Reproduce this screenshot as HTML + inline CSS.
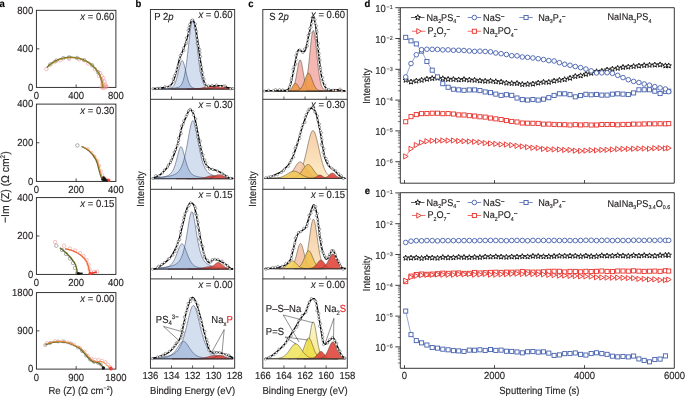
<!DOCTYPE html><html><head><meta charset="utf-8"><style>html,body{margin:0;padding:0;background:#fff;overflow:hidden}svg{display:block;will-change:transform}text{font-family:"Liberation Sans",sans-serif;text-rendering:geometricPrecision;}</style></head><body>
<svg width="685" height="396" viewBox="0 0 685 396">
<rect width="685" height="396" fill="#fff"/>
<text transform="translate(-0.60,6.80) scale(1,1.08)" x="0" y="0" font-size="9.5" text-anchor="start" fill="#000" stroke="#000" stroke-width="0.14" font-weight="bold" >a</text>
<text transform="translate(135.40,6.80) scale(1,1.08)" x="0" y="0" font-size="9.5" text-anchor="start" fill="#000" stroke="#000" stroke-width="0.14" font-weight="bold" >b</text>
<text transform="translate(248.30,6.80) scale(1,1.08)" x="0" y="0" font-size="9.5" text-anchor="start" fill="#000" stroke="#000" stroke-width="0.14" font-weight="bold" >c</text>
<text transform="translate(364.60,6.80) scale(1,1.08)" x="0" y="0" font-size="9.5" text-anchor="start" fill="#000" stroke="#000" stroke-width="0.14" font-weight="bold" >d</text>
<text transform="translate(364.80,194.40) scale(1,1.08)" x="0" y="0" font-size="9.5" text-anchor="start" fill="#000" stroke="#000" stroke-width="0.14" font-weight="bold" >e</text>
<rect x="36.4" y="10.3" width="79.50" height="77.10" fill="none" stroke="#231f20" stroke-width="0.9"/>
<line x1="36.40" y1="48.85" x2="39.40" y2="48.85" stroke="#231f20" stroke-width="0.8"/>
<line x1="76.15" y1="87.40" x2="76.15" y2="84.40" stroke="#231f20" stroke-width="0.8"/>
<text transform="translate(33.20,90.60) scale(1,1.08)" x="0" y="0" font-size="9.5" text-anchor="end" fill="#231f20" stroke="#231f20" stroke-width="0.14" font-weight="normal" >0</text>
<text transform="translate(33.20,52.05) scale(1,1.08)" x="0" y="0" font-size="9.5" text-anchor="end" fill="#231f20" stroke="#231f20" stroke-width="0.14" font-weight="normal" >400</text>
<text transform="translate(33.20,13.50) scale(1,1.08)" x="0" y="0" font-size="9.5" text-anchor="end" fill="#231f20" stroke="#231f20" stroke-width="0.14" font-weight="normal" >800</text>
<text transform="translate(36.40,99.00) scale(1,1.08)" x="0" y="0" font-size="9.5" text-anchor="middle" fill="#231f20" stroke="#231f20" stroke-width="0.14" font-weight="normal" >0</text>
<text transform="translate(76.15,99.00) scale(1,1.08)" x="0" y="0" font-size="9.5" text-anchor="middle" fill="#231f20" stroke="#231f20" stroke-width="0.14" font-weight="normal" >400</text>
<text transform="translate(115.90,99.00) scale(1,1.08)" x="0" y="0" font-size="9.5" text-anchor="middle" fill="#231f20" stroke="#231f20" stroke-width="0.14" font-weight="normal" >800</text>
<text transform="translate(114.40,19.90) scale(1,1.08)" x="0" y="0" font-size="9.5" text-anchor="end" fill="#231f20" stroke="#231f20" stroke-width="0.14"><tspan font-style="italic">x</tspan> = 0.60</text>
<rect x="36.4" y="104.1" width="79.50" height="77.30" fill="none" stroke="#231f20" stroke-width="0.9"/>
<line x1="36.40" y1="142.75" x2="39.40" y2="142.75" stroke="#231f20" stroke-width="0.8"/>
<line x1="76.15" y1="181.40" x2="76.15" y2="178.40" stroke="#231f20" stroke-width="0.8"/>
<text transform="translate(33.20,184.60) scale(1,1.08)" x="0" y="0" font-size="9.5" text-anchor="end" fill="#231f20" stroke="#231f20" stroke-width="0.14" font-weight="normal" >0</text>
<text transform="translate(33.20,145.95) scale(1,1.08)" x="0" y="0" font-size="9.5" text-anchor="end" fill="#231f20" stroke="#231f20" stroke-width="0.14" font-weight="normal" >200</text>
<text transform="translate(33.20,107.30) scale(1,1.08)" x="0" y="0" font-size="9.5" text-anchor="end" fill="#231f20" stroke="#231f20" stroke-width="0.14" font-weight="normal" >400</text>
<text transform="translate(36.40,193.00) scale(1,1.08)" x="0" y="0" font-size="9.5" text-anchor="middle" fill="#231f20" stroke="#231f20" stroke-width="0.14" font-weight="normal" >0</text>
<text transform="translate(76.15,193.00) scale(1,1.08)" x="0" y="0" font-size="9.5" text-anchor="middle" fill="#231f20" stroke="#231f20" stroke-width="0.14" font-weight="normal" >200</text>
<text transform="translate(115.90,193.00) scale(1,1.08)" x="0" y="0" font-size="9.5" text-anchor="middle" fill="#231f20" stroke="#231f20" stroke-width="0.14" font-weight="normal" >400</text>
<text transform="translate(114.40,113.70) scale(1,1.08)" x="0" y="0" font-size="9.5" text-anchor="end" fill="#231f20" stroke="#231f20" stroke-width="0.14"><tspan font-style="italic">x</tspan> = 0.30</text>
<rect x="36.4" y="197.6" width="79.50" height="76.80" fill="none" stroke="#231f20" stroke-width="0.9"/>
<line x1="36.40" y1="236.00" x2="39.40" y2="236.00" stroke="#231f20" stroke-width="0.8"/>
<line x1="76.15" y1="274.40" x2="76.15" y2="271.40" stroke="#231f20" stroke-width="0.8"/>
<text transform="translate(33.20,277.60) scale(1,1.08)" x="0" y="0" font-size="9.5" text-anchor="end" fill="#231f20" stroke="#231f20" stroke-width="0.14" font-weight="normal" >0</text>
<text transform="translate(33.20,239.20) scale(1,1.08)" x="0" y="0" font-size="9.5" text-anchor="end" fill="#231f20" stroke="#231f20" stroke-width="0.14" font-weight="normal" >200</text>
<text transform="translate(33.20,200.80) scale(1,1.08)" x="0" y="0" font-size="9.5" text-anchor="end" fill="#231f20" stroke="#231f20" stroke-width="0.14" font-weight="normal" >400</text>
<text transform="translate(36.40,286.00) scale(1,1.08)" x="0" y="0" font-size="9.5" text-anchor="middle" fill="#231f20" stroke="#231f20" stroke-width="0.14" font-weight="normal" >0</text>
<text transform="translate(76.15,286.00) scale(1,1.08)" x="0" y="0" font-size="9.5" text-anchor="middle" fill="#231f20" stroke="#231f20" stroke-width="0.14" font-weight="normal" >200</text>
<text transform="translate(115.90,286.00) scale(1,1.08)" x="0" y="0" font-size="9.5" text-anchor="middle" fill="#231f20" stroke="#231f20" stroke-width="0.14" font-weight="normal" >400</text>
<text transform="translate(114.40,207.20) scale(1,1.08)" x="0" y="0" font-size="9.5" text-anchor="end" fill="#231f20" stroke="#231f20" stroke-width="0.14"><tspan font-style="italic">x</tspan> = 0.15</text>
<rect x="36.4" y="292.6" width="79.50" height="76.50" fill="none" stroke="#231f20" stroke-width="0.9"/>
<line x1="36.40" y1="330.85" x2="39.40" y2="330.85" stroke="#231f20" stroke-width="0.8"/>
<line x1="76.15" y1="369.10" x2="76.15" y2="366.10" stroke="#231f20" stroke-width="0.8"/>
<text transform="translate(33.20,372.30) scale(1,1.08)" x="0" y="0" font-size="9.5" text-anchor="end" fill="#231f20" stroke="#231f20" stroke-width="0.14" font-weight="normal" >0</text>
<text transform="translate(33.20,334.05) scale(1,1.08)" x="0" y="0" font-size="9.5" text-anchor="end" fill="#231f20" stroke="#231f20" stroke-width="0.14" font-weight="normal" >900</text>
<text transform="translate(33.20,295.80) scale(1,1.08)" x="0" y="0" font-size="9.5" text-anchor="end" fill="#231f20" stroke="#231f20" stroke-width="0.14" font-weight="normal" >1800</text>
<text transform="translate(36.40,380.70) scale(1,1.08)" x="0" y="0" font-size="9.5" text-anchor="middle" fill="#231f20" stroke="#231f20" stroke-width="0.14" font-weight="normal" >0</text>
<text transform="translate(76.15,380.70) scale(1,1.08)" x="0" y="0" font-size="9.5" text-anchor="middle" fill="#231f20" stroke="#231f20" stroke-width="0.14" font-weight="normal" >900</text>
<text transform="translate(115.90,380.70) scale(1,1.08)" x="0" y="0" font-size="9.5" text-anchor="middle" fill="#231f20" stroke="#231f20" stroke-width="0.14" font-weight="normal" >1800</text>
<text transform="translate(114.40,302.20) scale(1,1.08)" x="0" y="0" font-size="9.5" text-anchor="end" fill="#231f20" stroke="#231f20" stroke-width="0.14"><tspan font-style="italic">x</tspan> = 0.00</text>
<text transform="translate(9.2,187.2) rotate(-90) scale(1,1.08)" font-size="10.4" text-anchor="middle" fill="#231f20" stroke="#231f20" stroke-width="0.14">−Im (Z) (Ω cm<tspan font-size="6.3" dy="-3.8">2</tspan><tspan dy="3.8">)</tspan></text>
<text transform="translate(80.60,393.60) scale(1,1.08)" x="0" y="0" font-size="9.5" text-anchor="middle" fill="#231f20" stroke="#231f20" stroke-width="0.14">Re (Z) (Ω cm<tspan font-size="5.4" dy="-3.6">−2</tspan><tspan dy="3.6">)</tspan></text>
<circle cx="50.31" cy="64.43" r="1.75" fill="none" stroke="#707070" stroke-width="0.55"/>
<circle cx="56.27" cy="60.66" r="1.75" fill="none" stroke="#707070" stroke-width="0.55"/>
<circle cx="63.23" cy="58.18" r="1.75" fill="none" stroke="#707070" stroke-width="0.55"/>
<circle cx="69.19" cy="57.36" r="1.75" fill="none" stroke="#707070" stroke-width="0.55"/>
<circle cx="77.14" cy="57.97" r="1.75" fill="none" stroke="#707070" stroke-width="0.55"/>
<circle cx="84.10" cy="60.19" r="1.75" fill="none" stroke="#707070" stroke-width="0.55"/>
<circle cx="92.05" cy="65.26" r="1.75" fill="none" stroke="#707070" stroke-width="0.55"/>
<circle cx="98.01" cy="72.22" r="1.75" fill="none" stroke="#707070" stroke-width="0.55"/>
<circle cx="46.34" cy="69.19" r="1.75" fill="none" stroke="#f29090" stroke-width="0.55"/>
<circle cx="54.29" cy="62.20" r="1.75" fill="none" stroke="#f29090" stroke-width="0.55"/>
<circle cx="60.25" cy="60.18" r="1.75" fill="none" stroke="#f29090" stroke-width="0.55"/>
<circle cx="69.19" cy="58.81" r="1.75" fill="none" stroke="#f29090" stroke-width="0.55"/>
<circle cx="79.13" cy="59.40" r="1.75" fill="none" stroke="#f29090" stroke-width="0.55"/>
<circle cx="88.08" cy="63.47" r="1.75" fill="none" stroke="#f29090" stroke-width="0.55"/>
<circle cx="95.03" cy="69.19" r="1.75" fill="none" stroke="#f29090" stroke-width="0.55"/>
<circle cx="99.01" cy="75.85" r="1.75" fill="none" stroke="#f29090" stroke-width="0.55"/>
<circle cx="100.00" cy="72.94" r="1.75" fill="none" stroke="#f29090" stroke-width="0.55"/>
<circle cx="101.49" cy="75.84" r="1.75" fill="none" stroke="#f29090" stroke-width="0.55"/>
<circle cx="103.48" cy="78.24" r="1.75" fill="none" stroke="#f29090" stroke-width="0.55"/>
<circle cx="101.99" cy="80.17" r="1.75" fill="none" stroke="#f29090" stroke-width="0.55"/>
<circle cx="104.47" cy="81.62" r="1.75" fill="none" stroke="#f29090" stroke-width="0.55"/>
<circle cx="102.48" cy="83.55" r="1.75" fill="none" stroke="#f29090" stroke-width="0.55"/>
<circle cx="104.97" cy="84.51" r="1.75" fill="none" stroke="#f29090" stroke-width="0.55"/>
<circle cx="105.96" cy="85.95" r="1.75" fill="none" stroke="#f29090" stroke-width="0.55"/>
<circle cx="103.48" cy="86.44" r="1.75" fill="none" stroke="#f29090" stroke-width="0.55"/>
<circle cx="101.49" cy="86.92" r="1.75" fill="none" stroke="#f29090" stroke-width="0.55"/>
<circle cx="104.97" cy="87.40" r="1.75" fill="none" stroke="#f29090" stroke-width="0.55"/>
<circle cx="106.46" cy="86.92" r="1.75" fill="none" stroke="#f29090" stroke-width="0.55"/>
<circle cx="102.98" cy="87.88" r="1.75" fill="none" stroke="#f29090" stroke-width="0.55"/>
<path d="M46.90,67.60 C47.13,67.37 47.79,66.67 48.25,66.23 C48.72,65.79 49.20,65.36 49.69,64.95 C50.18,64.53 50.68,64.13 51.20,63.75 C51.71,63.36 52.24,63.00 52.78,62.64 C53.32,62.29 53.87,61.95 54.43,61.63 C54.99,61.31 55.56,61.01 56.14,60.72 C56.72,60.43 57.31,60.16 57.91,59.91 C58.50,59.66 59.11,59.43 59.72,59.21 C60.33,58.99 60.95,58.80 61.57,58.62 C62.20,58.44 62.83,58.27 63.46,58.13 C64.09,57.99 64.73,57.87 65.37,57.76 C66.01,57.66 66.66,57.57 67.31,57.50 C67.95,57.44 68.60,57.39 69.25,57.36 C69.90,57.33 70.55,57.32 71.20,57.34 C71.85,57.35 72.50,57.37 73.15,57.42 C73.80,57.47 74.45,57.54 75.09,57.63 C75.74,57.71 76.38,57.82 77.02,57.94 C77.65,58.07 78.29,58.21 78.92,58.38 C79.55,58.54 80.17,58.72 80.79,58.92 C81.40,59.12 82.02,59.34 82.62,59.57 C83.22,59.81 83.82,60.06 84.41,60.33 C84.99,60.60 85.57,60.89 86.14,61.19 C86.71,61.50 87.27,61.82 87.82,62.16 C88.37,62.50 88.91,62.85 89.44,63.22 C89.97,63.59 90.48,63.98 90.98,64.38 C91.49,64.78 91.98,65.19 92.45,65.62 C92.93,66.05 93.39,66.49 93.84,66.95 C94.29,67.41 94.73,67.88 95.15,68.36 C95.57,68.84 95.97,69.34 96.36,69.84 C96.75,70.35 97.12,70.87 97.48,71.39 C97.83,71.92 98.17,72.46 98.49,73.01 C98.81,73.56 99.12,74.12 99.41,74.68 C99.69,75.25 99.96,75.82 100.21,76.41 C100.46,76.99 100.70,77.58 100.91,78.17 C101.12,78.77 101.32,79.37 101.49,79.98 C101.67,80.59 101.83,81.20 101.96,81.82 C102.10,82.43 102.22,83.05 102.32,83.68 C102.41,84.30 102.49,84.94 102.55,85.56 C102.61,86.18 102.65,87.09 102.67,87.40 C102.69,87.71 102.67,87.40 102.67,87.40" fill="none" stroke="#5f6820" stroke-width="1.5"/>
<path d="M47.10,67.95 C47.33,67.72 47.99,67.02 48.45,66.58 C48.92,66.14 49.40,65.71 49.89,65.30 C50.38,64.88 50.88,64.48 51.40,64.10 C51.91,63.71 52.44,63.35 52.98,62.99 C53.52,62.64 54.07,62.30 54.63,61.98 C55.19,61.66 55.76,61.36 56.34,61.07 C56.92,60.78 57.51,60.51 58.11,60.26 C58.70,60.01 59.31,59.78 59.92,59.56 C60.53,59.34 61.15,59.15 61.77,58.97 C62.40,58.79 63.03,58.62 63.66,58.48 C64.29,58.34 64.93,58.22 65.57,58.11 C66.21,58.01 66.86,57.92 67.51,57.85 C68.15,57.79 68.80,57.74 69.45,57.71 C70.10,57.68 70.75,57.67 71.40,57.69 C72.05,57.70 72.70,57.72 73.35,57.77 C74.00,57.82 74.65,57.89 75.29,57.98 C75.94,58.06 76.58,58.17 77.22,58.29 C77.85,58.42 78.49,58.56 79.12,58.73 C79.75,58.89 80.37,59.07 80.99,59.27 C81.60,59.47 82.22,59.69 82.82,59.92 C83.42,60.16 84.02,60.41 84.61,60.68 C85.19,60.95 85.77,61.24 86.34,61.54 C86.91,61.85 87.47,62.17 88.02,62.51 C88.57,62.85 89.11,63.20 89.64,63.57 C90.17,63.94 90.68,64.33 91.18,64.73 C91.69,65.13 92.18,65.54 92.65,65.97 C93.13,66.40 93.59,66.84 94.04,67.30 C94.49,67.76 94.93,68.23 95.35,68.71 C95.77,69.19 96.17,69.69 96.56,70.19 C96.95,70.70 97.32,71.22 97.68,71.74 C98.03,72.27 98.37,72.81 98.69,73.36 C99.01,73.91 99.32,74.47 99.61,75.03 C99.89,75.60 100.16,76.17 100.41,76.76 C100.66,77.34 100.90,77.93 101.11,78.52 C101.32,79.12 101.52,79.72 101.69,80.33 C101.87,80.94 102.03,81.55 102.16,82.17 C102.30,82.78 102.42,83.40 102.52,84.03 C102.61,84.65 102.69,85.29 102.75,85.91 C102.81,86.53 102.85,87.44 102.87,87.75 C102.89,88.06 102.87,87.75 102.87,87.75" fill="none" stroke="#e0a028" stroke-width="0.65"/>
<circle cx="77.40" cy="145.40" r="1.75" fill="none" stroke="#707070" stroke-width="0.55"/>
<circle cx="88.00" cy="149.00" r="1.4" fill="none" stroke="#f29090" stroke-width="0.55"/>
<circle cx="91.50" cy="152.50" r="1.4" fill="none" stroke="#f29090" stroke-width="0.55"/>
<circle cx="94.50" cy="156.50" r="1.4" fill="none" stroke="#f29090" stroke-width="0.55"/>
<circle cx="97.50" cy="161.00" r="1.4" fill="none" stroke="#f29090" stroke-width="0.55"/>
<circle cx="99.50" cy="166.00" r="1.4" fill="none" stroke="#f29090" stroke-width="0.55"/>
<circle cx="101.00" cy="171.00" r="1.4" fill="none" stroke="#f29090" stroke-width="0.55"/>
<circle cx="102.50" cy="175.00" r="1.4" fill="none" stroke="#f29090" stroke-width="0.55"/>
<circle cx="104.50" cy="178.00" r="1.4" fill="none" stroke="#f29090" stroke-width="0.55"/>
<circle cx="107.00" cy="179.50" r="1.4" fill="none" stroke="#f29090" stroke-width="0.55"/>
<circle cx="109.00" cy="180.00" r="1.4" fill="none" stroke="#f29090" stroke-width="0.55"/>
<path d="M81.50,146.40 C82.25,146.77 84.62,147.73 86.00,148.60 C87.38,149.47 88.58,150.45 89.80,151.60 C91.02,152.75 92.27,154.12 93.30,155.50 C94.33,156.88 95.25,158.32 96.00,159.90 C96.75,161.48 97.28,163.27 97.80,165.00 C98.32,166.73 98.63,168.55 99.10,170.30 C99.57,172.05 100.07,173.95 100.60,175.50 C101.13,177.05 102.02,178.92 102.30,179.60" fill="none" stroke="#5f6820" stroke-width="1.3"/>
<path d="M82.60,146.60 C83.35,146.97 85.72,147.93 87.10,148.80 C88.48,149.67 89.68,150.65 90.90,151.80 C92.12,152.95 93.37,154.32 94.40,155.70 C95.43,157.08 96.35,158.52 97.10,160.10 C97.85,161.68 98.38,163.47 98.90,165.20 C99.42,166.93 99.73,168.75 100.20,170.50 C100.67,172.25 101.17,174.15 101.70,175.70 C102.23,177.25 103.12,179.12 103.40,179.80" fill="none" stroke="#ef8a3a" stroke-width="0.9"/>
<circle cx="102.5" cy="179.5" r="1.25" fill="#111"/>
<circle cx="104" cy="180.3" r="1.25" fill="#111"/>
<circle cx="105.5" cy="179.8" r="1.25" fill="#111"/>
<circle cx="107" cy="180.6" r="1.25" fill="#111"/>
<circle cx="104.5" cy="178.5" r="1.25" fill="#111"/>
<circle cx="103.5" cy="177.5" r="1.25" fill="#111"/>
<circle cx="108.8" cy="180.2" r="1.3" fill="#e23a2a"/>
<circle cx="56.30" cy="245.70" r="1.75" fill="none" stroke="#707070" stroke-width="0.55"/>
<circle cx="62.00" cy="250.00" r="1.75" fill="none" stroke="#707070" stroke-width="0.55"/>
<circle cx="66.00" cy="254.00" r="1.75" fill="none" stroke="#707070" stroke-width="0.55"/>
<circle cx="70.00" cy="258.50" r="1.75" fill="none" stroke="#707070" stroke-width="0.55"/>
<circle cx="73.00" cy="263.00" r="1.75" fill="none" stroke="#707070" stroke-width="0.55"/>
<circle cx="75.00" cy="268.00" r="1.75" fill="none" stroke="#707070" stroke-width="0.55"/>
<circle cx="55.00" cy="242.00" r="1.75" fill="none" stroke="#f29090" stroke-width="0.55"/>
<circle cx="64.00" cy="245.70" r="1.75" fill="none" stroke="#f29090" stroke-width="0.55"/>
<circle cx="70.00" cy="248.50" r="1.75" fill="none" stroke="#f29090" stroke-width="0.55"/>
<circle cx="75.00" cy="250.50" r="1.75" fill="none" stroke="#f29090" stroke-width="0.55"/>
<circle cx="80.00" cy="253.00" r="1.75" fill="none" stroke="#f29090" stroke-width="0.55"/>
<circle cx="83.50" cy="256.00" r="1.75" fill="none" stroke="#f29090" stroke-width="0.55"/>
<circle cx="86.50" cy="260.00" r="1.75" fill="none" stroke="#f29090" stroke-width="0.55"/>
<circle cx="88.50" cy="264.50" r="1.75" fill="none" stroke="#f29090" stroke-width="0.55"/>
<circle cx="89.50" cy="269.00" r="1.75" fill="none" stroke="#f29090" stroke-width="0.55"/>
<circle cx="91.00" cy="272.50" r="1.75" fill="none" stroke="#f29090" stroke-width="0.55"/>
<circle cx="94.00" cy="272.00" r="1.75" fill="none" stroke="#f29090" stroke-width="0.55"/>
<circle cx="97.00" cy="271.60" r="1.75" fill="none" stroke="#f29090" stroke-width="0.55"/>
<path d="M59.80,247.80 C60.58,248.42 62.95,250.13 64.50,251.50 C66.05,252.87 67.72,254.50 69.10,256.00 C70.48,257.50 71.77,259.12 72.80,260.50 C73.83,261.88 74.65,262.92 75.30,264.30 C75.95,265.68 76.35,267.25 76.70,268.80 C77.05,270.35 77.28,272.80 77.40,273.60" fill="none" stroke="#5f6820" stroke-width="1.4"/>
<path d="M65.00,248.80 C66.00,249.03 68.93,249.50 71.00,250.20 C73.07,250.90 75.57,252.00 77.40,253.00 C79.23,254.00 80.62,255.00 82.00,256.20 C83.38,257.40 84.73,258.82 85.70,260.20 C86.67,261.58 87.28,263.12 87.80,264.50 C88.32,265.88 88.47,267.05 88.80,268.50 C89.13,269.95 89.63,272.42 89.80,273.20" fill="none" stroke="#ee6a3a" stroke-width="1.4"/>
<path d="M77.4,273.6 L82.6,273.2" fill="none" stroke="#111" stroke-width="1.6"/>
<path d="M89.8,273.6 L97,272" fill="none" stroke="#e83a2a" stroke-width="1.6"/>
<circle cx="78.5" cy="273.5" r="1.5" fill="#111"/>
<circle cx="90" cy="273.5" r="1.5" fill="#e83a2a"/>
<circle cx="45.30" cy="345.00" r="1.5" fill="none" stroke="#707070" stroke-width="0.55"/>
<circle cx="50.00" cy="343.00" r="1.5" fill="none" stroke="#707070" stroke-width="0.55"/>
<circle cx="58.00" cy="341.50" r="1.5" fill="none" stroke="#707070" stroke-width="0.55"/>
<circle cx="64.00" cy="341.50" r="1.5" fill="none" stroke="#707070" stroke-width="0.55"/>
<circle cx="71.00" cy="343.50" r="1.5" fill="none" stroke="#707070" stroke-width="0.55"/>
<circle cx="78.00" cy="347.50" r="1.5" fill="none" stroke="#707070" stroke-width="0.55"/>
<circle cx="82.00" cy="351.00" r="1.5" fill="none" stroke="#707070" stroke-width="0.55"/>
<circle cx="86.00" cy="355.50" r="1.5" fill="none" stroke="#707070" stroke-width="0.55"/>
<circle cx="90.00" cy="359.50" r="1.5" fill="none" stroke="#707070" stroke-width="0.55"/>
<circle cx="94.00" cy="362.00" r="1.5" fill="none" stroke="#707070" stroke-width="0.55"/>
<circle cx="98.00" cy="363.00" r="1.5" fill="none" stroke="#707070" stroke-width="0.55"/>
<circle cx="101.00" cy="364.50" r="1.5" fill="none" stroke="#707070" stroke-width="0.55"/>
<circle cx="47.00" cy="343.00" r="1.5" fill="none" stroke="#f29090" stroke-width="0.55"/>
<circle cx="55.00" cy="341.00" r="1.5" fill="none" stroke="#f29090" stroke-width="0.55"/>
<circle cx="62.00" cy="341.20" r="1.5" fill="none" stroke="#f29090" stroke-width="0.55"/>
<circle cx="68.00" cy="342.50" r="1.5" fill="none" stroke="#f29090" stroke-width="0.55"/>
<circle cx="74.00" cy="344.50" r="1.5" fill="none" stroke="#f29090" stroke-width="0.55"/>
<circle cx="80.00" cy="348.00" r="1.5" fill="none" stroke="#f29090" stroke-width="0.55"/>
<circle cx="84.50" cy="351.50" r="1.5" fill="none" stroke="#f29090" stroke-width="0.55"/>
<circle cx="88.00" cy="355.50" r="1.5" fill="none" stroke="#f29090" stroke-width="0.55"/>
<circle cx="91.50" cy="358.50" r="1.5" fill="none" stroke="#f29090" stroke-width="0.55"/>
<circle cx="95.00" cy="359.50" r="1.5" fill="none" stroke="#f29090" stroke-width="0.55"/>
<circle cx="98.50" cy="359.80" r="1.5" fill="none" stroke="#f29090" stroke-width="0.55"/>
<circle cx="102.00" cy="360.50" r="1.5" fill="none" stroke="#f29090" stroke-width="0.55"/>
<circle cx="105.50" cy="362.00" r="1.5" fill="none" stroke="#f29090" stroke-width="0.55"/>
<circle cx="108.00" cy="364.50" r="1.5" fill="none" stroke="#f29090" stroke-width="0.55"/>
<circle cx="110.00" cy="367.00" r="1.5" fill="none" stroke="#f29090" stroke-width="0.55"/>
<path d="M45.30,344.90 C46.42,344.50 49.42,343.02 52.00,342.50 C54.58,341.98 57.97,341.68 60.80,341.80 C63.63,341.92 66.23,342.33 69.00,343.20 C71.77,344.07 75.57,346.12 77.40,347.00 C79.23,347.88 78.90,347.52 80.00,348.50 C81.10,349.48 82.65,351.37 84.00,352.90 C85.35,354.43 86.75,356.28 88.10,357.70 C89.45,359.12 90.77,360.65 92.10,361.40 C93.43,362.15 94.88,361.87 96.10,362.20 C97.32,362.53 98.45,362.80 99.40,363.40 C100.35,364.00 101.13,365.00 101.80,365.80 C102.47,366.60 103.13,367.80 103.40,368.20" fill="none" stroke="#5f6820" stroke-width="1.3"/>
<path d="M45.30,344.50 C46.42,344.10 49.42,342.62 52.00,342.10 C54.58,341.58 57.97,341.27 60.80,341.40 C63.63,341.53 66.23,342.05 69.00,342.90 C71.77,343.75 75.57,345.70 77.40,346.50 C79.23,347.30 78.77,346.77 80.00,347.70 C81.23,348.63 83.32,350.57 84.80,352.10 C86.28,353.63 87.55,355.48 88.90,356.90 C90.25,358.32 91.57,359.78 92.90,360.60 C94.23,361.42 95.55,361.67 96.90,361.80 C98.25,361.93 99.65,361.13 101.00,361.40 C102.35,361.67 103.80,362.53 105.00,363.40 C106.20,364.27 107.27,365.73 108.20,366.60 C109.13,367.47 110.20,368.27 110.60,368.60" fill="none" stroke="#ef8a3a" stroke-width="1.0"/>
<circle cx="103.4" cy="368" r="1.7" fill="#111"/>
<circle cx="110.8" cy="368.5" r="1.9" fill="#ee3a2a"/>
<path d="M161.30,88.73 L161.80,88.72 L162.29,88.70 L162.79,88.69 L163.28,88.68 L163.78,88.66 L164.28,88.65 L164.77,88.63 L165.27,88.62 L165.76,88.60 L166.26,88.58 L166.76,88.56 L167.25,88.54 L167.75,88.52 L168.24,88.50 L168.74,88.47 L169.24,88.45 L169.73,88.42 L170.23,88.39 L170.73,88.36 L171.22,88.33 L171.72,88.29 L172.21,88.26 L172.71,88.22 L173.21,88.17 L173.70,88.12 L174.20,88.07 L174.69,88.02 L175.19,87.95 L175.69,87.88 L176.18,87.79 L176.68,87.70 L177.17,87.58 L177.67,87.44 L178.17,87.27 L178.66,87.07 L179.16,86.81 L179.65,86.49 L180.15,86.09 L180.65,85.58 L181.14,84.96 L181.64,84.19 L182.13,83.25 L182.63,82.10 L183.13,80.71 L183.62,79.06 L184.12,77.11 L184.61,74.84 L185.11,72.23 L185.61,69.28 L186.10,65.98 L186.60,62.35 L187.10,58.42 L187.59,54.24 L188.09,49.88 L188.58,45.41 L189.08,40.94 L189.58,36.58 L190.07,32.46 L190.57,28.71 L191.06,25.49 L191.56,22.92 L192.06,21.14 L192.55,20.22 L193.05,20.22 L193.54,21.14 L194.04,22.92 L194.54,25.49 L195.03,28.71 L195.53,32.46 L196.02,36.58 L196.52,40.94 L197.02,45.41 L197.51,49.88 L198.01,54.24 L198.50,58.42 L199.00,62.35 L199.50,65.98 L199.99,69.28 L200.49,72.23 L200.99,74.84 L201.48,77.11 L201.98,79.06 L202.47,80.71 L202.97,82.10 L203.47,83.25 L203.96,84.19 L204.46,84.96 L204.95,85.58 L205.45,86.09 L205.95,86.49 L206.44,86.81 L206.94,87.07 L207.43,87.27 L207.93,87.44 L208.43,87.58 L208.92,87.70 L209.42,87.79 L209.91,87.88 L210.41,87.95 L210.91,88.02 L211.40,88.07 L211.90,88.12 L212.39,88.17 L212.89,88.22 L213.39,88.26 L213.88,88.29 L214.38,88.33 L214.87,88.36 L215.37,88.39 L215.87,88.42 L216.36,88.45 L216.86,88.47 L217.36,88.50 L217.85,88.52 L218.35,88.54 L218.84,88.56 L219.34,88.58 L219.84,88.60 L220.33,88.62 L220.83,88.63 L221.32,88.65 L221.82,88.66 L222.32,88.68 L222.81,88.69 L223.31,88.70 L223.80,88.72 L224.30,88.73 L224.30,89.10 L161.30,89.10 Z" fill="#0b48a1" fill-opacity="0.18" stroke="#2e3a5c" stroke-width="0.5" stroke-linejoin="round"/>
<path d="M155.10,88.95 L155.60,88.94 L156.09,88.93 L156.59,88.93 L157.08,88.92 L157.58,88.91 L158.07,88.91 L158.57,88.90 L159.06,88.89 L159.56,88.88 L160.05,88.87 L160.55,88.86 L161.04,88.85 L161.54,88.84 L162.04,88.83 L162.53,88.81 L163.03,88.80 L163.52,88.78 L164.02,88.77 L164.51,88.75 L165.01,88.73 L165.50,88.71 L166.00,88.68 L166.49,88.66 L166.99,88.63 L167.49,88.59 L167.98,88.55 L168.48,88.50 L168.97,88.44 L169.47,88.36 L169.96,88.26 L170.46,88.14 L170.95,87.98 L171.45,87.77 L171.94,87.50 L172.44,87.15 L172.93,86.71 L173.43,86.15 L173.93,85.46 L174.42,84.61 L174.92,83.60 L175.41,82.39 L175.91,80.99 L176.40,79.40 L176.90,77.63 L177.39,75.70 L177.89,73.64 L178.38,71.50 L178.88,69.34 L179.38,67.25 L179.87,65.29 L180.37,63.57 L180.86,62.17 L181.36,61.18 L181.85,60.67 L182.35,60.67 L182.84,61.18 L183.34,62.17 L183.83,63.57 L184.33,65.29 L184.82,67.25 L185.32,69.34 L185.82,71.50 L186.31,73.64 L186.81,75.70 L187.30,77.63 L187.80,79.40 L188.29,80.99 L188.79,82.39 L189.28,83.60 L189.78,84.61 L190.27,85.46 L190.77,86.15 L191.27,86.71 L191.76,87.15 L192.26,87.50 L192.75,87.77 L193.25,87.98 L193.74,88.14 L194.24,88.26 L194.73,88.36 L195.23,88.44 L195.72,88.50 L196.22,88.55 L196.71,88.59 L197.21,88.63 L197.71,88.66 L198.20,88.68 L198.70,88.71 L199.19,88.73 L199.69,88.75 L200.18,88.77 L200.68,88.78 L201.17,88.80 L201.67,88.81 L202.16,88.83 L202.66,88.84 L203.16,88.85 L203.65,88.86 L204.15,88.87 L204.64,88.88 L205.14,88.89 L205.63,88.90 L206.13,88.91 L206.62,88.91 L207.12,88.92 L207.61,88.93 L208.11,88.93 L208.60,88.94 L209.10,88.95 L209.10,89.10 L155.10,89.10 Z" fill="#0b48a1" fill-opacity="0.18" stroke="#2e3a5c" stroke-width="0.5" stroke-linejoin="round"/>
<path d="M171.00,89.07 L171.50,89.07 L171.99,89.07 L172.49,89.07 L172.99,89.07 L173.49,89.07 L173.98,89.07 L174.48,89.07 L174.98,89.07 L175.48,89.07 L175.97,89.07 L176.47,89.07 L176.97,89.06 L177.46,89.06 L177.96,89.06 L178.46,89.06 L178.96,89.06 L179.45,89.06 L179.95,89.06 L180.45,89.06 L180.95,89.05 L181.44,89.05 L181.94,89.05 L182.44,89.05 L182.93,89.05 L183.43,89.05 L183.93,89.04 L184.43,89.04 L184.92,89.04 L185.42,89.04 L185.92,89.03 L186.42,89.03 L186.91,89.03 L187.41,89.03 L187.91,89.02 L188.40,89.02 L188.90,89.02 L189.40,89.01 L189.90,89.01 L190.39,89.00 L190.89,88.99 L191.39,88.99 L191.89,88.98 L192.38,88.97 L192.88,88.96 L193.38,88.95 L193.87,88.93 L194.37,88.92 L194.87,88.90 L195.37,88.88 L195.86,88.85 L196.36,88.82 L196.86,88.78 L197.36,88.74 L197.85,88.69 L198.35,88.63 L198.85,88.57 L199.34,88.49 L199.84,88.41 L200.34,88.32 L200.84,88.21 L201.33,88.10 L201.83,87.98 L202.33,87.85 L202.83,87.70 L203.32,87.55 L203.82,87.40 L204.32,87.24 L204.82,87.07 L205.31,86.91 L205.81,86.74 L206.31,86.58 L206.80,86.43 L207.30,86.29 L207.80,86.17 L208.30,86.07 L208.79,85.98 L209.29,85.93 L209.79,85.90 L210.29,85.90 L210.78,85.94 L211.28,86.00 L211.78,86.08 L212.27,86.19 L212.77,86.31 L213.27,86.45 L213.77,86.61 L214.26,86.77 L214.76,86.93 L215.26,87.10 L215.76,87.26 L216.25,87.42 L216.75,87.58 L217.25,87.73 L217.74,87.87 L218.24,88.00 L218.74,88.12 L219.24,88.23 L219.73,88.33 L220.23,88.42 L220.73,88.50 L221.23,88.58 L221.72,88.64 L222.22,88.69 L222.72,88.74 L223.21,88.79 L223.71,88.82 L224.21,88.85 L224.71,88.88 L225.20,88.90 L225.70,88.92 L226.20,88.94 L226.70,88.95 L227.19,88.96 L227.69,88.97 L228.19,88.98 L228.68,88.99 L229.18,89.00 L229.68,89.00 L230.18,89.01 L230.67,89.01 L231.17,89.02 L231.67,89.02 L232.17,89.02 L232.66,89.03 L233.16,89.03 L233.16,89.10 L171.00,89.10 Z" fill="#e0463c" fill-opacity="0.85" stroke="#5a2020" stroke-width="0.5" stroke-linejoin="round"/>
<path d="M187.00,89.07 L187.50,89.07 L187.99,89.07 L188.49,89.07 L188.99,89.07 L189.48,89.07 L189.98,89.07 L190.47,89.07 L190.97,89.06 L191.47,89.06 L191.96,89.06 L192.46,89.06 L192.96,89.06 L193.45,89.06 L193.95,89.06 L194.45,89.05 L194.94,89.05 L195.44,89.05 L195.93,89.05 L196.43,89.05 L196.93,89.05 L197.42,89.04 L197.92,89.04 L198.42,89.04 L198.91,89.03 L199.41,89.03 L199.90,89.03 L200.40,89.03 L200.90,89.02 L201.39,89.02 L201.89,89.01 L202.39,89.01 L202.88,89.00 L203.38,89.00 L203.88,88.99 L204.37,88.98 L204.87,88.97 L205.36,88.96 L205.86,88.94 L206.36,88.92 L206.85,88.90 L207.35,88.88 L207.85,88.85 L208.34,88.81 L208.84,88.76 L209.34,88.71 L209.83,88.65 L210.33,88.57 L210.82,88.48 L211.32,88.38 L211.82,88.27 L212.31,88.14 L212.81,88.00 L213.31,87.84 L213.80,87.66 L214.30,87.48 L214.80,87.28 L215.29,87.08 L215.79,86.87 L216.28,86.67 L216.78,86.46 L217.28,86.27 L217.77,86.10 L218.27,85.95 L218.77,85.83 L219.26,85.75 L219.76,85.71 L220.26,85.71 L220.75,85.75 L221.25,85.83 L221.74,85.95 L222.24,86.10 L222.74,86.28 L223.23,86.47 L223.73,86.67 L224.23,86.88 L224.72,87.09 L225.22,87.29 L225.71,87.48 L226.21,87.67 L226.71,87.84 L227.20,88.00 L227.70,88.14 L228.20,88.27 L228.69,88.39 L229.19,88.49 L229.69,88.57 L230.18,88.65 L230.68,88.71 L231.17,88.76 L231.67,88.81 L232.17,88.85 L232.66,88.88 L233.16,88.90 L233.16,89.10 L187.00,89.10 Z" fill="#e0463c" fill-opacity="0.85" stroke="#5a2020" stroke-width="0.5" stroke-linejoin="round"/>
<line x1="151.95" y1="89.10" x2="233.16" y2="89.10" stroke="#3a3a3a" stroke-width="0.8"/>
<path d="M153.00,88.60 L153.55,88.56 L154.28,88.52 L155.16,88.47 L156.12,88.41 L157.14,88.35 L158.16,88.27 L159.12,88.19 L160.00,88.10 L160.81,88.00 L161.62,87.89 L162.41,87.78 L163.19,87.66 L163.94,87.53 L164.66,87.39 L165.35,87.25 L166.00,87.10 L166.60,86.96 L167.16,86.84 L167.69,86.72 L168.19,86.59 L168.66,86.43 L169.12,86.24 L169.56,86.00 L170.00,85.70 L170.42,85.36 L170.82,85.00 L171.19,84.61 L171.56,84.18 L171.91,83.69 L172.27,83.12 L172.63,82.46 L173.00,81.70 L173.38,80.83 L173.77,79.85 L174.16,78.79 L174.55,77.66 L174.94,76.46 L175.33,75.21 L175.72,73.92 L176.10,72.60 L176.48,71.20 L176.86,69.69 L177.23,68.11 L177.61,66.49 L177.98,64.88 L178.35,63.31 L178.73,61.84 L179.10,60.50 L179.47,59.30 L179.85,58.19 L180.22,57.17 L180.59,56.20 L180.97,55.26 L181.34,54.33 L181.72,53.39 L182.10,52.40 L182.48,51.40 L182.87,50.42 L183.26,49.45 L183.65,48.48 L184.04,47.48 L184.43,46.47 L184.82,45.41 L185.20,44.30 L185.59,43.13 L185.98,41.92 L186.38,40.66 L186.77,39.38 L187.15,38.08 L187.52,36.77 L187.87,35.48 L188.20,34.20 L188.50,32.90 L188.76,31.54 L189.01,30.17 L189.24,28.80 L189.46,27.48 L189.70,26.23 L189.94,25.09 L190.20,24.10 L190.48,23.19 L190.76,22.32 L191.06,21.52 L191.36,20.81 L191.66,20.24 L191.97,19.82 L192.28,19.60 L192.60,19.60 L192.93,19.85 L193.27,20.32 L193.62,20.98 L193.97,21.81 L194.33,22.76 L194.67,23.82 L194.99,24.94 L195.30,26.10 L195.58,27.34 L195.85,28.70 L196.10,30.17 L196.34,31.72 L196.58,33.34 L196.82,34.98 L197.05,36.65 L197.30,38.30 L197.55,39.97 L197.80,41.69 L198.05,43.45 L198.30,45.23 L198.55,47.03 L198.80,48.83 L199.05,50.62 L199.30,52.40 L199.55,54.18 L199.80,55.97 L200.05,57.77 L200.30,59.57 L200.55,61.35 L200.80,63.11 L201.05,64.83 L201.30,66.50 L201.54,68.15 L201.77,69.81 L202.00,71.44 L202.23,73.04 L202.47,74.59 L202.72,76.06 L203.00,77.44 L203.30,78.70 L203.62,79.87 L203.96,80.97 L204.32,82.00 L204.69,82.94 L205.08,83.79 L205.49,84.54 L205.93,85.18 L206.40,85.70 L206.89,86.07 L207.41,86.29 L207.95,86.37 L208.52,86.37 L209.11,86.31 L209.72,86.22 L210.35,86.14 L211.00,86.10 L211.68,86.08 L212.40,86.02 L213.15,85.94 L213.91,85.86 L214.69,85.77 L215.47,85.69 L216.24,85.63 L217.00,85.60 L217.76,85.59 L218.52,85.59 L219.29,85.59 L220.06,85.61 L220.82,85.65 L221.57,85.71 L222.30,85.79 L223.00,85.90 L223.67,86.05 L224.32,86.24 L224.95,86.47 L225.56,86.71 L226.17,86.95 L226.77,87.19 L227.38,87.41 L228.00,87.60 L228.66,87.77 L229.37,87.92 L230.09,88.07 L230.81,88.21 L231.49,88.33 L232.10,88.44 L232.61,88.53 L233.00,88.60" fill="none" stroke="#000" stroke-width="1.4" stroke-linejoin="round"/>
<circle cx="152.90" cy="88.72" r="1.1" fill="#fff" stroke="#444" stroke-width="0.45"/>
<circle cx="157.06" cy="88.36" r="1.1" fill="#fff" stroke="#444" stroke-width="0.45"/>
<circle cx="160.10" cy="88.04" r="1.1" fill="#fff" stroke="#444" stroke-width="0.45"/>
<circle cx="164.95" cy="86.63" r="1.1" fill="#fff" stroke="#444" stroke-width="0.45"/>
<circle cx="166.66" cy="87.39" r="1.1" fill="#fff" stroke="#444" stroke-width="0.45"/>
<circle cx="169.86" cy="86.00" r="1.1" fill="#fff" stroke="#444" stroke-width="0.45"/>
<circle cx="173.37" cy="81.79" r="1.1" fill="#fff" stroke="#444" stroke-width="0.45"/>
<circle cx="173.19" cy="78.86" r="1.1" fill="#fff" stroke="#444" stroke-width="0.45"/>
<circle cx="174.42" cy="75.62" r="1.1" fill="#fff" stroke="#444" stroke-width="0.45"/>
<circle cx="175.77" cy="73.37" r="1.1" fill="#fff" stroke="#444" stroke-width="0.45"/>
<circle cx="176.91" cy="69.90" r="1.1" fill="#fff" stroke="#444" stroke-width="0.45"/>
<circle cx="177.99" cy="66.14" r="1.1" fill="#fff" stroke="#444" stroke-width="0.45"/>
<circle cx="179.39" cy="64.15" r="1.1" fill="#fff" stroke="#444" stroke-width="0.45"/>
<circle cx="179.89" cy="58.93" r="1.1" fill="#fff" stroke="#444" stroke-width="0.45"/>
<circle cx="180.09" cy="55.55" r="1.1" fill="#fff" stroke="#444" stroke-width="0.45"/>
<circle cx="181.75" cy="53.49" r="1.1" fill="#fff" stroke="#444" stroke-width="0.45"/>
<circle cx="184.07" cy="50.41" r="1.1" fill="#fff" stroke="#444" stroke-width="0.45"/>
<circle cx="183.57" cy="48.00" r="1.1" fill="#fff" stroke="#444" stroke-width="0.45"/>
<circle cx="186.28" cy="43.74" r="1.1" fill="#fff" stroke="#444" stroke-width="0.45"/>
<circle cx="186.45" cy="41.81" r="1.1" fill="#fff" stroke="#444" stroke-width="0.45"/>
<circle cx="186.27" cy="37.92" r="1.1" fill="#fff" stroke="#444" stroke-width="0.45"/>
<circle cx="188.71" cy="33.44" r="1.1" fill="#fff" stroke="#444" stroke-width="0.45"/>
<circle cx="188.03" cy="30.29" r="1.1" fill="#fff" stroke="#444" stroke-width="0.45"/>
<circle cx="188.85" cy="27.41" r="1.1" fill="#fff" stroke="#444" stroke-width="0.45"/>
<circle cx="189.62" cy="24.44" r="1.1" fill="#fff" stroke="#444" stroke-width="0.45"/>
<circle cx="191.48" cy="20.44" r="1.1" fill="#fff" stroke="#444" stroke-width="0.45"/>
<circle cx="192.73" cy="19.92" r="1.1" fill="#fff" stroke="#444" stroke-width="0.45"/>
<circle cx="195.41" cy="23.90" r="1.1" fill="#fff" stroke="#444" stroke-width="0.45"/>
<circle cx="195.18" cy="28.04" r="1.1" fill="#fff" stroke="#444" stroke-width="0.45"/>
<circle cx="196.70" cy="31.43" r="1.1" fill="#fff" stroke="#444" stroke-width="0.45"/>
<circle cx="196.45" cy="35.93" r="1.1" fill="#fff" stroke="#444" stroke-width="0.45"/>
<circle cx="197.25" cy="39.87" r="1.1" fill="#fff" stroke="#444" stroke-width="0.45"/>
<circle cx="197.18" cy="43.24" r="1.1" fill="#fff" stroke="#444" stroke-width="0.45"/>
<circle cx="198.63" cy="45.88" r="1.1" fill="#fff" stroke="#444" stroke-width="0.45"/>
<circle cx="199.81" cy="49.49" r="1.1" fill="#fff" stroke="#444" stroke-width="0.45"/>
<circle cx="200.13" cy="52.45" r="1.1" fill="#fff" stroke="#444" stroke-width="0.45"/>
<circle cx="200.62" cy="56.65" r="1.1" fill="#fff" stroke="#444" stroke-width="0.45"/>
<circle cx="199.61" cy="59.56" r="1.1" fill="#fff" stroke="#444" stroke-width="0.45"/>
<circle cx="200.21" cy="64.10" r="1.1" fill="#fff" stroke="#444" stroke-width="0.45"/>
<circle cx="201.61" cy="67.07" r="1.1" fill="#fff" stroke="#444" stroke-width="0.45"/>
<circle cx="200.89" cy="71.01" r="1.1" fill="#fff" stroke="#444" stroke-width="0.45"/>
<circle cx="202.65" cy="72.65" r="1.1" fill="#fff" stroke="#444" stroke-width="0.45"/>
<circle cx="203.11" cy="76.64" r="1.1" fill="#fff" stroke="#444" stroke-width="0.45"/>
<circle cx="204.09" cy="79.09" r="1.1" fill="#fff" stroke="#444" stroke-width="0.45"/>
<circle cx="204.77" cy="83.56" r="1.1" fill="#fff" stroke="#444" stroke-width="0.45"/>
<circle cx="206.20" cy="86.71" r="1.1" fill="#fff" stroke="#444" stroke-width="0.45"/>
<circle cx="208.58" cy="85.78" r="1.1" fill="#fff" stroke="#444" stroke-width="0.45"/>
<circle cx="212.06" cy="85.32" r="1.1" fill="#fff" stroke="#444" stroke-width="0.45"/>
<circle cx="216.35" cy="84.90" r="1.1" fill="#fff" stroke="#444" stroke-width="0.45"/>
<circle cx="220.26" cy="86.56" r="1.1" fill="#fff" stroke="#444" stroke-width="0.45"/>
<circle cx="223.57" cy="86.11" r="1.1" fill="#fff" stroke="#444" stroke-width="0.45"/>
<circle cx="225.03" cy="85.90" r="1.1" fill="#fff" stroke="#444" stroke-width="0.45"/>
<circle cx="230.30" cy="88.96" r="1.1" fill="#fff" stroke="#444" stroke-width="0.45"/>
<circle cx="232.88" cy="88.49" r="1.1" fill="#fff" stroke="#444" stroke-width="0.45"/>
<path d="M152.70,177.76 L153.20,177.74 L153.70,177.71 L154.20,177.69 L154.70,177.66 L155.20,177.63 L155.70,177.61 L156.20,177.58 L156.70,177.55 L157.19,177.52 L157.69,177.48 L158.19,177.45 L158.69,177.41 L159.19,177.38 L159.69,177.34 L160.19,177.30 L160.69,177.26 L161.19,177.21 L161.69,177.17 L162.19,177.12 L162.69,177.07 L163.19,177.02 L163.69,176.96 L164.19,176.90 L164.69,176.84 L165.18,176.78 L165.68,176.71 L166.18,176.64 L166.68,176.57 L167.18,176.49 L167.68,176.40 L168.18,176.32 L168.68,176.22 L169.18,176.12 L169.68,176.02 L170.18,175.91 L170.68,175.79 L171.18,175.66 L171.68,175.52 L172.18,175.38 L172.68,175.22 L173.17,175.04 L173.67,174.85 L174.17,174.65 L174.67,174.42 L175.17,174.17 L175.67,173.89 L176.17,173.58 L176.67,173.24 L177.17,172.85 L177.67,172.41 L178.17,171.92 L178.67,171.37 L179.17,170.75 L179.67,170.05 L180.17,169.26 L180.67,168.37 L181.16,167.38 L181.66,166.27 L182.16,165.03 L182.66,163.66 L183.16,162.15 L183.66,160.49 L184.16,158.68 L184.66,156.72 L185.16,154.60 L185.66,152.32 L186.16,149.91 L186.66,147.36 L187.16,144.70 L187.66,141.94 L188.16,139.13 L188.66,136.30 L189.15,133.50 L189.65,130.80 L190.15,128.26 L190.65,125.96 L191.15,123.99 L191.65,122.42 L192.15,121.33 L192.65,120.77 L193.15,120.77 L193.65,121.33 L194.15,122.42 L194.65,123.99 L195.15,125.96 L195.65,128.26 L196.15,130.80 L196.65,133.50 L197.14,136.30 L197.64,139.13 L198.14,141.94 L198.64,144.70 L199.14,147.36 L199.64,149.91 L200.14,152.32 L200.64,154.60 L201.14,156.72 L201.64,158.68 L202.14,160.49 L202.64,162.15 L203.14,163.66 L203.64,165.03 L204.14,166.27 L204.64,167.38 L205.13,168.37 L205.63,169.26 L206.13,170.05 L206.63,170.75 L207.13,171.37 L207.63,171.92 L208.13,172.41 L208.63,172.85 L209.13,173.24 L209.63,173.58 L210.13,173.89 L210.63,174.17 L211.13,174.42 L211.63,174.65 L212.13,174.85 L212.63,175.04 L213.12,175.22 L213.62,175.38 L214.12,175.52 L214.62,175.66 L215.12,175.79 L215.62,175.91 L216.12,176.02 L216.62,176.12 L217.12,176.22 L217.62,176.32 L218.12,176.40 L218.62,176.49 L219.12,176.57 L219.62,176.64 L220.12,176.71 L220.62,176.78 L221.11,176.84 L221.61,176.90 L222.11,176.96 L222.61,177.02 L223.11,177.07 L223.61,177.12 L224.11,177.17 L224.61,177.21 L225.11,177.26 L225.61,177.30 L226.11,177.34 L226.61,177.38 L227.11,177.41 L227.61,177.45 L228.11,177.48 L228.61,177.52 L229.10,177.55 L229.60,177.58 L230.10,177.61 L230.60,177.63 L231.10,177.66 L231.60,177.69 L232.10,177.71 L232.60,177.74 L233.10,177.76 L233.10,178.70 L152.70,178.70 Z" fill="#0b48a1" fill-opacity="0.18" stroke="#2e3a5c" stroke-width="0.5" stroke-linejoin="round"/>
<path d="M151.95,178.00 L152.45,177.98 L152.95,177.96 L153.44,177.93 L153.94,177.90 L154.44,177.87 L154.94,177.84 L155.44,177.81 L155.93,177.78 L156.43,177.74 L156.93,177.70 L157.43,177.66 L157.93,177.62 L158.42,177.57 L158.92,177.52 L159.42,177.47 L159.92,177.42 L160.41,177.36 L160.91,177.29 L161.41,177.22 L161.91,177.15 L162.41,177.07 L162.90,176.99 L163.40,176.90 L163.90,176.80 L164.40,176.69 L164.90,176.57 L165.39,176.44 L165.89,176.30 L166.39,176.14 L166.89,175.96 L167.39,175.77 L167.88,175.54 L168.38,175.29 L168.88,175.00 L169.38,174.66 L169.88,174.28 L170.37,173.84 L170.87,173.34 L171.37,172.75 L171.87,172.08 L172.37,171.32 L172.86,170.45 L173.36,169.46 L173.86,168.34 L174.36,167.09 L174.85,165.71 L175.35,164.18 L175.85,162.52 L176.35,160.74 L176.85,158.86 L177.34,156.89 L177.84,154.90 L178.34,152.94 L178.84,151.08 L179.34,149.44 L179.83,148.10 L180.33,147.17 L180.83,146.73 L181.33,146.82 L181.83,147.42 L182.32,148.49 L182.82,149.93 L183.32,151.66 L183.82,153.55 L184.32,155.53 L184.81,157.52 L185.31,159.46 L185.81,161.32 L186.31,163.07 L186.81,164.68 L187.30,166.16 L187.80,167.50 L188.30,168.71 L188.80,169.78 L189.30,170.74 L189.79,171.57 L190.29,172.31 L190.79,172.95 L191.29,173.50 L191.78,173.99 L192.28,174.41 L192.78,174.77 L193.28,175.09 L193.78,175.37 L194.27,175.62 L194.77,175.83 L195.27,176.02 L195.77,176.19 L196.27,176.35 L196.76,176.49 L197.26,176.61 L197.76,176.73 L198.26,176.83 L198.76,176.93 L199.25,177.02 L199.75,177.10 L200.25,177.18 L200.75,177.25 L201.25,177.31 L201.74,177.38 L202.24,177.43 L202.74,177.49 L203.24,177.54 L203.74,177.59 L204.23,177.63 L204.73,177.67 L205.23,177.71 L205.73,177.75 L206.22,177.79 L206.72,177.82 L207.22,177.85 L207.72,177.88 L208.22,177.91 L208.71,177.94 L209.21,177.96 L209.71,177.99 L210.21,178.01 L210.71,178.03 L211.20,178.06 L211.70,178.08 L212.20,178.09 L212.20,178.70 L151.95,178.70 Z" fill="#0b48a1" fill-opacity="0.18" stroke="#2e3a5c" stroke-width="0.5" stroke-linejoin="round"/>
<path d="M176.00,178.68 L176.50,178.68 L176.99,178.67 L177.49,178.67 L177.99,178.67 L178.49,178.67 L178.98,178.67 L179.48,178.67 L179.98,178.67 L180.47,178.67 L180.97,178.67 L181.47,178.67 L181.96,178.67 L182.46,178.66 L182.96,178.66 L183.46,178.66 L183.95,178.66 L184.45,178.66 L184.95,178.66 L185.44,178.66 L185.94,178.65 L186.44,178.65 L186.93,178.65 L187.43,178.65 L187.93,178.65 L188.43,178.65 L188.92,178.64 L189.42,178.64 L189.92,178.64 L190.41,178.64 L190.91,178.63 L191.41,178.63 L191.91,178.63 L192.40,178.62 L192.90,178.62 L193.40,178.61 L193.89,178.61 L194.39,178.60 L194.89,178.59 L195.38,178.59 L195.88,178.58 L196.38,178.57 L196.88,178.55 L197.37,178.54 L197.87,178.52 L198.37,178.50 L198.86,178.47 L199.36,178.44 L199.86,178.40 L200.36,178.36 L200.85,178.31 L201.35,178.25 L201.85,178.18 L202.34,178.10 L202.84,178.01 L203.34,177.91 L203.83,177.80 L204.33,177.68 L204.83,177.55 L205.33,177.41 L205.82,177.26 L206.32,177.10 L206.82,176.93 L207.31,176.77 L207.81,176.60 L208.31,176.43 L208.80,176.27 L209.30,176.13 L209.80,175.99 L210.30,175.88 L210.79,175.79 L211.29,175.73 L211.79,175.70 L212.28,175.71 L212.78,175.74 L213.28,175.80 L213.78,175.90 L214.27,176.01 L214.77,176.15 L215.27,176.30 L215.76,176.46 L216.26,176.62 L216.76,176.79 L217.25,176.96 L217.75,177.12 L218.25,177.28 L218.75,177.43 L219.24,177.57 L219.74,177.70 L220.24,177.82 L220.73,177.93 L221.23,178.03 L221.73,178.11 L222.23,178.19 L222.72,178.26 L223.22,178.31 L223.72,178.36 L224.21,178.41 L224.71,178.44 L225.21,178.47 L225.70,178.50 L226.20,178.52 L226.70,178.54 L227.20,178.55 L227.69,178.57 L228.19,178.58 L228.69,178.59 L229.18,178.60 L229.68,178.60 L230.18,178.61 L230.67,178.61 L231.17,178.62 L231.67,178.62 L232.17,178.63 L232.66,178.63 L233.16,178.63 L233.16,178.70 L176.00,178.70 Z" fill="#e0463c" fill-opacity="0.85" stroke="#5a2020" stroke-width="0.5" stroke-linejoin="round"/>
<path d="M186.00,178.67 L186.50,178.67 L186.99,178.67 L187.49,178.66 L187.99,178.66 L188.48,178.66 L188.98,178.66 L189.47,178.66 L189.97,178.66 L190.47,178.66 L190.96,178.66 L191.46,178.65 L191.96,178.65 L192.45,178.65 L192.95,178.65 L193.45,178.65 L193.94,178.64 L194.44,178.64 L194.94,178.64 L195.43,178.64 L195.93,178.64 L196.42,178.63 L196.92,178.63 L197.42,178.63 L197.91,178.62 L198.41,178.62 L198.91,178.62 L199.40,178.61 L199.90,178.61 L200.40,178.60 L200.89,178.60 L201.39,178.59 L201.89,178.58 L202.38,178.58 L202.88,178.57 L203.37,178.56 L203.87,178.55 L204.37,178.53 L204.86,178.51 L205.36,178.49 L205.86,178.47 L206.35,178.44 L206.85,178.40 L207.35,178.36 L207.84,178.30 L208.34,178.24 L208.84,178.17 L209.33,178.08 L209.83,177.98 L210.32,177.86 L210.82,177.72 L211.32,177.57 L211.81,177.40 L212.31,177.21 L212.81,177.01 L213.30,176.79 L213.80,176.56 L214.30,176.32 L214.79,176.08 L215.29,175.83 L215.79,175.60 L216.28,175.37 L216.78,175.17 L217.27,174.99 L217.77,174.85 L218.27,174.76 L218.76,174.71 L219.26,174.71 L219.76,174.76 L220.25,174.86 L220.75,175.00 L221.25,175.18 L221.74,175.38 L222.24,175.61 L222.74,175.84 L223.23,176.09 L223.73,176.33 L224.22,176.57 L224.72,176.80 L225.22,177.02 L225.71,177.22 L226.21,177.41 L226.71,177.58 L227.20,177.73 L227.70,177.86 L228.20,177.98 L228.69,178.08 L229.19,178.17 L229.69,178.24 L230.18,178.31 L230.68,178.36 L231.17,178.40 L231.67,178.44 L232.17,178.47 L232.66,178.49 L233.16,178.51 L233.16,178.70 L186.00,178.70 Z" fill="#e0463c" fill-opacity="0.85" stroke="#5a2020" stroke-width="0.5" stroke-linejoin="round"/>
<line x1="151.95" y1="178.70" x2="233.16" y2="178.70" stroke="#3a3a3a" stroke-width="0.8"/>
<path d="M153.00,178.10 L153.04,178.08 L153.06,178.07 L153.07,178.06 L153.11,178.04 L153.19,178.00 L153.35,177.92 L153.61,177.79 L154.00,177.60 L154.53,177.36 L155.20,177.08 L155.98,176.76 L156.82,176.41 L157.71,176.00 L158.61,175.55 L159.48,175.05 L160.30,174.50 L161.09,173.89 L161.88,173.22 L162.68,172.49 L163.47,171.73 L164.25,170.92 L165.02,170.07 L165.77,169.20 L166.50,168.30 L167.21,167.38 L167.90,166.42 L168.57,165.43 L169.23,164.41 L169.87,163.35 L170.50,162.26 L171.11,161.15 L171.70,160.00 L172.27,158.81 L172.83,157.57 L173.36,156.29 L173.88,154.98 L174.38,153.66 L174.87,152.33 L175.34,151.01 L175.80,149.70 L176.24,148.42 L176.65,147.15 L177.04,145.90 L177.41,144.63 L177.78,143.35 L178.15,142.04 L178.52,140.70 L178.90,139.30 L179.28,137.83 L179.65,136.29 L180.01,134.70 L180.38,133.09 L180.76,131.48 L181.15,129.90 L181.56,128.36 L182.00,126.90 L182.49,125.48 L183.02,124.05 L183.59,122.65 L184.16,121.28 L184.73,119.97 L185.27,118.75 L185.77,117.61 L186.20,116.60 L186.56,115.71 L186.87,114.94 L187.15,114.26 L187.39,113.66 L187.61,113.12 L187.83,112.62 L188.06,112.16 L188.30,111.70 L188.55,111.25 L188.81,110.81 L189.06,110.41 L189.31,110.04 L189.55,109.74 L189.80,109.50 L190.05,109.35 L190.30,109.30 L190.55,109.35 L190.80,109.50 L191.05,109.74 L191.29,110.04 L191.54,110.41 L191.79,110.81 L192.05,111.25 L192.30,111.70 L192.55,112.13 L192.79,112.52 L193.04,112.93 L193.28,113.39 L193.53,113.95 L193.80,114.64 L194.09,115.51 L194.40,116.60 L194.74,117.94 L195.10,119.50 L195.48,121.25 L195.88,123.12 L196.29,125.09 L196.69,127.11 L197.10,129.13 L197.50,131.10 L197.89,133.08 L198.27,135.13 L198.65,137.23 L199.04,139.35 L199.43,141.47 L199.83,143.57 L200.26,145.62 L200.70,147.60 L201.16,149.56 L201.64,151.56 L202.12,153.55 L202.62,155.49 L203.14,157.36 L203.68,159.11 L204.23,160.70 L204.80,162.10 L205.39,163.30 L206.00,164.33 L206.63,165.21 L207.27,165.97 L207.93,166.64 L208.60,167.23 L209.29,167.78 L210.00,168.30 L210.73,168.75 L211.48,169.09 L212.25,169.34 L213.04,169.54 L213.83,169.72 L214.63,169.90 L215.42,170.12 L216.20,170.40 L216.97,170.73 L217.75,171.08 L218.52,171.45 L219.30,171.83 L220.07,172.22 L220.85,172.63 L221.62,173.06 L222.40,173.50 L223.19,173.99 L223.99,174.53 L224.80,175.11 L225.61,175.69 L226.41,176.26 L227.18,176.78 L227.91,177.24 L228.60,177.60 L229.27,177.86 L229.93,178.05 L230.58,178.18 L231.19,178.26 L231.75,178.30 L232.25,178.33 L232.67,178.36 L233.00,178.40" fill="none" stroke="#000" stroke-width="1.4" stroke-linejoin="round"/>
<circle cx="152.95" cy="178.41" r="1.1" fill="#fff" stroke="#444" stroke-width="0.45"/>
<circle cx="155.70" cy="175.60" r="1.1" fill="#fff" stroke="#444" stroke-width="0.45"/>
<circle cx="158.91" cy="175.74" r="1.1" fill="#fff" stroke="#444" stroke-width="0.45"/>
<circle cx="162.54" cy="172.92" r="1.1" fill="#fff" stroke="#444" stroke-width="0.45"/>
<circle cx="164.25" cy="170.03" r="1.1" fill="#fff" stroke="#444" stroke-width="0.45"/>
<circle cx="167.65" cy="166.97" r="1.1" fill="#fff" stroke="#444" stroke-width="0.45"/>
<circle cx="168.26" cy="164.97" r="1.1" fill="#fff" stroke="#444" stroke-width="0.45"/>
<circle cx="170.56" cy="162.49" r="1.1" fill="#fff" stroke="#444" stroke-width="0.45"/>
<circle cx="171.13" cy="160.19" r="1.1" fill="#fff" stroke="#444" stroke-width="0.45"/>
<circle cx="172.60" cy="157.13" r="1.1" fill="#fff" stroke="#444" stroke-width="0.45"/>
<circle cx="174.12" cy="152.11" r="1.1" fill="#fff" stroke="#444" stroke-width="0.45"/>
<circle cx="175.49" cy="149.75" r="1.1" fill="#fff" stroke="#444" stroke-width="0.45"/>
<circle cx="177.19" cy="145.78" r="1.1" fill="#fff" stroke="#444" stroke-width="0.45"/>
<circle cx="178.28" cy="143.62" r="1.1" fill="#fff" stroke="#444" stroke-width="0.45"/>
<circle cx="178.74" cy="140.54" r="1.1" fill="#fff" stroke="#444" stroke-width="0.45"/>
<circle cx="178.45" cy="137.84" r="1.1" fill="#fff" stroke="#444" stroke-width="0.45"/>
<circle cx="181.29" cy="133.62" r="1.1" fill="#fff" stroke="#444" stroke-width="0.45"/>
<circle cx="180.82" cy="130.50" r="1.1" fill="#fff" stroke="#444" stroke-width="0.45"/>
<circle cx="181.36" cy="125.99" r="1.1" fill="#fff" stroke="#444" stroke-width="0.45"/>
<circle cx="183.29" cy="124.06" r="1.1" fill="#fff" stroke="#444" stroke-width="0.45"/>
<circle cx="183.68" cy="120.88" r="1.1" fill="#fff" stroke="#444" stroke-width="0.45"/>
<circle cx="186.01" cy="116.58" r="1.1" fill="#fff" stroke="#444" stroke-width="0.45"/>
<circle cx="187.02" cy="114.56" r="1.1" fill="#fff" stroke="#444" stroke-width="0.45"/>
<circle cx="188.56" cy="110.77" r="1.1" fill="#fff" stroke="#444" stroke-width="0.45"/>
<circle cx="190.13" cy="109.30" r="1.1" fill="#fff" stroke="#444" stroke-width="0.45"/>
<circle cx="193.05" cy="111.60" r="1.1" fill="#fff" stroke="#444" stroke-width="0.45"/>
<circle cx="193.54" cy="115.19" r="1.1" fill="#fff" stroke="#444" stroke-width="0.45"/>
<circle cx="195.90" cy="118.93" r="1.1" fill="#fff" stroke="#444" stroke-width="0.45"/>
<circle cx="195.20" cy="123.90" r="1.1" fill="#fff" stroke="#444" stroke-width="0.45"/>
<circle cx="195.90" cy="126.76" r="1.1" fill="#fff" stroke="#444" stroke-width="0.45"/>
<circle cx="196.35" cy="129.84" r="1.1" fill="#fff" stroke="#444" stroke-width="0.45"/>
<circle cx="197.77" cy="133.61" r="1.1" fill="#fff" stroke="#444" stroke-width="0.45"/>
<circle cx="197.66" cy="137.05" r="1.1" fill="#fff" stroke="#444" stroke-width="0.45"/>
<circle cx="200.33" cy="140.98" r="1.1" fill="#fff" stroke="#444" stroke-width="0.45"/>
<circle cx="199.50" cy="144.25" r="1.1" fill="#fff" stroke="#444" stroke-width="0.45"/>
<circle cx="200.98" cy="147.04" r="1.1" fill="#fff" stroke="#444" stroke-width="0.45"/>
<circle cx="201.46" cy="151.27" r="1.1" fill="#fff" stroke="#444" stroke-width="0.45"/>
<circle cx="203.15" cy="154.84" r="1.1" fill="#fff" stroke="#444" stroke-width="0.45"/>
<circle cx="202.60" cy="157.66" r="1.1" fill="#fff" stroke="#444" stroke-width="0.45"/>
<circle cx="204.85" cy="159.95" r="1.1" fill="#fff" stroke="#444" stroke-width="0.45"/>
<circle cx="205.85" cy="162.82" r="1.1" fill="#fff" stroke="#444" stroke-width="0.45"/>
<circle cx="206.77" cy="166.33" r="1.1" fill="#fff" stroke="#444" stroke-width="0.45"/>
<circle cx="209.41" cy="169.17" r="1.1" fill="#fff" stroke="#444" stroke-width="0.45"/>
<circle cx="212.75" cy="169.46" r="1.1" fill="#fff" stroke="#444" stroke-width="0.45"/>
<circle cx="217.39" cy="171.12" r="1.1" fill="#fff" stroke="#444" stroke-width="0.45"/>
<circle cx="221.90" cy="173.22" r="1.1" fill="#fff" stroke="#444" stroke-width="0.45"/>
<circle cx="224.02" cy="175.24" r="1.1" fill="#fff" stroke="#444" stroke-width="0.45"/>
<circle cx="227.21" cy="176.39" r="1.1" fill="#fff" stroke="#444" stroke-width="0.45"/>
<circle cx="230.49" cy="178.19" r="1.1" fill="#fff" stroke="#444" stroke-width="0.45"/>
<path d="M156.40,268.01 L156.90,267.98 L157.40,267.95 L157.90,267.92 L158.39,267.88 L158.89,267.85 L159.39,267.81 L159.89,267.77 L160.39,267.73 L160.89,267.69 L161.39,267.64 L161.88,267.60 L162.38,267.55 L162.88,267.49 L163.38,267.44 L163.88,267.38 L164.38,267.32 L164.88,267.26 L165.37,267.19 L165.87,267.12 L166.37,267.05 L166.87,266.97 L167.37,266.89 L167.87,266.80 L168.37,266.70 L168.86,266.61 L169.36,266.50 L169.86,266.39 L170.36,266.27 L170.86,266.14 L171.36,266.01 L171.86,265.86 L172.35,265.70 L172.85,265.53 L173.35,265.35 L173.85,265.15 L174.35,264.94 L174.85,264.70 L175.35,264.44 L175.85,264.16 L176.34,263.84 L176.84,263.49 L177.34,263.10 L177.84,262.66 L178.34,262.16 L178.84,261.60 L179.34,260.97 L179.83,260.25 L180.33,259.43 L180.83,258.52 L181.33,257.48 L181.83,256.30 L182.33,254.99 L182.83,253.51 L183.32,251.87 L183.82,250.04 L184.32,248.03 L184.82,245.83 L185.32,243.43 L185.82,240.85 L186.32,238.09 L186.81,235.16 L187.31,232.11 L187.81,228.98 L188.31,225.82 L188.81,222.73 L189.31,219.79 L189.81,217.13 L190.30,214.88 L190.80,213.15 L191.30,212.07 L191.80,211.70 L192.30,212.07 L192.80,213.15 L193.30,214.88 L193.79,217.13 L194.29,219.79 L194.79,222.73 L195.29,225.82 L195.79,228.98 L196.29,232.11 L196.79,235.16 L197.28,238.09 L197.78,240.85 L198.28,243.43 L198.78,245.83 L199.28,248.03 L199.78,250.04 L200.28,251.87 L200.77,253.51 L201.27,254.99 L201.77,256.30 L202.27,257.48 L202.77,258.52 L203.27,259.43 L203.77,260.25 L204.26,260.97 L204.76,261.60 L205.26,262.16 L205.76,262.66 L206.26,263.10 L206.76,263.49 L207.26,263.84 L207.75,264.16 L208.25,264.44 L208.75,264.70 L209.25,264.94 L209.75,265.15 L210.25,265.35 L210.75,265.53 L211.25,265.70 L211.74,265.86 L212.24,266.01 L212.74,266.14 L213.24,266.27 L213.74,266.39 L214.24,266.50 L214.74,266.61 L215.23,266.70 L215.73,266.80 L216.23,266.89 L216.73,266.97 L217.23,267.05 L217.73,267.12 L218.23,267.19 L218.72,267.26 L219.22,267.32 L219.72,267.38 L220.22,267.44 L220.72,267.49 L221.22,267.55 L221.72,267.60 L222.21,267.64 L222.71,267.69 L223.21,267.73 L223.71,267.77 L224.21,267.81 L224.71,267.85 L225.21,267.88 L225.70,267.92 L226.20,267.95 L226.70,267.98 L227.20,268.01 L227.20,269.10 L156.40,269.10 Z" fill="#0b48a1" fill-opacity="0.18" stroke="#2e3a5c" stroke-width="0.5" stroke-linejoin="round"/>
<path d="M151.95,268.58 L152.45,268.57 L152.95,268.55 L153.44,268.53 L153.94,268.51 L154.44,268.49 L154.94,268.47 L155.44,268.45 L155.94,268.42 L156.43,268.40 L156.93,268.37 L157.43,268.34 L157.93,268.31 L158.43,268.28 L158.92,268.25 L159.42,268.21 L159.92,268.17 L160.42,268.13 L160.92,268.09 L161.41,268.04 L161.91,267.99 L162.41,267.94 L162.91,267.88 L163.41,267.81 L163.91,267.74 L164.40,267.66 L164.90,267.57 L165.40,267.46 L165.90,267.35 L166.40,267.22 L166.89,267.07 L167.39,266.90 L167.89,266.70 L168.39,266.48 L168.89,266.22 L169.39,265.92 L169.88,265.58 L170.38,265.19 L170.88,264.74 L171.38,264.23 L171.88,263.66 L172.37,263.01 L172.87,262.29 L173.37,261.49 L173.87,260.61 L174.37,259.65 L174.86,258.61 L175.36,257.49 L175.86,256.30 L176.36,255.05 L176.86,253.75 L177.36,252.42 L177.85,251.08 L178.35,249.75 L178.85,248.47 L179.35,247.26 L179.85,246.18 L180.34,245.25 L180.84,244.53 L181.34,244.04 L181.84,243.81 L182.34,243.86 L182.84,244.18 L183.33,244.76 L183.83,245.56 L184.33,246.54 L184.83,247.68 L185.33,248.91 L185.82,250.22 L186.32,251.56 L186.82,252.90 L187.32,254.22 L187.82,255.50 L188.31,256.73 L188.81,257.89 L189.31,258.98 L189.81,260.00 L190.31,260.93 L190.81,261.78 L191.30,262.55 L191.80,263.25 L192.30,263.87 L192.80,264.42 L193.30,264.90 L193.79,265.33 L194.29,265.71 L194.79,266.03 L195.29,266.31 L195.79,266.56 L196.29,266.78 L196.78,266.96 L197.28,267.12 L197.78,267.27 L198.28,267.39 L198.78,267.50 L199.27,267.60 L199.77,267.68 L200.27,267.76 L200.77,267.83 L201.27,267.90 L201.76,267.96 L202.26,268.01 L202.76,268.06 L203.26,268.10 L203.76,268.15 L204.26,268.19 L204.75,268.22 L205.25,268.26 L205.75,268.29 L206.25,268.32 L206.75,268.35 L207.24,268.38 L207.74,268.41 L208.24,268.43 L208.74,268.45 L209.24,268.48 L209.74,268.50 L210.23,268.52 L210.73,268.54 L211.23,268.56 L211.73,268.57 L212.23,268.59 L212.72,268.61 L213.22,268.62 L213.72,268.63 L214.22,268.65 L214.72,268.66 L215.21,268.67 L215.71,268.69 L216.21,268.70 L216.71,268.71 L217.21,268.72 L217.71,268.73 L218.20,268.74 L218.70,268.75 L219.20,268.76 L219.20,269.10 L151.95,269.10 Z" fill="#0b48a1" fill-opacity="0.18" stroke="#2e3a5c" stroke-width="0.5" stroke-linejoin="round"/>
<path d="M168.00,269.08 L168.50,269.08 L168.99,269.08 L169.49,269.08 L169.99,269.08 L170.49,269.08 L170.98,269.08 L171.48,269.08 L171.98,269.08 L172.48,269.07 L172.97,269.07 L173.47,269.07 L173.97,269.07 L174.47,269.07 L174.96,269.07 L175.46,269.07 L175.96,269.07 L176.46,269.07 L176.95,269.07 L177.45,269.07 L177.95,269.07 L178.45,269.06 L178.94,269.06 L179.44,269.06 L179.94,269.06 L180.44,269.06 L180.93,269.06 L181.43,269.06 L181.93,269.06 L182.42,269.05 L182.92,269.05 L183.42,269.05 L183.92,269.05 L184.41,269.05 L184.91,269.05 L185.41,269.04 L185.91,269.04 L186.40,269.04 L186.90,269.04 L187.40,269.03 L187.90,269.03 L188.39,269.03 L188.89,269.02 L189.39,269.02 L189.89,269.01 L190.38,269.01 L190.88,269.00 L191.38,268.99 L191.88,268.99 L192.37,268.98 L192.87,268.97 L193.37,268.95 L193.87,268.94 L194.36,268.92 L194.86,268.90 L195.36,268.88 L195.85,268.85 L196.35,268.82 L196.85,268.78 L197.35,268.74 L197.84,268.70 L198.34,268.65 L198.84,268.59 L199.34,268.52 L199.83,268.45 L200.33,268.38 L200.83,268.29 L201.33,268.20 L201.82,268.10 L202.32,268.00 L202.82,267.89 L203.32,267.78 L203.81,267.66 L204.31,267.54 L204.81,267.42 L205.31,267.30 L205.80,267.18 L206.30,267.07 L206.80,266.97 L207.29,266.87 L207.79,266.78 L208.29,266.71 L208.79,266.66 L209.28,266.62 L209.78,266.60 L210.28,266.60 L210.78,266.62 L211.27,266.66 L211.77,266.72 L212.27,266.79 L212.77,266.88 L213.26,266.98 L213.76,267.09 L214.26,267.20 L214.76,267.32 L215.25,267.44 L215.75,267.56 L216.25,267.68 L216.75,267.79 L217.24,267.90 L217.74,268.01 L218.24,268.12 L218.74,268.21 L219.23,268.30 L219.73,268.39 L220.23,268.46 L220.72,268.53 L221.22,268.60 L221.72,268.65 L222.22,268.70 L222.71,268.75 L223.21,268.79 L223.71,268.82 L224.21,268.85 L224.70,268.88 L225.20,268.90 L225.70,268.92 L226.20,268.94 L226.69,268.95 L227.19,268.97 L227.69,268.98 L228.19,268.99 L228.68,269.00 L229.18,269.00 L229.68,269.01 L230.18,269.01 L230.67,269.02 L231.17,269.02 L231.67,269.03 L232.17,269.03 L232.66,269.03 L233.16,269.04 L233.16,269.10 L168.00,269.10 Z" fill="#e0463c" fill-opacity="0.85" stroke="#5a2020" stroke-width="0.5" stroke-linejoin="round"/>
<path d="M188.30,269.05 L188.80,269.04 L189.30,269.04 L189.80,269.04 L190.29,269.04 L190.79,269.04 L191.29,269.03 L191.79,269.03 L192.29,269.03 L192.79,269.03 L193.28,269.02 L193.78,269.02 L194.28,269.02 L194.78,269.01 L195.28,269.01 L195.78,269.01 L196.28,269.00 L196.77,269.00 L197.27,268.99 L197.77,268.99 L198.27,268.98 L198.77,268.98 L199.27,268.97 L199.76,268.97 L200.26,268.96 L200.76,268.95 L201.26,268.94 L201.76,268.93 L202.26,268.92 L202.75,268.91 L203.25,268.89 L203.75,268.88 L204.25,268.86 L204.75,268.83 L205.25,268.81 L205.75,268.77 L206.24,268.73 L206.74,268.67 L207.24,268.61 L207.74,268.53 L208.24,268.43 L208.74,268.31 L209.23,268.16 L209.73,267.99 L210.23,267.79 L210.73,267.56 L211.23,267.29 L211.73,266.98 L212.23,266.64 L212.72,266.27 L213.22,265.86 L213.72,265.44 L214.22,265.00 L214.72,264.55 L215.22,264.12 L215.71,263.70 L216.21,263.32 L216.71,262.99 L217.21,262.74 L217.71,262.57 L218.21,262.50 L218.71,262.53 L219.20,262.67 L219.70,262.89 L220.20,263.19 L220.70,263.55 L221.20,263.96 L221.70,264.39 L222.19,264.83 L222.69,265.28 L223.19,265.71 L223.69,266.12 L224.19,266.50 L224.69,266.86 L225.18,267.18 L225.68,267.46 L226.18,267.71 L226.68,267.92 L227.18,268.10 L227.68,268.26 L228.18,268.39 L228.67,268.49 L229.17,268.58 L229.67,268.65 L230.17,268.71 L230.67,268.76 L231.17,268.79 L231.66,268.82 L232.16,268.85 L232.66,268.87 L233.16,268.89 L233.16,269.10 L188.30,269.10 Z" fill="#e0463c" fill-opacity="0.85" stroke="#5a2020" stroke-width="0.5" stroke-linejoin="round"/>
<line x1="151.95" y1="269.10" x2="233.16" y2="269.10" stroke="#3a3a3a" stroke-width="0.8"/>
<path d="M153.00,268.80 L153.22,268.80 L153.48,268.83 L153.79,268.87 L154.16,268.90 L154.57,268.90 L155.03,268.84 L155.54,268.72 L156.10,268.50 L156.73,268.19 L157.43,267.81 L158.19,267.37 L158.99,266.87 L159.83,266.32 L160.69,265.74 L161.55,265.13 L162.40,264.50 L163.27,263.84 L164.18,263.15 L165.12,262.43 L166.07,261.67 L167.01,260.88 L167.92,260.05 L168.79,259.19 L169.60,258.30 L170.35,257.38 L171.07,256.42 L171.74,255.43 L172.39,254.41 L173.02,253.35 L173.62,252.26 L174.22,251.15 L174.80,250.00 L175.36,248.85 L175.90,247.71 L176.41,246.56 L176.91,245.37 L177.40,244.11 L177.89,242.76 L178.39,241.30 L178.90,239.70 L179.43,237.90 L179.97,235.89 L180.52,233.75 L181.06,231.53 L181.60,229.29 L182.12,227.10 L182.63,225.02 L183.10,223.10 L183.55,221.30 L183.98,219.53 L184.39,217.82 L184.78,216.18 L185.16,214.63 L185.52,213.19 L185.87,211.87 L186.20,210.70 L186.51,209.70 L186.80,208.86 L187.07,208.15 L187.32,207.55 L187.56,207.02 L187.81,206.54 L188.05,206.08 L188.30,205.60 L188.55,205.12 L188.80,204.65 L189.05,204.22 L189.30,203.83 L189.55,203.49 L189.80,203.19 L190.05,202.96 L190.30,202.80 L190.56,202.71 L190.82,202.70 L191.08,202.74 L191.35,202.84 L191.62,202.98 L191.88,203.16 L192.14,203.37 L192.40,203.60 L192.65,203.79 L192.88,203.93 L193.11,204.06 L193.34,204.24 L193.57,204.54 L193.83,204.99 L194.10,205.66 L194.40,206.60 L194.73,207.83 L195.10,209.32 L195.48,211.02 L195.88,212.88 L196.28,214.86 L196.69,216.92 L197.10,219.01 L197.50,221.10 L197.89,223.24 L198.27,225.51 L198.65,227.86 L199.04,230.27 L199.43,232.69 L199.83,235.09 L200.26,237.44 L200.70,239.70 L201.17,241.94 L201.66,244.23 L202.17,246.53 L202.69,248.78 L203.22,250.92 L203.75,252.93 L204.28,254.74 L204.80,256.30 L205.32,257.62 L205.86,258.76 L206.40,259.72 L206.94,260.53 L207.47,261.19 L207.98,261.73 L208.46,262.16 L208.90,262.50 L209.30,262.69 L209.66,262.69 L209.98,262.54 L210.29,262.29 L210.59,261.98 L210.89,261.65 L211.19,261.34 L211.50,261.10 L211.81,260.88 L212.11,260.63 L212.40,260.37 L212.70,260.10 L213.01,259.85 L213.34,259.64 L213.70,259.49 L214.10,259.40 L214.53,259.38 L214.99,259.41 L215.47,259.48 L215.98,259.60 L216.51,259.75 L217.07,259.94 L217.67,260.16 L218.30,260.40 L218.98,260.68 L219.71,260.99 L220.48,261.33 L221.28,261.71 L222.09,262.12 L222.90,262.56 L223.71,263.02 L224.50,263.50 L225.30,264.05 L226.14,264.68 L227.00,265.36 L227.84,266.06 L228.66,266.74 L229.42,267.36 L230.11,267.89 L230.70,268.30 L231.19,268.57 L231.60,268.74 L231.95,268.82 L232.24,268.85 L232.48,268.84 L232.68,268.81 L232.85,268.79 L233.00,268.80" fill="none" stroke="#000" stroke-width="1.4" stroke-linejoin="round"/>
<circle cx="152.52" cy="269.17" r="1.1" fill="#fff" stroke="#444" stroke-width="0.45"/>
<circle cx="157.34" cy="267.61" r="1.1" fill="#fff" stroke="#444" stroke-width="0.45"/>
<circle cx="158.58" cy="266.13" r="1.1" fill="#fff" stroke="#444" stroke-width="0.45"/>
<circle cx="161.70" cy="264.54" r="1.1" fill="#fff" stroke="#444" stroke-width="0.45"/>
<circle cx="164.45" cy="262.49" r="1.1" fill="#fff" stroke="#444" stroke-width="0.45"/>
<circle cx="168.14" cy="259.08" r="1.1" fill="#fff" stroke="#444" stroke-width="0.45"/>
<circle cx="169.35" cy="258.49" r="1.1" fill="#fff" stroke="#444" stroke-width="0.45"/>
<circle cx="172.94" cy="255.16" r="1.1" fill="#fff" stroke="#444" stroke-width="0.45"/>
<circle cx="175.12" cy="251.73" r="1.1" fill="#fff" stroke="#444" stroke-width="0.45"/>
<circle cx="176.30" cy="248.33" r="1.1" fill="#fff" stroke="#444" stroke-width="0.45"/>
<circle cx="177.26" cy="244.66" r="1.1" fill="#fff" stroke="#444" stroke-width="0.45"/>
<circle cx="178.11" cy="241.35" r="1.1" fill="#fff" stroke="#444" stroke-width="0.45"/>
<circle cx="179.76" cy="239.55" r="1.1" fill="#fff" stroke="#444" stroke-width="0.45"/>
<circle cx="180.61" cy="234.98" r="1.1" fill="#fff" stroke="#444" stroke-width="0.45"/>
<circle cx="180.43" cy="231.48" r="1.1" fill="#fff" stroke="#444" stroke-width="0.45"/>
<circle cx="181.31" cy="227.22" r="1.1" fill="#fff" stroke="#444" stroke-width="0.45"/>
<circle cx="182.29" cy="224.32" r="1.1" fill="#fff" stroke="#444" stroke-width="0.45"/>
<circle cx="183.45" cy="220.12" r="1.1" fill="#fff" stroke="#444" stroke-width="0.45"/>
<circle cx="183.94" cy="216.95" r="1.1" fill="#fff" stroke="#444" stroke-width="0.45"/>
<circle cx="184.91" cy="213.70" r="1.1" fill="#fff" stroke="#444" stroke-width="0.45"/>
<circle cx="187.03" cy="210.74" r="1.1" fill="#fff" stroke="#444" stroke-width="0.45"/>
<circle cx="188.27" cy="206.45" r="1.1" fill="#fff" stroke="#444" stroke-width="0.45"/>
<circle cx="189.36" cy="205.43" r="1.1" fill="#fff" stroke="#444" stroke-width="0.45"/>
<circle cx="190.75" cy="202.71" r="1.1" fill="#fff" stroke="#444" stroke-width="0.45"/>
<circle cx="194.89" cy="206.34" r="1.1" fill="#fff" stroke="#444" stroke-width="0.45"/>
<circle cx="195.64" cy="208.40" r="1.1" fill="#fff" stroke="#444" stroke-width="0.45"/>
<circle cx="195.04" cy="213.32" r="1.1" fill="#fff" stroke="#444" stroke-width="0.45"/>
<circle cx="196.94" cy="215.37" r="1.1" fill="#fff" stroke="#444" stroke-width="0.45"/>
<circle cx="197.36" cy="219.72" r="1.1" fill="#fff" stroke="#444" stroke-width="0.45"/>
<circle cx="198.26" cy="222.44" r="1.1" fill="#fff" stroke="#444" stroke-width="0.45"/>
<circle cx="197.66" cy="226.25" r="1.1" fill="#fff" stroke="#444" stroke-width="0.45"/>
<circle cx="198.24" cy="227.88" r="1.1" fill="#fff" stroke="#444" stroke-width="0.45"/>
<circle cx="199.49" cy="232.48" r="1.1" fill="#fff" stroke="#444" stroke-width="0.45"/>
<circle cx="199.72" cy="234.82" r="1.1" fill="#fff" stroke="#444" stroke-width="0.45"/>
<circle cx="199.36" cy="238.95" r="1.1" fill="#fff" stroke="#444" stroke-width="0.45"/>
<circle cx="200.53" cy="240.34" r="1.1" fill="#fff" stroke="#444" stroke-width="0.45"/>
<circle cx="200.84" cy="244.29" r="1.1" fill="#fff" stroke="#444" stroke-width="0.45"/>
<circle cx="203.08" cy="246.57" r="1.1" fill="#fff" stroke="#444" stroke-width="0.45"/>
<circle cx="203.16" cy="251.64" r="1.1" fill="#fff" stroke="#444" stroke-width="0.45"/>
<circle cx="204.04" cy="254.42" r="1.1" fill="#fff" stroke="#444" stroke-width="0.45"/>
<circle cx="204.17" cy="257.09" r="1.1" fill="#fff" stroke="#444" stroke-width="0.45"/>
<circle cx="207.55" cy="260.20" r="1.1" fill="#fff" stroke="#444" stroke-width="0.45"/>
<circle cx="210.70" cy="262.05" r="1.1" fill="#fff" stroke="#444" stroke-width="0.45"/>
<circle cx="212.39" cy="259.60" r="1.1" fill="#fff" stroke="#444" stroke-width="0.45"/>
<circle cx="215.04" cy="259.22" r="1.1" fill="#fff" stroke="#444" stroke-width="0.45"/>
<circle cx="218.07" cy="259.56" r="1.1" fill="#fff" stroke="#444" stroke-width="0.45"/>
<circle cx="222.01" cy="260.99" r="1.1" fill="#fff" stroke="#444" stroke-width="0.45"/>
<circle cx="224.55" cy="263.92" r="1.1" fill="#fff" stroke="#444" stroke-width="0.45"/>
<circle cx="227.64" cy="265.75" r="1.1" fill="#fff" stroke="#444" stroke-width="0.45"/>
<circle cx="229.91" cy="268.98" r="1.1" fill="#fff" stroke="#444" stroke-width="0.45"/>
<path d="M151.95,357.68 L152.45,357.66 L152.95,357.63 L153.44,357.60 L153.94,357.57 L154.44,357.54 L154.94,357.51 L155.44,357.48 L155.94,357.44 L156.43,357.41 L156.93,357.37 L157.43,357.33 L157.93,357.30 L158.43,357.25 L158.93,357.21 L159.42,357.17 L159.92,357.12 L160.42,357.07 L160.92,357.02 L161.42,356.97 L161.91,356.92 L162.41,356.86 L162.91,356.80 L163.41,356.74 L163.91,356.67 L164.41,356.60 L164.90,356.53 L165.40,356.45 L165.90,356.37 L166.40,356.28 L166.90,356.19 L167.39,356.09 L167.89,355.99 L168.39,355.88 L168.89,355.76 L169.39,355.64 L169.89,355.50 L170.38,355.35 L170.88,355.19 L171.38,355.02 L171.88,354.83 L172.38,354.62 L172.88,354.39 L173.37,354.14 L173.87,353.87 L174.37,353.56 L174.87,353.23 L175.37,352.85 L175.86,352.44 L176.36,351.98 L176.86,351.48 L177.36,350.92 L177.86,350.31 L178.36,349.63 L178.85,348.88 L179.35,348.07 L179.85,347.17 L180.35,346.20 L180.85,345.14 L181.35,343.99 L181.84,342.75 L182.34,341.41 L182.84,339.99 L183.34,338.46 L183.84,336.84 L184.33,335.13 L184.83,333.34 L185.33,331.46 L185.83,329.51 L186.33,327.49 L186.83,325.43 L187.32,323.33 L187.82,321.21 L188.32,319.10 L188.82,317.03 L189.32,315.01 L189.81,313.10 L190.31,311.32 L190.81,309.71 L191.31,308.31 L191.81,307.16 L192.31,306.30 L192.80,305.74 L193.30,305.51 L193.80,305.61 L194.30,306.04 L194.80,306.79 L195.30,307.83 L195.79,309.14 L196.29,310.67 L196.79,312.38 L197.29,314.25 L197.79,316.23 L198.28,318.28 L198.78,320.38 L199.28,322.50 L199.78,324.61 L200.28,326.69 L200.78,328.72 L201.27,330.70 L201.77,332.61 L202.27,334.44 L202.77,336.18 L203.27,337.84 L203.76,339.40 L204.26,340.87 L204.76,342.24 L205.26,343.51 L205.76,344.70 L206.26,345.79 L206.75,346.80 L207.25,347.73 L207.75,348.57 L208.25,349.35 L208.75,350.05 L209.25,350.69 L209.74,351.27 L210.24,351.79 L210.74,352.27 L211.24,352.70 L211.74,353.08 L212.23,353.43 L212.73,353.75 L213.23,354.04 L213.73,354.30 L214.23,354.53 L214.73,354.75 L215.22,354.95 L215.72,355.13 L216.22,355.29 L216.72,355.44 L217.22,355.59 L217.72,355.72 L218.21,355.84 L218.71,355.95 L219.21,356.06 L219.71,356.15 L220.21,356.25 L220.70,356.34 L221.20,356.42 L221.70,356.50 L222.20,356.57 L222.70,356.64 L223.20,356.71 L223.69,356.77 L224.19,356.84 L224.69,356.89 L225.19,356.95 L225.69,357.00 L226.18,357.05 L226.68,357.10 L227.18,357.15 L227.68,357.19 L228.18,357.24 L228.68,357.28 L229.17,357.32 L229.67,357.36 L230.17,357.40 L230.67,357.43 L231.17,357.46 L231.67,357.50 L232.16,357.53 L232.66,357.56 L233.16,357.59 L233.16,358.80 L151.95,358.80 Z" fill="#0b48a1" fill-opacity="0.18" stroke="#2e3a5c" stroke-width="0.5" stroke-linejoin="round"/>
<path d="M151.95,358.33 L152.45,358.31 L152.95,358.30 L153.45,358.28 L153.95,358.27 L154.45,358.25 L154.95,358.23 L155.45,358.21 L155.95,358.19 L156.45,358.17 L156.95,358.15 L157.45,358.12 L157.95,358.10 L158.45,358.07 L158.95,358.04 L159.45,358.01 L159.94,357.98 L160.44,357.94 L160.94,357.90 L161.44,357.86 L161.94,357.82 L162.44,357.77 L162.94,357.71 L163.44,357.65 L163.94,357.59 L164.44,357.51 L164.94,357.43 L165.44,357.34 L165.94,357.23 L166.44,357.12 L166.94,356.99 L167.44,356.84 L167.94,356.67 L168.44,356.49 L168.94,356.28 L169.44,356.05 L169.94,355.79 L170.44,355.50 L170.94,355.18 L171.44,354.83 L171.94,354.44 L172.44,354.02 L172.94,353.56 L173.44,353.06 L173.94,352.52 L174.44,351.95 L174.93,351.33 L175.43,350.68 L175.93,350.00 L176.43,349.29 L176.93,348.55 L177.43,347.80 L177.93,347.03 L178.43,346.26 L178.93,345.50 L179.43,344.76 L179.93,344.05 L180.43,343.39 L180.93,342.79 L181.43,342.27 L181.93,341.85 L182.43,341.54 L182.93,341.36 L183.43,341.30 L183.93,341.37 L184.43,341.57 L184.93,341.90 L185.43,342.33 L185.93,342.86 L186.43,343.46 L186.93,344.13 L187.43,344.84 L187.93,345.59 L188.43,346.35 L188.93,347.12 L189.43,347.89 L189.93,348.64 L190.42,349.38 L190.92,350.08 L191.42,350.76 L191.92,351.41 L192.42,352.02 L192.92,352.59 L193.42,353.12 L193.92,353.62 L194.42,354.07 L194.92,354.49 L195.42,354.87 L195.92,355.22 L196.42,355.54 L196.92,355.82 L197.42,356.08 L197.92,356.31 L198.42,356.51 L198.92,356.69 L199.42,356.86 L199.92,357.00 L200.42,357.13 L200.92,357.25 L201.42,357.35 L201.92,357.44 L202.42,357.52 L202.92,357.59 L203.42,357.66 L203.92,357.72 L204.42,357.77 L204.92,357.82 L205.42,357.87 L205.91,357.91 L206.41,357.95 L206.91,357.98 L207.41,358.02 L207.91,358.05 L208.41,358.07 L208.91,358.10 L209.41,358.13 L209.91,358.15 L210.41,358.17 L210.91,358.19 L211.41,358.21 L211.91,358.23 L212.41,358.25 L212.91,358.27 L213.41,358.29 L213.91,358.30 L214.41,358.32 L214.91,358.33 L215.41,358.34 L215.91,358.36 L216.41,358.37 L216.91,358.38 L217.41,358.39 L217.91,358.41 L218.41,358.42 L218.91,358.43 L219.41,358.44 L219.91,358.45 L220.41,358.45 L220.90,358.46 L221.40,358.47 L221.90,358.48 L222.40,358.49 L222.90,358.50 L223.40,358.50 L223.90,358.51 L224.40,358.52 L224.90,358.52 L225.40,358.53 L225.90,358.54 L226.40,358.54 L226.90,358.55 L227.40,358.55 L227.90,358.56 L228.40,358.56 L228.40,358.80 L151.95,358.80 Z" fill="#0b48a1" fill-opacity="0.18" stroke="#2e3a5c" stroke-width="0.5" stroke-linejoin="round"/>
<path d="M172.00,358.77 L172.50,358.77 L172.99,358.77 L173.49,358.77 L173.99,358.77 L174.49,358.77 L174.98,358.77 L175.48,358.77 L175.98,358.77 L176.48,358.77 L176.97,358.77 L177.47,358.77 L177.97,358.77 L178.46,358.76 L178.96,358.76 L179.46,358.76 L179.96,358.76 L180.45,358.76 L180.95,358.76 L181.45,358.76 L181.94,358.76 L182.44,358.75 L182.94,358.75 L183.44,358.75 L183.93,358.75 L184.43,358.75 L184.93,358.75 L185.43,358.75 L185.92,358.74 L186.42,358.74 L186.92,358.74 L187.41,358.74 L187.91,358.74 L188.41,358.73 L188.91,358.73 L189.40,358.73 L189.90,358.72 L190.40,358.72 L190.89,358.72 L191.39,358.71 L191.89,358.71 L192.39,358.71 L192.88,358.70 L193.38,358.70 L193.88,358.69 L194.38,358.68 L194.87,358.67 L195.37,358.66 L195.87,358.65 L196.36,358.64 L196.86,358.63 L197.36,358.61 L197.86,358.59 L198.35,358.57 L198.85,358.54 L199.35,358.51 L199.85,358.48 L200.34,358.44 L200.84,358.39 L201.34,358.34 L201.83,358.29 L202.33,358.22 L202.83,358.15 L203.33,358.06 L203.82,357.97 L204.32,357.88 L204.82,357.77 L205.31,357.65 L205.81,357.53 L206.31,357.39 L206.81,357.26 L207.30,357.11 L207.80,356.96 L208.30,356.81 L208.80,356.65 L209.29,356.50 L209.79,356.35 L210.29,356.21 L210.78,356.07 L211.28,355.95 L211.78,355.84 L212.28,355.75 L212.77,355.68 L213.27,355.63 L213.77,355.60 L214.27,355.60 L214.76,355.63 L215.26,355.68 L215.76,355.75 L216.25,355.85 L216.75,355.96 L217.25,356.08 L217.75,356.22 L218.24,356.36 L218.74,356.51 L219.24,356.66 L219.73,356.82 L220.23,356.97 L220.73,357.12 L221.23,357.27 L221.72,357.40 L222.22,357.54 L222.72,357.66 L223.22,357.77 L223.71,357.88 L224.21,357.98 L224.71,358.07 L225.20,358.15 L225.70,358.22 L226.20,358.29 L226.70,358.35 L227.19,358.40 L227.69,358.44 L228.19,358.48 L228.68,358.52 L229.18,358.55 L229.68,358.57 L230.18,358.59 L230.67,358.61 L231.17,358.63 L231.67,358.64 L232.17,358.65 L232.66,358.67 L233.16,358.67 L233.16,358.80 L172.00,358.80 Z" fill="#e0463c" fill-opacity="0.85" stroke="#5a2020" stroke-width="0.5" stroke-linejoin="round"/>
<path d="M190.00,358.77 L190.50,358.77 L190.99,358.77 L191.49,358.77 L191.98,358.77 L192.48,358.77 L192.98,358.77 L193.47,358.76 L193.97,358.76 L194.46,358.76 L194.96,358.76 L195.46,358.76 L195.95,358.76 L196.45,358.75 L196.95,358.75 L197.44,358.75 L197.94,358.75 L198.43,358.75 L198.93,358.74 L199.43,358.74 L199.92,358.74 L200.42,358.74 L200.91,358.73 L201.41,358.73 L201.91,358.73 L202.40,358.72 L202.90,358.72 L203.39,358.71 L203.89,358.71 L204.39,358.70 L204.88,358.69 L205.38,358.68 L205.87,358.67 L206.37,358.66 L206.87,358.65 L207.36,358.63 L207.86,358.61 L208.36,358.58 L208.85,358.55 L209.35,358.51 L209.84,358.45 L210.34,358.39 L210.84,358.32 L211.33,358.23 L211.83,358.13 L212.32,358.01 L212.82,357.87 L213.32,357.71 L213.81,357.54 L214.31,357.34 L214.80,357.14 L215.30,356.91 L215.80,356.68 L216.29,356.45 L216.79,356.22 L217.29,355.99 L217.78,355.79 L218.28,355.60 L218.77,355.46 L219.27,355.36 L219.77,355.31 L220.26,355.31 L220.76,355.36 L221.25,355.47 L221.75,355.61 L222.25,355.80 L222.74,356.00 L223.24,356.23 L223.73,356.46 L224.23,356.70 L224.73,356.93 L225.22,357.15 L225.72,357.36 L226.21,357.55 L226.71,357.72 L227.21,357.88 L227.70,358.02 L228.20,358.14 L228.70,358.24 L229.19,358.32 L229.69,358.40 L230.18,358.46 L230.68,358.51 L231.18,358.55 L231.67,358.58 L232.17,358.61 L232.66,358.63 L233.16,358.65 L233.16,358.80 L190.00,358.80 Z" fill="#e0463c" fill-opacity="0.85" stroke="#5a2020" stroke-width="0.5" stroke-linejoin="round"/>
<line x1="151.95" y1="358.80" x2="233.16" y2="358.80" stroke="#3a3a3a" stroke-width="0.8"/>
<path d="M153.00,358.30 L153.31,358.23 L153.72,358.13 L154.21,358.02 L154.75,357.89 L155.32,357.76 L155.91,357.61 L156.47,357.46 L157.00,357.30 L157.50,357.14 L158.00,356.96 L158.50,356.77 L159.00,356.57 L159.50,356.37 L160.00,356.17 L160.50,355.98 L161.00,355.80 L161.49,355.64 L161.96,355.51 L162.43,355.40 L162.91,355.28 L163.39,355.15 L163.89,354.98 L164.43,354.77 L165.00,354.50 L165.62,354.18 L166.27,353.83 L166.96,353.44 L167.66,353.02 L168.38,352.56 L169.10,352.05 L169.81,351.50 L170.50,350.90 L171.19,350.24 L171.88,349.52 L172.57,348.74 L173.26,347.93 L173.94,347.08 L174.61,346.22 L175.26,345.36 L175.90,344.50 L176.53,343.66 L177.15,342.84 L177.77,342.02 L178.37,341.18 L178.95,340.31 L179.50,339.38 L180.02,338.38 L180.50,337.30 L180.93,336.13 L181.31,334.88 L181.65,333.57 L181.97,332.20 L182.27,330.79 L182.57,329.35 L182.88,327.88 L183.20,326.40 L183.54,324.87 L183.88,323.25 L184.21,321.58 L184.55,319.89 L184.89,318.21 L185.22,316.58 L185.56,315.04 L185.90,313.60 L186.24,312.26 L186.59,310.97 L186.95,309.75 L187.30,308.57 L187.65,307.46 L187.98,306.41 L188.30,305.43 L188.60,304.50 L188.88,303.64 L189.13,302.85 L189.37,302.11 L189.59,301.44 L189.82,300.83 L190.04,300.27 L190.26,299.76 L190.50,299.30 L190.75,298.89 L190.99,298.53 L191.24,298.22 L191.49,297.96 L191.75,297.76 L192.00,297.62 L192.25,297.53 L192.50,297.50 L192.75,297.53 L192.99,297.62 L193.24,297.76 L193.48,297.96 L193.73,298.22 L193.98,298.53 L194.24,298.89 L194.50,299.30 L194.76,299.74 L195.02,300.18 L195.28,300.67 L195.54,301.21 L195.82,301.84 L196.12,302.59 L196.44,303.46 L196.80,304.50 L197.20,305.72 L197.63,307.13 L198.09,308.67 L198.57,310.32 L199.06,312.04 L199.55,313.80 L200.03,315.57 L200.50,317.30 L200.95,319.02 L201.39,320.76 L201.82,322.53 L202.25,324.32 L202.69,326.15 L203.14,328.00 L203.61,329.88 L204.10,331.80 L204.62,333.84 L205.18,336.05 L205.76,338.33 L206.34,340.62 L206.93,342.84 L207.51,344.89 L208.07,346.71 L208.60,348.20 L209.10,349.37 L209.58,350.28 L210.05,350.97 L210.50,351.50 L210.95,351.89 L211.39,352.20 L211.84,352.45 L212.30,352.70 L212.76,352.88 L213.23,352.93 L213.69,352.88 L214.15,352.76 L214.61,352.61 L215.08,352.47 L215.54,352.35 L216.00,352.30 L216.46,352.30 L216.91,352.30 L217.36,352.31 L217.81,352.34 L218.27,352.38 L218.73,352.43 L219.21,352.51 L219.70,352.60 L220.21,352.72 L220.72,352.87 L221.25,353.04 L221.79,353.23 L222.33,353.42 L222.88,353.62 L223.44,353.81 L224.00,354.00 L224.57,354.18 L225.16,354.35 L225.75,354.52 L226.35,354.69 L226.95,354.87 L227.54,355.07 L228.13,355.27 L228.70,355.50 L229.29,355.76 L229.90,356.07 L230.53,356.40 L231.14,356.74 L231.72,357.07 L232.24,357.37 L232.67,357.62 L233.00,357.80" fill="none" stroke="#000" stroke-width="1.4" stroke-linejoin="round"/>
<circle cx="152.21" cy="358.71" r="1.1" fill="#fff" stroke="#444" stroke-width="0.45"/>
<circle cx="157.49" cy="356.96" r="1.1" fill="#fff" stroke="#444" stroke-width="0.45"/>
<circle cx="160.00" cy="356.67" r="1.1" fill="#fff" stroke="#444" stroke-width="0.45"/>
<circle cx="162.92" cy="355.16" r="1.1" fill="#fff" stroke="#444" stroke-width="0.45"/>
<circle cx="165.39" cy="353.34" r="1.1" fill="#fff" stroke="#444" stroke-width="0.45"/>
<circle cx="169.31" cy="351.19" r="1.1" fill="#fff" stroke="#444" stroke-width="0.45"/>
<circle cx="172.68" cy="348.21" r="1.1" fill="#fff" stroke="#444" stroke-width="0.45"/>
<circle cx="174.99" cy="345.48" r="1.1" fill="#fff" stroke="#444" stroke-width="0.45"/>
<circle cx="176.15" cy="342.85" r="1.1" fill="#fff" stroke="#444" stroke-width="0.45"/>
<circle cx="177.98" cy="341.83" r="1.1" fill="#fff" stroke="#444" stroke-width="0.45"/>
<circle cx="181.19" cy="337.84" r="1.1" fill="#fff" stroke="#444" stroke-width="0.45"/>
<circle cx="182.15" cy="334.90" r="1.1" fill="#fff" stroke="#444" stroke-width="0.45"/>
<circle cx="182.25" cy="331.98" r="1.1" fill="#fff" stroke="#444" stroke-width="0.45"/>
<circle cx="181.88" cy="329.53" r="1.1" fill="#fff" stroke="#444" stroke-width="0.45"/>
<circle cx="182.82" cy="325.26" r="1.1" fill="#fff" stroke="#444" stroke-width="0.45"/>
<circle cx="184.65" cy="322.36" r="1.1" fill="#fff" stroke="#444" stroke-width="0.45"/>
<circle cx="185.26" cy="318.72" r="1.1" fill="#fff" stroke="#444" stroke-width="0.45"/>
<circle cx="184.31" cy="316.94" r="1.1" fill="#fff" stroke="#444" stroke-width="0.45"/>
<circle cx="185.94" cy="312.82" r="1.1" fill="#fff" stroke="#444" stroke-width="0.45"/>
<circle cx="187.16" cy="310.37" r="1.1" fill="#fff" stroke="#444" stroke-width="0.45"/>
<circle cx="187.75" cy="306.90" r="1.1" fill="#fff" stroke="#444" stroke-width="0.45"/>
<circle cx="188.09" cy="303.52" r="1.1" fill="#fff" stroke="#444" stroke-width="0.45"/>
<circle cx="190.62" cy="301.53" r="1.1" fill="#fff" stroke="#444" stroke-width="0.45"/>
<circle cx="190.54" cy="298.61" r="1.1" fill="#fff" stroke="#444" stroke-width="0.45"/>
<circle cx="193.17" cy="299.15" r="1.1" fill="#fff" stroke="#444" stroke-width="0.45"/>
<circle cx="195.90" cy="302.12" r="1.1" fill="#fff" stroke="#444" stroke-width="0.45"/>
<circle cx="198.10" cy="305.34" r="1.1" fill="#fff" stroke="#444" stroke-width="0.45"/>
<circle cx="197.52" cy="309.12" r="1.1" fill="#fff" stroke="#444" stroke-width="0.45"/>
<circle cx="198.61" cy="311.94" r="1.1" fill="#fff" stroke="#444" stroke-width="0.45"/>
<circle cx="199.46" cy="315.80" r="1.1" fill="#fff" stroke="#444" stroke-width="0.45"/>
<circle cx="200.33" cy="319.20" r="1.1" fill="#fff" stroke="#444" stroke-width="0.45"/>
<circle cx="201.07" cy="320.57" r="1.1" fill="#fff" stroke="#444" stroke-width="0.45"/>
<circle cx="201.66" cy="323.82" r="1.1" fill="#fff" stroke="#444" stroke-width="0.45"/>
<circle cx="202.74" cy="327.80" r="1.1" fill="#fff" stroke="#444" stroke-width="0.45"/>
<circle cx="204.94" cy="331.42" r="1.1" fill="#fff" stroke="#444" stroke-width="0.45"/>
<circle cx="204.81" cy="335.72" r="1.1" fill="#fff" stroke="#444" stroke-width="0.45"/>
<circle cx="206.84" cy="339.64" r="1.1" fill="#fff" stroke="#444" stroke-width="0.45"/>
<circle cx="207.53" cy="342.24" r="1.1" fill="#fff" stroke="#444" stroke-width="0.45"/>
<circle cx="208.67" cy="345.78" r="1.1" fill="#fff" stroke="#444" stroke-width="0.45"/>
<circle cx="208.72" cy="350.18" r="1.1" fill="#fff" stroke="#444" stroke-width="0.45"/>
<circle cx="210.84" cy="353.03" r="1.1" fill="#fff" stroke="#444" stroke-width="0.45"/>
<circle cx="214.25" cy="352.15" r="1.1" fill="#fff" stroke="#444" stroke-width="0.45"/>
<circle cx="216.80" cy="352.70" r="1.1" fill="#fff" stroke="#444" stroke-width="0.45"/>
<circle cx="219.82" cy="352.64" r="1.1" fill="#fff" stroke="#444" stroke-width="0.45"/>
<circle cx="223.42" cy="354.46" r="1.1" fill="#fff" stroke="#444" stroke-width="0.45"/>
<circle cx="226.38" cy="354.63" r="1.1" fill="#fff" stroke="#444" stroke-width="0.45"/>
<circle cx="228.82" cy="355.10" r="1.1" fill="#fff" stroke="#444" stroke-width="0.45"/>
<rect x="150.45" y="9.5" width="84.21" height="358.70" fill="none" stroke="#3a3a3a" stroke-width="1.0"/>
<line x1="150.45" y1="99.30" x2="234.66" y2="99.30" stroke="#3a3a3a" stroke-width="1.0"/>
<line x1="150.45" y1="189.30" x2="234.66" y2="189.30" stroke="#3a3a3a" stroke-width="1.0"/>
<line x1="150.45" y1="278.90" x2="234.66" y2="278.90" stroke="#3a3a3a" stroke-width="1.0"/>
<line x1="171.50" y1="99.30" x2="171.50" y2="96.50" stroke="#231f20" stroke-width="0.7"/>
<line x1="192.56" y1="99.30" x2="192.56" y2="96.50" stroke="#231f20" stroke-width="0.7"/>
<line x1="213.61" y1="99.30" x2="213.61" y2="96.50" stroke="#231f20" stroke-width="0.7"/>
<line x1="171.50" y1="189.30" x2="171.50" y2="186.50" stroke="#231f20" stroke-width="0.7"/>
<line x1="192.56" y1="189.30" x2="192.56" y2="186.50" stroke="#231f20" stroke-width="0.7"/>
<line x1="213.61" y1="189.30" x2="213.61" y2="186.50" stroke="#231f20" stroke-width="0.7"/>
<line x1="171.50" y1="278.90" x2="171.50" y2="276.10" stroke="#231f20" stroke-width="0.7"/>
<line x1="192.56" y1="278.90" x2="192.56" y2="276.10" stroke="#231f20" stroke-width="0.7"/>
<line x1="213.61" y1="278.90" x2="213.61" y2="276.10" stroke="#231f20" stroke-width="0.7"/>
<line x1="171.50" y1="368.20" x2="171.50" y2="365.40" stroke="#231f20" stroke-width="0.7"/>
<line x1="192.56" y1="368.20" x2="192.56" y2="365.40" stroke="#231f20" stroke-width="0.7"/>
<line x1="213.61" y1="368.20" x2="213.61" y2="365.40" stroke="#231f20" stroke-width="0.7"/>
<defs><linearGradient id="g1" x1="0" y1="0" x2="0" y2="1"><stop offset="0" stop-color="#f6cfa8"/><stop offset="1" stop-color="#fcecc6"/></linearGradient><linearGradient id="g2" x1="0" y1="0" x2="0" y2="1"><stop offset="0" stop-color="#f6cfab"/><stop offset="1" stop-color="#fae4bf"/></linearGradient><linearGradient id="g3" x1="0" y1="0" x2="0" y2="1"><stop offset="0" stop-color="#fbf7cc"/><stop offset="1" stop-color="#f5e98a"/></linearGradient></defs>
<path d="M288.10,90.95 L288.60,90.94 L289.10,90.93 L289.60,90.92 L290.10,90.91 L290.60,90.90 L291.09,90.89 L291.59,90.87 L292.09,90.86 L292.59,90.84 L293.09,90.82 L293.59,90.80 L294.09,90.78 L294.59,90.76 L295.09,90.74 L295.59,90.71 L296.08,90.69 L296.58,90.66 L297.08,90.63 L297.58,90.59 L298.08,90.55 L298.58,90.50 L299.08,90.45 L299.58,90.39 L300.08,90.31 L300.58,90.21 L301.07,90.09 L301.57,89.93 L302.07,89.72 L302.57,89.43 L303.07,89.04 L303.57,88.52 L304.07,87.82 L304.57,86.90 L305.07,85.72 L305.57,84.20 L306.06,82.30 L306.56,79.96 L307.06,77.15 L307.56,73.85 L308.06,70.06 L308.56,65.82 L309.06,61.20 L309.56,56.31 L310.06,51.31 L310.56,46.37 L311.05,41.72 L311.55,37.58 L312.05,34.21 L312.55,31.81 L313.05,30.56 L313.55,30.56 L314.05,31.81 L314.55,34.21 L315.05,37.58 L315.55,41.72 L316.04,46.37 L316.54,51.31 L317.04,56.31 L317.54,61.20 L318.04,65.82 L318.54,70.06 L319.04,73.85 L319.54,77.15 L320.04,79.96 L320.54,82.30 L321.03,84.20 L321.53,85.72 L322.03,86.90 L322.53,87.82 L323.03,88.52 L323.53,89.04 L324.03,89.43 L324.53,89.72 L325.03,89.93 L325.53,90.09 L326.02,90.21 L326.52,90.31 L327.02,90.39 L327.52,90.45 L328.02,90.50 L328.52,90.55 L329.02,90.59 L329.52,90.63 L330.02,90.66 L330.52,90.69 L331.01,90.71 L331.51,90.74 L332.01,90.76 L332.51,90.78 L333.01,90.80 L333.51,90.82 L334.01,90.84 L334.51,90.86 L335.01,90.87 L335.51,90.89 L336.00,90.90 L336.50,90.91 L337.00,90.92 L337.50,90.93 L338.00,90.94 L338.50,90.95 L338.50,91.20 L288.10,91.20 Z" fill="#f3aaa5" fill-opacity="0.85" stroke="#4a3a2a" stroke-width="0.5" stroke-linejoin="round"/>
<path d="M277.90,91.07 L278.40,91.07 L278.90,91.06 L279.40,91.05 L279.90,91.05 L280.39,91.04 L280.89,91.03 L281.39,91.02 L281.89,91.01 L282.39,91.00 L282.89,90.99 L283.39,90.98 L283.89,90.97 L284.39,90.95 L284.88,90.94 L285.38,90.92 L285.88,90.90 L286.38,90.88 L286.88,90.85 L287.38,90.83 L287.88,90.79 L288.38,90.75 L288.88,90.69 L289.37,90.62 L289.87,90.52 L290.37,90.38 L290.87,90.19 L291.37,89.92 L291.87,89.54 L292.37,89.03 L292.87,88.34 L293.37,87.42 L293.86,86.25 L294.36,84.77 L294.86,82.98 L295.36,80.86 L295.86,78.43 L296.36,75.73 L296.86,72.86 L297.36,69.93 L297.86,67.08 L298.35,64.48 L298.85,62.30 L299.35,60.73 L299.85,59.91 L300.35,59.91 L300.85,60.73 L301.35,62.30 L301.85,64.48 L302.34,67.08 L302.84,69.93 L303.34,72.86 L303.84,75.73 L304.34,78.43 L304.84,80.86 L305.34,82.98 L305.84,84.77 L306.34,86.25 L306.83,87.42 L307.33,88.34 L307.83,89.03 L308.33,89.54 L308.83,89.92 L309.33,90.19 L309.83,90.38 L310.33,90.52 L310.83,90.62 L311.32,90.69 L311.82,90.75 L312.32,90.79 L312.82,90.83 L313.32,90.85 L313.82,90.88 L314.32,90.90 L314.82,90.92 L315.32,90.94 L315.81,90.95 L316.31,90.97 L316.81,90.98 L317.31,90.99 L317.81,91.00 L318.31,91.01 L318.81,91.02 L319.31,91.03 L319.81,91.04 L320.30,91.05 L320.80,91.05 L321.30,91.06 L321.80,91.07 L322.30,91.07 L322.30,91.20 L277.90,91.20 Z" fill="#f3aaa5" fill-opacity="0.85" stroke="#4a3a2a" stroke-width="0.5" stroke-linejoin="round"/>
<path d="M274.50,91.17 L274.99,91.17 L275.49,91.16 L275.98,91.16 L276.48,91.16 L276.97,91.16 L277.46,91.16 L277.96,91.15 L278.45,91.15 L278.95,91.15 L279.44,91.15 L279.94,91.14 L280.43,91.14 L280.92,91.14 L281.42,91.13 L281.91,91.13 L282.41,91.12 L282.90,91.11 L283.39,91.11 L283.89,91.10 L284.38,91.09 L284.88,91.07 L285.37,91.05 L285.86,91.03 L286.36,90.99 L286.85,90.94 L287.35,90.86 L287.84,90.75 L288.34,90.60 L288.83,90.40 L289.32,90.14 L289.82,89.79 L290.31,89.37 L290.81,88.85 L291.30,88.24 L291.79,87.55 L292.29,86.81 L292.78,86.04 L293.28,85.28 L293.77,84.58 L294.26,83.99 L294.76,83.56 L295.25,83.33 L295.75,83.33 L296.24,83.56 L296.74,83.99 L297.23,84.58 L297.72,85.28 L298.22,86.04 L298.71,86.81 L299.21,87.55 L299.70,88.24 L300.19,88.85 L300.69,89.37 L301.18,89.79 L301.68,90.14 L302.17,90.40 L302.66,90.60 L303.16,90.75 L303.65,90.86 L304.15,90.94 L304.64,90.99 L305.14,91.03 L305.63,91.05 L306.12,91.07 L306.62,91.09 L307.11,91.10 L307.61,91.11 L308.10,91.11 L308.59,91.12 L309.09,91.13 L309.58,91.13 L310.08,91.14 L310.57,91.14 L311.06,91.14 L311.56,91.15 L312.05,91.15 L312.55,91.15 L313.04,91.15 L313.54,91.16 L314.03,91.16 L314.52,91.16 L315.02,91.16 L315.51,91.16 L316.01,91.17 L316.50,91.17 L316.50,91.20 L274.50,91.20 Z" fill="#ee9a45" fill-opacity="0.85" stroke="#4a3a2a" stroke-width="0.5" stroke-linejoin="round"/>
<path d="M281.50,91.13 L282.00,91.12 L282.49,91.12 L282.99,91.12 L283.48,91.12 L283.98,91.11 L284.47,91.11 L284.97,91.10 L285.46,91.10 L285.96,91.10 L286.45,91.09 L286.95,91.09 L287.44,91.08 L287.94,91.08 L288.44,91.07 L288.93,91.06 L289.43,91.06 L289.92,91.05 L290.42,91.04 L290.91,91.03 L291.41,91.02 L291.90,91.01 L292.40,91.00 L292.89,90.99 L293.39,90.97 L293.89,90.96 L294.38,90.93 L294.88,90.91 L295.37,90.87 L295.87,90.83 L296.36,90.77 L296.86,90.70 L297.35,90.60 L297.85,90.48 L298.34,90.31 L298.84,90.09 L299.33,89.81 L299.83,89.46 L300.33,89.02 L300.82,88.48 L301.32,87.82 L301.81,87.05 L302.31,86.15 L302.80,85.13 L303.30,83.98 L303.79,82.74 L304.29,81.42 L304.78,80.06 L305.28,78.69 L305.78,77.36 L306.27,76.13 L306.77,75.05 L307.26,74.17 L307.76,73.56 L308.25,73.24 L308.75,73.24 L309.24,73.56 L309.74,74.17 L310.23,75.05 L310.73,76.13 L311.22,77.36 L311.72,78.69 L312.22,80.06 L312.71,81.42 L313.21,82.74 L313.70,83.98 L314.20,85.13 L314.69,86.15 L315.19,87.05 L315.68,87.82 L316.18,88.48 L316.67,89.02 L317.17,89.46 L317.67,89.81 L318.16,90.09 L318.66,90.31 L319.15,90.48 L319.65,90.60 L320.14,90.70 L320.64,90.77 L321.13,90.83 L321.63,90.87 L322.12,90.91 L322.62,90.93 L323.11,90.96 L323.61,90.97 L324.11,90.99 L324.60,91.00 L325.10,91.01 L325.59,91.02 L326.09,91.03 L326.58,91.04 L327.08,91.05 L327.57,91.06 L328.07,91.06 L328.56,91.07 L329.06,91.08 L329.56,91.08 L330.05,91.09 L330.55,91.09 L331.04,91.10 L331.54,91.10 L332.03,91.10 L332.53,91.11 L333.02,91.11 L333.52,91.12 L334.01,91.12 L334.51,91.12 L335.00,91.12 L335.50,91.13 L335.50,91.20 L281.50,91.20 Z" fill="#ee9a45" fill-opacity="0.85" stroke="#4a3a2a" stroke-width="0.5" stroke-linejoin="round"/>
<path d="M306.00,91.19 L306.50,91.19 L307.00,91.19 L307.49,91.19 L307.99,91.19 L308.49,91.19 L308.99,91.19 L309.48,91.19 L309.98,91.19 L310.48,91.19 L310.98,91.19 L311.47,91.19 L311.97,91.19 L312.47,91.18 L312.96,91.18 L313.46,91.18 L313.96,91.18 L314.46,91.18 L314.95,91.18 L315.45,91.18 L315.95,91.18 L316.45,91.18 L316.94,91.18 L317.44,91.18 L317.94,91.17 L318.44,91.17 L318.94,91.17 L319.43,91.17 L319.93,91.17 L320.43,91.16 L320.93,91.16 L321.42,91.16 L321.92,91.15 L322.42,91.15 L322.92,91.14 L323.41,91.13 L323.91,91.12 L324.41,91.11 L324.91,91.09 L325.40,91.07 L325.90,91.04 L326.40,91.01 L326.89,90.97 L327.39,90.92 L327.89,90.87 L328.39,90.80 L328.88,90.73 L329.38,90.64 L329.88,90.55 L330.38,90.44 L330.88,90.33 L331.37,90.21 L331.87,90.09 L332.37,89.97 L332.87,89.85 L333.36,89.73 L333.86,89.63 L334.36,89.54 L334.86,89.47 L335.35,89.42 L335.85,89.40 L336.35,89.41 L336.85,89.44 L337.34,89.49 L337.84,89.57 L338.34,89.67 L338.84,89.78 L339.33,89.89 L339.83,90.01 L340.33,90.14 L340.82,90.26 L341.32,90.37 L341.82,90.48 L342.32,90.59 L342.81,90.68 L343.31,90.76 L343.81,90.83 L344.31,90.89 L344.81,90.94 L345.30,90.99 L345.80,91.03 L345.80,91.20 L306.00,91.20 Z" fill="#e0463c" fill-opacity="0.9" stroke="#4a3a2a" stroke-width="0.5" stroke-linejoin="round"/>
<line x1="264.30" y1="91.20" x2="345.80" y2="91.20" stroke="#3a3a3a" stroke-width="0.8"/>
<path d="M265.00,90.70 L265.79,90.69 L266.87,90.68 L268.15,90.67 L269.56,90.66 L271.03,90.65 L272.48,90.63 L273.83,90.62 L275.00,90.60 L276.03,90.58 L277.01,90.56 L277.93,90.54 L278.81,90.52 L279.65,90.49 L280.45,90.47 L281.24,90.44 L282.00,90.40 L282.74,90.39 L283.46,90.41 L284.14,90.45 L284.79,90.48 L285.42,90.47 L286.01,90.40 L286.57,90.25 L287.10,90.00 L287.59,89.65 L288.04,89.23 L288.45,88.75 L288.84,88.20 L289.20,87.59 L289.54,86.92 L289.87,86.19 L290.20,85.40 L290.51,84.55 L290.80,83.62 L291.06,82.62 L291.31,81.57 L291.56,80.47 L291.80,79.34 L292.04,78.18 L292.30,77.00 L292.56,75.79 L292.82,74.52 L293.09,73.22 L293.35,71.88 L293.61,70.53 L293.87,69.17 L294.14,67.83 L294.40,66.50 L294.66,65.16 L294.92,63.78 L295.19,62.38 L295.45,60.99 L295.71,59.63 L295.97,58.33 L296.24,57.11 L296.50,56.00 L296.75,54.96 L297.00,53.94 L297.24,52.98 L297.48,52.09 L297.73,51.29 L298.00,50.61 L298.28,50.08 L298.60,49.70 L298.95,49.55 L299.33,49.62 L299.72,49.85 L300.14,50.19 L300.56,50.58 L300.98,50.95 L301.40,51.24 L301.80,51.40 L302.20,51.48 L302.61,51.57 L303.01,51.64 L303.42,51.67 L303.82,51.62 L304.20,51.48 L304.56,51.22 L304.90,50.80 L305.21,50.24 L305.48,49.55 L305.73,48.75 L305.97,47.84 L306.21,46.85 L306.46,45.77 L306.72,44.62 L307.00,43.40 L307.31,42.08 L307.63,40.65 L307.96,39.11 L308.29,37.50 L308.64,35.85 L308.99,34.18 L309.34,32.52 L309.70,30.90 L310.06,29.16 L310.44,27.22 L310.82,25.20 L311.20,23.20 L311.58,21.35 L311.96,19.78 L312.34,18.59 L312.70,17.90 L313.06,17.71 L313.41,17.91 L313.76,18.44 L314.11,19.26 L314.44,20.34 L314.77,21.61 L315.09,23.05 L315.40,24.60 L315.69,26.37 L315.97,28.45 L316.23,30.76 L316.49,33.24 L316.74,35.81 L316.99,38.41 L317.24,40.96 L317.50,43.40 L317.76,45.79 L318.02,48.22 L318.29,50.66 L318.55,53.11 L318.81,55.52 L319.08,57.87 L319.34,60.14 L319.60,62.30 L319.86,64.37 L320.10,66.39 L320.34,68.35 L320.59,70.24 L320.84,72.06 L321.10,73.80 L321.39,75.44 L321.70,77.00 L322.03,78.47 L322.38,79.86 L322.74,81.17 L323.12,82.39 L323.51,83.53 L323.92,84.58 L324.35,85.54 L324.80,86.40 L325.25,87.15 L325.71,87.80 L326.17,88.35 L326.66,88.81 L327.17,89.19 L327.73,89.51 L328.33,89.78 L329.00,90.00 L329.73,90.14 L330.51,90.16 L331.33,90.11 L332.20,90.00 L333.11,89.87 L334.04,89.76 L335.01,89.69 L336.00,89.70 L337.09,89.79 L338.32,89.92 L339.62,90.09 L340.94,90.28 L342.20,90.47 L343.34,90.65 L344.29,90.80 L345.00,90.90" fill="none" stroke="#000" stroke-width="1.4" stroke-linejoin="round"/>
<circle cx="264.33" cy="91.08" r="1.1" fill="#fff" stroke="#444" stroke-width="0.45"/>
<circle cx="268.65" cy="90.10" r="1.1" fill="#fff" stroke="#444" stroke-width="0.45"/>
<circle cx="273.24" cy="90.66" r="1.1" fill="#fff" stroke="#444" stroke-width="0.45"/>
<circle cx="275.59" cy="89.59" r="1.1" fill="#fff" stroke="#444" stroke-width="0.45"/>
<circle cx="279.57" cy="89.64" r="1.1" fill="#fff" stroke="#444" stroke-width="0.45"/>
<circle cx="282.80" cy="89.87" r="1.1" fill="#fff" stroke="#444" stroke-width="0.45"/>
<circle cx="287.11" cy="90.85" r="1.1" fill="#fff" stroke="#444" stroke-width="0.45"/>
<circle cx="289.31" cy="86.86" r="1.1" fill="#fff" stroke="#444" stroke-width="0.45"/>
<circle cx="290.39" cy="84.09" r="1.1" fill="#fff" stroke="#444" stroke-width="0.45"/>
<circle cx="291.21" cy="80.13" r="1.1" fill="#fff" stroke="#444" stroke-width="0.45"/>
<circle cx="291.56" cy="77.80" r="1.1" fill="#fff" stroke="#444" stroke-width="0.45"/>
<circle cx="293.11" cy="73.29" r="1.1" fill="#fff" stroke="#444" stroke-width="0.45"/>
<circle cx="293.05" cy="69.28" r="1.1" fill="#fff" stroke="#444" stroke-width="0.45"/>
<circle cx="293.92" cy="66.79" r="1.1" fill="#fff" stroke="#444" stroke-width="0.45"/>
<circle cx="295.96" cy="64.04" r="1.1" fill="#fff" stroke="#444" stroke-width="0.45"/>
<circle cx="296.28" cy="59.60" r="1.1" fill="#fff" stroke="#444" stroke-width="0.45"/>
<circle cx="295.82" cy="55.65" r="1.1" fill="#fff" stroke="#444" stroke-width="0.45"/>
<circle cx="296.96" cy="52.68" r="1.1" fill="#fff" stroke="#444" stroke-width="0.45"/>
<circle cx="299.89" cy="49.87" r="1.1" fill="#fff" stroke="#444" stroke-width="0.45"/>
<circle cx="302.80" cy="52.63" r="1.1" fill="#fff" stroke="#444" stroke-width="0.45"/>
<circle cx="304.44" cy="48.97" r="1.1" fill="#fff" stroke="#444" stroke-width="0.45"/>
<circle cx="307.37" cy="46.10" r="1.1" fill="#fff" stroke="#444" stroke-width="0.45"/>
<circle cx="307.26" cy="43.22" r="1.1" fill="#fff" stroke="#444" stroke-width="0.45"/>
<circle cx="308.04" cy="39.85" r="1.1" fill="#fff" stroke="#444" stroke-width="0.45"/>
<circle cx="307.94" cy="35.48" r="1.1" fill="#fff" stroke="#444" stroke-width="0.45"/>
<circle cx="310.11" cy="32.65" r="1.1" fill="#fff" stroke="#444" stroke-width="0.45"/>
<circle cx="309.63" cy="28.61" r="1.1" fill="#fff" stroke="#444" stroke-width="0.45"/>
<circle cx="311.17" cy="27.19" r="1.1" fill="#fff" stroke="#444" stroke-width="0.45"/>
<circle cx="311.53" cy="23.75" r="1.1" fill="#fff" stroke="#444" stroke-width="0.45"/>
<circle cx="313.00" cy="19.22" r="1.1" fill="#fff" stroke="#444" stroke-width="0.45"/>
<circle cx="315.11" cy="19.69" r="1.1" fill="#fff" stroke="#444" stroke-width="0.45"/>
<circle cx="315.16" cy="23.20" r="1.1" fill="#fff" stroke="#444" stroke-width="0.45"/>
<circle cx="316.46" cy="25.83" r="1.1" fill="#fff" stroke="#444" stroke-width="0.45"/>
<circle cx="316.68" cy="29.86" r="1.1" fill="#fff" stroke="#444" stroke-width="0.45"/>
<circle cx="317.11" cy="31.85" r="1.1" fill="#fff" stroke="#444" stroke-width="0.45"/>
<circle cx="316.32" cy="35.69" r="1.1" fill="#fff" stroke="#444" stroke-width="0.45"/>
<circle cx="316.17" cy="38.49" r="1.1" fill="#fff" stroke="#444" stroke-width="0.45"/>
<circle cx="318.41" cy="43.38" r="1.1" fill="#fff" stroke="#444" stroke-width="0.45"/>
<circle cx="317.32" cy="47.24" r="1.1" fill="#fff" stroke="#444" stroke-width="0.45"/>
<circle cx="318.65" cy="48.88" r="1.1" fill="#fff" stroke="#444" stroke-width="0.45"/>
<circle cx="319.20" cy="53.44" r="1.1" fill="#fff" stroke="#444" stroke-width="0.45"/>
<circle cx="319.17" cy="56.75" r="1.1" fill="#fff" stroke="#444" stroke-width="0.45"/>
<circle cx="320.08" cy="60.10" r="1.1" fill="#fff" stroke="#444" stroke-width="0.45"/>
<circle cx="319.36" cy="64.53" r="1.1" fill="#fff" stroke="#444" stroke-width="0.45"/>
<circle cx="320.51" cy="67.62" r="1.1" fill="#fff" stroke="#444" stroke-width="0.45"/>
<circle cx="320.67" cy="69.73" r="1.1" fill="#fff" stroke="#444" stroke-width="0.45"/>
<circle cx="321.22" cy="72.94" r="1.1" fill="#fff" stroke="#444" stroke-width="0.45"/>
<circle cx="322.56" cy="77.52" r="1.1" fill="#fff" stroke="#444" stroke-width="0.45"/>
<circle cx="321.49" cy="78.75" r="1.1" fill="#fff" stroke="#444" stroke-width="0.45"/>
<circle cx="322.96" cy="81.49" r="1.1" fill="#fff" stroke="#444" stroke-width="0.45"/>
<circle cx="324.88" cy="85.22" r="1.1" fill="#fff" stroke="#444" stroke-width="0.45"/>
<circle cx="326.30" cy="88.79" r="1.1" fill="#fff" stroke="#444" stroke-width="0.45"/>
<circle cx="328.73" cy="89.44" r="1.1" fill="#fff" stroke="#444" stroke-width="0.45"/>
<circle cx="333.10" cy="90.03" r="1.1" fill="#fff" stroke="#444" stroke-width="0.45"/>
<circle cx="335.87" cy="90.44" r="1.1" fill="#fff" stroke="#444" stroke-width="0.45"/>
<circle cx="339.92" cy="89.07" r="1.1" fill="#fff" stroke="#444" stroke-width="0.45"/>
<circle cx="341.86" cy="91.08" r="1.1" fill="#fff" stroke="#444" stroke-width="0.45"/>
<path d="M269.50,178.24 L270.00,178.24 L270.50,178.23 L271.00,178.22 L271.49,178.22 L271.99,178.21 L272.49,178.20 L272.99,178.20 L273.49,178.19 L273.99,178.18 L274.49,178.17 L274.99,178.16 L275.48,178.16 L275.98,178.15 L276.48,178.14 L276.98,178.13 L277.48,178.12 L277.98,178.11 L278.48,178.10 L278.98,178.08 L279.47,178.07 L279.97,178.06 L280.47,178.05 L280.97,178.03 L281.47,178.02 L281.97,178.00 L282.47,177.99 L282.96,177.97 L283.46,177.96 L283.96,177.94 L284.46,177.92 L284.96,177.90 L285.46,177.88 L285.96,177.86 L286.46,177.83 L286.95,177.81 L287.45,177.78 L287.95,177.75 L288.45,177.72 L288.95,177.68 L289.45,177.65 L289.95,177.60 L290.45,177.56 L290.94,177.50 L291.44,177.44 L291.94,177.37 L292.44,177.30 L292.94,177.20 L293.44,177.10 L293.94,176.97 L294.43,176.83 L294.93,176.65 L295.43,176.45 L295.93,176.21 L296.43,175.94 L296.93,175.61 L297.43,175.23 L297.93,174.79 L298.42,174.27 L298.92,173.68 L299.42,173.01 L299.92,172.23 L300.42,171.36 L300.92,170.37 L301.42,169.27 L301.92,168.05 L302.41,166.70 L302.91,165.22 L303.41,163.62 L303.91,161.89 L304.41,160.04 L304.91,158.08 L305.41,156.02 L305.90,153.88 L306.40,151.67 L306.90,149.42 L307.40,147.16 L307.90,144.90 L308.40,142.69 L308.90,140.55 L309.40,138.53 L309.89,136.66 L310.39,134.98 L310.89,133.53 L311.39,132.34 L311.89,131.44 L312.39,130.86 L312.89,130.61 L313.38,130.70 L313.88,131.13 L314.38,131.89 L314.88,132.95 L315.38,134.29 L315.88,135.87 L316.38,137.66 L316.88,139.62 L317.37,141.70 L317.87,143.88 L318.37,146.12 L318.87,148.39 L319.37,150.65 L319.87,152.88 L320.37,155.05 L320.87,157.15 L321.36,159.16 L321.86,161.06 L322.36,162.84 L322.86,164.51 L323.36,166.04 L323.86,167.45 L324.36,168.73 L324.85,169.89 L325.35,170.92 L325.85,171.85 L326.35,172.67 L326.85,173.39 L327.35,174.01 L327.85,174.56 L328.35,175.04 L328.84,175.44 L329.34,175.79 L329.84,176.09 L330.34,176.35 L330.84,176.57 L331.34,176.75 L331.84,176.91 L332.34,177.04 L332.83,177.16 L333.33,177.26 L333.83,177.34 L334.33,177.41 L334.83,177.48 L335.33,177.53 L335.83,177.58 L336.32,177.63 L336.82,177.67 L337.32,177.70 L337.82,177.74 L338.32,177.77 L338.82,177.79 L339.32,177.82 L339.82,177.84 L340.31,177.87 L340.81,177.89 L341.31,177.91 L341.81,177.93 L342.31,177.95 L342.81,177.96 L343.31,177.98 L343.81,178.00 L344.30,178.01 L344.80,178.03 L345.30,178.04 L345.80,178.05 L345.80,178.50 L269.50,178.50 Z" fill="url(#g1)" fill-opacity="1" stroke="#4a3a2a" stroke-width="0.5" stroke-linejoin="round"/>
<path d="M264.30,178.38 L264.80,178.38 L265.30,178.37 L265.80,178.37 L266.30,178.36 L266.80,178.36 L267.30,178.36 L267.80,178.35 L268.29,178.35 L268.79,178.34 L269.29,178.34 L269.79,178.33 L270.29,178.33 L270.79,178.32 L271.29,178.32 L271.79,178.31 L272.29,178.30 L272.79,178.30 L273.29,178.29 L273.79,178.28 L274.29,178.27 L274.79,178.26 L275.29,178.26 L275.79,178.24 L276.28,178.23 L276.78,178.22 L277.28,178.21 L277.78,178.19 L278.28,178.18 L278.78,178.16 L279.28,178.14 L279.78,178.11 L280.28,178.09 L280.78,178.05 L281.28,178.02 L281.78,177.97 L282.28,177.92 L282.78,177.86 L283.28,177.78 L283.77,177.70 L284.27,177.60 L284.77,177.47 L285.27,177.33 L285.77,177.17 L286.27,176.98 L286.77,176.75 L287.27,176.50 L287.77,176.21 L288.27,175.88 L288.77,175.50 L289.27,175.09 L289.77,174.62 L290.27,174.11 L290.77,173.55 L291.27,172.94 L291.76,172.29 L292.26,171.60 L292.76,170.87 L293.26,170.10 L293.76,169.31 L294.26,168.51 L294.76,167.69 L295.26,166.88 L295.76,166.08 L296.26,165.32 L296.76,164.60 L297.26,163.93 L297.76,163.34 L298.26,162.83 L298.76,162.42 L299.26,162.13 L299.75,161.95 L300.25,161.90 L300.75,161.98 L301.25,162.18 L301.75,162.50 L302.25,162.93 L302.75,163.46 L303.25,164.07 L303.75,164.75 L304.25,165.48 L304.75,166.25 L305.25,167.05 L305.75,167.87 L306.25,168.68 L306.75,169.48 L307.24,170.27 L307.74,171.03 L308.24,171.75 L308.74,172.44 L309.24,173.08 L309.74,173.68 L310.24,174.22 L310.74,174.73 L311.24,175.18 L311.74,175.59 L312.24,175.95 L312.74,176.27 L313.24,176.56 L313.74,176.81 L314.24,177.02 L314.74,177.21 L315.23,177.37 L315.73,177.50 L316.23,177.62 L316.73,177.72 L317.23,177.80 L317.73,177.87 L318.23,177.93 L318.73,177.98 L319.23,178.03 L319.73,178.06 L320.23,178.09 L320.73,178.12 L321.23,178.14 L321.73,178.16 L322.23,178.18 L322.73,178.20 L323.22,178.21 L323.72,178.22 L324.22,178.24 L324.72,178.25 L325.22,178.26 L325.72,178.27 L326.22,178.28 L326.72,178.28 L327.22,178.29 L327.72,178.30 L328.22,178.30 L328.72,178.31 L329.22,178.32 L329.72,178.32 L330.22,178.33 L330.71,178.33 L331.21,178.34 L331.71,178.34 L332.21,178.35 L332.71,178.35 L333.21,178.36 L333.71,178.36 L334.21,178.37 L334.71,178.37 L335.21,178.37 L335.71,178.38 L336.21,178.38 L336.71,178.38 L337.21,178.39 L337.71,178.39 L338.21,178.39 L338.70,178.39 L339.20,178.40 L339.70,178.40 L340.20,178.40 L340.70,178.40 L341.20,178.41 L341.70,178.41 L342.20,178.41 L342.20,178.50 L264.30,178.50 Z" fill="#f4c4a2" fill-opacity="0.85" stroke="#4a3a2a" stroke-width="0.5" stroke-linejoin="round"/>
<path d="M269.10,178.42 L269.60,178.42 L270.10,178.42 L270.59,178.42 L271.09,178.42 L271.59,178.41 L272.09,178.41 L272.59,178.41 L273.08,178.41 L273.58,178.40 L274.08,178.40 L274.58,178.40 L275.08,178.40 L275.57,178.39 L276.07,178.39 L276.57,178.39 L277.07,178.38 L277.57,178.38 L278.06,178.37 L278.56,178.37 L279.06,178.37 L279.56,178.36 L280.06,178.36 L280.56,178.35 L281.05,178.35 L281.55,178.34 L282.05,178.34 L282.55,178.33 L283.05,178.32 L283.54,178.32 L284.04,178.31 L284.54,178.30 L285.04,178.29 L285.54,178.28 L286.03,178.27 L286.53,178.26 L287.03,178.25 L287.53,178.24 L288.03,178.22 L288.52,178.20 L289.02,178.18 L289.52,178.16 L290.02,178.13 L290.52,178.09 L291.01,178.05 L291.51,178.00 L292.01,177.95 L292.51,177.88 L293.01,177.80 L293.50,177.70 L294.00,177.58 L294.50,177.44 L295.00,177.28 L295.50,177.08 L295.99,176.86 L296.49,176.60 L296.99,176.31 L297.49,175.97 L297.99,175.59 L298.49,175.16 L298.98,174.69 L299.48,174.17 L299.98,173.61 L300.48,173.00 L300.98,172.36 L301.47,171.68 L301.97,170.97 L302.47,170.24 L302.97,169.51 L303.47,168.77 L303.96,168.05 L304.46,167.35 L304.96,166.70 L305.46,166.11 L305.96,165.59 L306.45,165.16 L306.95,164.82 L307.45,164.61 L307.95,164.51 L308.45,164.53 L308.94,164.68 L309.44,164.94 L309.94,165.31 L310.44,165.78 L310.94,166.33 L311.43,166.95 L311.93,167.62 L312.43,168.33 L312.93,169.06 L313.43,169.79 L313.92,170.53 L314.42,171.25 L314.92,171.95 L315.42,172.61 L315.92,173.25 L316.41,173.84 L316.91,174.38 L317.41,174.88 L317.91,175.34 L318.41,175.74 L318.91,176.11 L319.40,176.43 L319.90,176.71 L320.40,176.95 L320.90,177.16 L321.40,177.34 L321.89,177.50 L322.39,177.63 L322.89,177.74 L323.39,177.83 L323.89,177.91 L324.38,177.97 L324.88,178.02 L325.38,178.07 L325.88,178.11 L326.38,178.14 L326.87,178.17 L327.37,178.19 L327.87,178.21 L328.37,178.23 L328.87,178.24 L329.36,178.25 L329.86,178.27 L330.36,178.28 L330.86,178.29 L331.36,178.30 L331.85,178.30 L332.35,178.31 L332.85,178.32 L333.35,178.33 L333.85,178.33 L334.34,178.34 L334.84,178.34 L335.34,178.35 L335.84,178.35 L336.34,178.36 L336.84,178.36 L337.33,178.37 L337.83,178.37 L338.33,178.38 L338.83,178.38 L339.33,178.38 L339.82,178.39 L340.32,178.39 L340.82,178.39 L341.32,178.40 L341.82,178.40 L342.31,178.40 L342.81,178.41 L343.31,178.41 L343.81,178.41 L344.31,178.41 L344.80,178.41 L345.30,178.42 L345.80,178.42 L345.80,178.50 L269.10,178.50 Z" fill="#f0bb50" fill-opacity="0.85" stroke="#4a3a2a" stroke-width="0.5" stroke-linejoin="round"/>
<path d="M264.30,178.40 L264.80,178.40 L265.30,178.39 L265.79,178.39 L266.29,178.39 L266.79,178.38 L267.29,178.38 L267.79,178.37 L268.28,178.37 L268.78,178.36 L269.28,178.35 L269.78,178.35 L270.28,178.34 L270.78,178.33 L271.27,178.32 L271.77,178.30 L272.27,178.29 L272.77,178.27 L273.27,178.26 L273.76,178.23 L274.26,178.21 L274.76,178.18 L275.26,178.14 L275.76,178.11 L276.25,178.06 L276.75,178.01 L277.25,177.95 L277.75,177.88 L278.25,177.80 L278.74,177.72 L279.24,177.62 L279.74,177.50 L280.24,177.38 L280.74,177.24 L281.23,177.09 L281.73,176.92 L282.23,176.74 L282.73,176.54 L283.23,176.32 L283.73,176.09 L284.22,175.84 L284.72,175.58 L285.22,175.30 L285.72,175.02 L286.22,174.72 L286.71,174.42 L287.21,174.11 L287.71,173.79 L288.21,173.48 L288.71,173.17 L289.20,172.87 L289.70,172.59 L290.20,172.31 L290.70,172.06 L291.20,171.84 L291.69,171.64 L292.19,171.47 L292.69,171.35 L293.19,171.26 L293.69,171.21 L294.18,171.20 L294.68,171.24 L295.18,171.32 L295.68,171.44 L296.18,171.59 L296.68,171.78 L297.17,172.00 L297.67,172.25 L298.17,172.51 L298.67,172.80 L299.17,173.10 L299.66,173.40 L300.16,173.71 L300.66,174.03 L301.16,174.34 L301.66,174.64 L302.15,174.94 L302.65,175.23 L303.15,175.51 L303.65,175.77 L304.15,176.03 L304.64,176.26 L305.14,176.48 L305.64,176.69 L306.14,176.87 L306.64,177.05 L307.13,177.20 L307.63,177.35 L308.13,177.47 L308.63,177.59 L309.13,177.69 L309.62,177.78 L310.12,177.86 L310.62,177.93 L311.12,177.99 L311.62,178.05 L312.12,178.09 L312.61,178.14 L313.11,178.17 L313.61,178.20 L314.11,178.23 L314.61,178.25 L315.10,178.27 L315.60,178.29 L316.10,178.30 L316.60,178.31 L317.10,178.33 L317.59,178.34 L318.09,178.34 L318.59,178.35 L319.09,178.36 L319.59,178.37 L320.08,178.37 L320.58,178.38 L321.08,178.38 L321.58,178.39 L322.08,178.39 L322.57,178.39 L323.07,178.40 L323.57,178.40 L324.07,178.40 L324.57,178.41 L325.07,178.41 L325.56,178.41 L326.06,178.41 L326.56,178.42 L327.06,178.42 L327.56,178.42 L328.05,178.42 L328.55,178.43 L329.05,178.43 L329.55,178.43 L330.05,178.43 L330.54,178.43 L331.04,178.43 L331.54,178.44 L332.04,178.44 L332.54,178.44 L333.03,178.44 L333.53,178.44 L334.03,178.44 L334.53,178.45 L335.03,178.45 L335.52,178.45 L336.02,178.45 L336.52,178.45 L337.02,178.45 L337.52,178.45 L338.02,178.45 L338.51,178.45 L339.01,178.46 L339.51,178.46 L340.01,178.46 L340.51,178.46 L341.00,178.46 L341.50,178.46 L342.00,178.46 L342.00,178.50 L264.30,178.50 Z" fill="#f2c955" fill-opacity="0.85" stroke="#4a3a2a" stroke-width="0.5" stroke-linejoin="round"/>
<path d="M298.90,178.48 L299.39,178.48 L299.89,178.48 L300.38,178.48 L300.88,178.48 L301.37,178.48 L301.86,178.47 L302.36,178.47 L302.85,178.47 L303.35,178.47 L303.84,178.47 L304.34,178.47 L304.83,178.46 L305.32,178.46 L305.82,178.46 L306.31,178.46 L306.81,178.45 L307.30,178.45 L307.79,178.45 L308.29,178.44 L308.78,178.43 L309.28,178.43 L309.77,178.42 L310.26,178.40 L310.76,178.39 L311.25,178.36 L311.75,178.33 L312.24,178.28 L312.74,178.21 L313.23,178.12 L313.72,178.01 L314.22,177.86 L314.71,177.67 L315.21,177.45 L315.70,177.18 L316.19,176.88 L316.69,176.56 L317.18,176.22 L317.68,175.88 L318.17,175.57 L318.66,175.31 L319.16,175.12 L319.65,175.01 L320.15,175.01 L320.64,175.12 L321.14,175.31 L321.63,175.57 L322.12,175.88 L322.62,176.22 L323.11,176.56 L323.61,176.88 L324.10,177.18 L324.59,177.45 L325.09,177.67 L325.58,177.86 L326.08,178.01 L326.57,178.12 L327.06,178.21 L327.56,178.28 L328.05,178.33 L328.55,178.36 L329.04,178.39 L329.54,178.40 L330.03,178.42 L330.52,178.43 L331.02,178.43 L331.51,178.44 L332.01,178.45 L332.50,178.45 L332.99,178.45 L333.49,178.46 L333.98,178.46 L334.48,178.46 L334.97,178.46 L335.46,178.47 L335.96,178.47 L336.45,178.47 L336.95,178.47 L337.44,178.47 L337.94,178.47 L338.43,178.48 L338.92,178.48 L339.42,178.48 L339.91,178.48 L340.41,178.48 L340.90,178.48 L340.90,178.50 L298.90,178.50 Z" fill="#e0463c" fill-opacity="0.9" stroke="#4a3a2a" stroke-width="0.5" stroke-linejoin="round"/>
<path d="M308.30,178.47 L308.79,178.47 L309.29,178.47 L309.78,178.47 L310.27,178.47 L310.77,178.46 L311.26,178.46 L311.75,178.46 L312.25,178.46 L312.74,178.46 L313.23,178.45 L313.73,178.45 L314.22,178.45 L314.71,178.45 L315.21,178.44 L315.70,178.44 L316.19,178.44 L316.69,178.43 L317.18,178.43 L317.68,178.42 L318.17,178.42 L318.66,178.41 L319.16,178.41 L319.65,178.40 L320.14,178.39 L320.64,178.37 L321.13,178.36 L321.62,178.34 L322.12,178.31 L322.61,178.27 L323.10,178.22 L323.60,178.15 L324.09,178.06 L324.58,177.94 L325.08,177.80 L325.57,177.61 L326.06,177.38 L326.56,177.11 L327.05,176.79 L327.54,176.43 L328.04,176.03 L328.53,175.59 L329.02,175.14 L329.52,174.68 L330.01,174.24 L330.50,173.84 L331.00,173.51 L331.49,173.26 L331.98,173.13 L332.48,173.11 L332.97,173.21 L333.46,173.43 L333.96,173.74 L334.45,174.13 L334.94,174.56 L335.44,175.01 L335.93,175.47 L336.43,175.91 L336.92,176.32 L337.41,176.70 L337.91,177.03 L338.40,177.31 L338.89,177.55 L339.39,177.75 L339.88,177.91 L340.37,178.03 L340.87,178.13 L341.36,178.20 L341.85,178.26 L342.35,178.30 L342.84,178.33 L343.33,178.35 L343.83,178.37 L344.32,178.38 L344.81,178.39 L345.31,178.40 L345.80,178.41 L345.80,178.50 L308.30,178.50 Z" fill="#e0463c" fill-opacity="0.9" stroke="#4a3a2a" stroke-width="0.5" stroke-linejoin="round"/>
<line x1="264.30" y1="178.50" x2="345.80" y2="178.50" stroke="#3a3a3a" stroke-width="0.8"/>
<path d="M265.00,178.30 L265.31,178.23 L265.71,178.14 L266.19,178.03 L266.73,177.91 L267.30,177.77 L267.89,177.62 L268.46,177.47 L269.00,177.30 L269.52,177.12 L270.06,176.93 L270.59,176.72 L271.14,176.51 L271.68,176.28 L272.23,176.06 L272.77,175.83 L273.30,175.60 L273.83,175.37 L274.36,175.15 L274.89,174.92 L275.41,174.69 L275.94,174.45 L276.46,174.21 L276.98,173.96 L277.50,173.70 L278.02,173.44 L278.54,173.18 L279.05,172.92 L279.57,172.64 L280.08,172.36 L280.59,172.06 L281.10,171.74 L281.60,171.40 L282.10,171.03 L282.60,170.64 L283.10,170.22 L283.60,169.79 L284.09,169.35 L284.57,168.90 L285.04,168.45 L285.50,168.00 L285.95,167.55 L286.38,167.10 L286.81,166.64 L287.23,166.18 L287.63,165.71 L288.03,165.22 L288.42,164.72 L288.80,164.20 L289.17,163.66 L289.52,163.11 L289.87,162.55 L290.20,161.97 L290.53,161.38 L290.85,160.77 L291.18,160.14 L291.50,159.50 L291.81,158.88 L292.10,158.30 L292.38,157.73 L292.66,157.13 L292.95,156.47 L293.27,155.72 L293.61,154.84 L294.00,153.80 L294.44,152.58 L294.91,151.22 L295.42,149.73 L295.94,148.15 L296.48,146.50 L297.03,144.80 L297.57,143.10 L298.10,141.40 L298.62,139.67 L299.15,137.85 L299.67,135.98 L300.20,134.09 L300.73,132.20 L301.25,130.36 L301.78,128.58 L302.30,126.90 L302.83,125.28 L303.37,123.68 L303.92,122.12 L304.46,120.61 L304.99,119.17 L305.50,117.83 L305.97,116.60 L306.40,115.50 L306.78,114.55 L307.12,113.73 L307.43,113.03 L307.72,112.43 L307.99,111.89 L308.25,111.40 L308.52,110.95 L308.80,110.50 L309.08,110.07 L309.36,109.68 L309.64,109.33 L309.91,109.03 L310.18,108.77 L310.45,108.56 L310.72,108.40 L311.00,108.30 L311.28,108.26 L311.57,108.28 L311.85,108.35 L312.14,108.47 L312.43,108.63 L312.72,108.83 L313.01,109.05 L313.30,109.30 L313.59,109.51 L313.87,109.66 L314.14,109.81 L314.43,110.01 L314.72,110.31 L315.02,110.77 L315.35,111.45 L315.70,112.40 L316.09,113.67 L316.52,115.22 L316.97,117.00 L317.43,118.94 L317.90,120.96 L318.36,123.01 L318.79,125.01 L319.20,126.90 L319.57,128.70 L319.92,130.48 L320.25,132.25 L320.57,134.02 L320.89,135.81 L321.22,137.63 L321.55,139.49 L321.90,141.40 L322.26,143.43 L322.62,145.60 L322.98,147.84 L323.36,150.09 L323.74,152.29 L324.14,154.38 L324.56,156.31 L325.00,158.00 L325.47,159.46 L325.95,160.76 L326.45,161.90 L326.97,162.93 L327.50,163.86 L328.05,164.71 L328.62,165.52 L329.20,166.30 L329.80,167.01 L330.43,167.59 L331.08,168.10 L331.74,168.54 L332.41,168.97 L333.08,169.40 L333.75,169.86 L334.40,170.40 L335.04,171.01 L335.68,171.68 L336.32,172.38 L336.95,173.09 L337.58,173.78 L338.22,174.45 L338.86,175.06 L339.50,175.60 L340.18,176.08 L340.91,176.51 L341.67,176.91 L342.42,177.27 L343.13,177.60 L343.76,177.87 L344.30,178.11 L344.70,178.30" fill="none" stroke="#000" stroke-width="1.4" stroke-linejoin="round"/>
<circle cx="265.92" cy="177.58" r="1.1" fill="#fff" stroke="#444" stroke-width="0.45"/>
<circle cx="268.68" cy="177.04" r="1.1" fill="#fff" stroke="#444" stroke-width="0.45"/>
<circle cx="270.75" cy="176.47" r="1.1" fill="#fff" stroke="#444" stroke-width="0.45"/>
<circle cx="273.68" cy="176.13" r="1.1" fill="#fff" stroke="#444" stroke-width="0.45"/>
<circle cx="277.34" cy="174.75" r="1.1" fill="#fff" stroke="#444" stroke-width="0.45"/>
<circle cx="281.32" cy="172.55" r="1.1" fill="#fff" stroke="#444" stroke-width="0.45"/>
<circle cx="283.51" cy="170.70" r="1.1" fill="#fff" stroke="#444" stroke-width="0.45"/>
<circle cx="284.50" cy="169.08" r="1.1" fill="#fff" stroke="#444" stroke-width="0.45"/>
<circle cx="288.47" cy="166.30" r="1.1" fill="#fff" stroke="#444" stroke-width="0.45"/>
<circle cx="290.13" cy="162.72" r="1.1" fill="#fff" stroke="#444" stroke-width="0.45"/>
<circle cx="291.22" cy="160.01" r="1.1" fill="#fff" stroke="#444" stroke-width="0.45"/>
<circle cx="293.63" cy="157.11" r="1.1" fill="#fff" stroke="#444" stroke-width="0.45"/>
<circle cx="293.67" cy="153.38" r="1.1" fill="#fff" stroke="#444" stroke-width="0.45"/>
<circle cx="294.97" cy="148.28" r="1.1" fill="#fff" stroke="#444" stroke-width="0.45"/>
<circle cx="295.76" cy="146.68" r="1.1" fill="#fff" stroke="#444" stroke-width="0.45"/>
<circle cx="297.79" cy="142.32" r="1.1" fill="#fff" stroke="#444" stroke-width="0.45"/>
<circle cx="299.67" cy="138.54" r="1.1" fill="#fff" stroke="#444" stroke-width="0.45"/>
<circle cx="299.90" cy="135.35" r="1.1" fill="#fff" stroke="#444" stroke-width="0.45"/>
<circle cx="300.80" cy="132.13" r="1.1" fill="#fff" stroke="#444" stroke-width="0.45"/>
<circle cx="301.81" cy="127.84" r="1.1" fill="#fff" stroke="#444" stroke-width="0.45"/>
<circle cx="302.77" cy="124.48" r="1.1" fill="#fff" stroke="#444" stroke-width="0.45"/>
<circle cx="305.01" cy="122.37" r="1.1" fill="#fff" stroke="#444" stroke-width="0.45"/>
<circle cx="305.16" cy="117.38" r="1.1" fill="#fff" stroke="#444" stroke-width="0.45"/>
<circle cx="306.20" cy="114.47" r="1.1" fill="#fff" stroke="#444" stroke-width="0.45"/>
<circle cx="307.90" cy="111.15" r="1.1" fill="#fff" stroke="#444" stroke-width="0.45"/>
<circle cx="309.04" cy="109.04" r="1.1" fill="#fff" stroke="#444" stroke-width="0.45"/>
<circle cx="313.66" cy="108.75" r="1.1" fill="#fff" stroke="#444" stroke-width="0.45"/>
<circle cx="314.73" cy="112.03" r="1.1" fill="#fff" stroke="#444" stroke-width="0.45"/>
<circle cx="317.56" cy="115.96" r="1.1" fill="#fff" stroke="#444" stroke-width="0.45"/>
<circle cx="317.66" cy="119.99" r="1.1" fill="#fff" stroke="#444" stroke-width="0.45"/>
<circle cx="319.44" cy="123.96" r="1.1" fill="#fff" stroke="#444" stroke-width="0.45"/>
<circle cx="319.64" cy="127.12" r="1.1" fill="#fff" stroke="#444" stroke-width="0.45"/>
<circle cx="320.40" cy="130.67" r="1.1" fill="#fff" stroke="#444" stroke-width="0.45"/>
<circle cx="321.39" cy="132.66" r="1.1" fill="#fff" stroke="#444" stroke-width="0.45"/>
<circle cx="321.38" cy="136.73" r="1.1" fill="#fff" stroke="#444" stroke-width="0.45"/>
<circle cx="322.02" cy="139.85" r="1.1" fill="#fff" stroke="#444" stroke-width="0.45"/>
<circle cx="321.28" cy="144.00" r="1.1" fill="#fff" stroke="#444" stroke-width="0.45"/>
<circle cx="321.97" cy="145.71" r="1.1" fill="#fff" stroke="#444" stroke-width="0.45"/>
<circle cx="323.97" cy="148.71" r="1.1" fill="#fff" stroke="#444" stroke-width="0.45"/>
<circle cx="322.96" cy="152.39" r="1.1" fill="#fff" stroke="#444" stroke-width="0.45"/>
<circle cx="324.05" cy="155.90" r="1.1" fill="#fff" stroke="#444" stroke-width="0.45"/>
<circle cx="326.12" cy="158.49" r="1.1" fill="#fff" stroke="#444" stroke-width="0.45"/>
<circle cx="327.42" cy="161.52" r="1.1" fill="#fff" stroke="#444" stroke-width="0.45"/>
<circle cx="328.27" cy="164.81" r="1.1" fill="#fff" stroke="#444" stroke-width="0.45"/>
<circle cx="331.29" cy="167.85" r="1.1" fill="#fff" stroke="#444" stroke-width="0.45"/>
<circle cx="332.89" cy="169.17" r="1.1" fill="#fff" stroke="#444" stroke-width="0.45"/>
<circle cx="335.85" cy="170.83" r="1.1" fill="#fff" stroke="#444" stroke-width="0.45"/>
<circle cx="338.58" cy="173.63" r="1.1" fill="#fff" stroke="#444" stroke-width="0.45"/>
<circle cx="341.27" cy="175.68" r="1.1" fill="#fff" stroke="#444" stroke-width="0.45"/>
<circle cx="343.26" cy="178.60" r="1.1" fill="#fff" stroke="#444" stroke-width="0.45"/>
<path d="M284.90,268.43 L285.40,268.42 L285.89,268.41 L286.39,268.40 L286.88,268.39 L287.38,268.38 L287.87,268.37 L288.37,268.36 L288.87,268.34 L289.36,268.33 L289.86,268.31 L290.35,268.30 L290.85,268.28 L291.34,268.26 L291.84,268.24 L292.33,268.22 L292.83,268.20 L293.33,268.17 L293.82,268.15 L294.32,268.12 L294.81,268.09 L295.31,268.06 L295.80,268.02 L296.30,267.99 L296.80,267.94 L297.29,267.89 L297.79,267.84 L298.28,267.78 L298.78,267.70 L299.27,267.61 L299.77,267.50 L300.27,267.36 L300.76,267.18 L301.26,266.96 L301.75,266.68 L302.25,266.31 L302.74,265.85 L303.24,265.26 L303.73,264.53 L304.23,263.61 L304.73,262.49 L305.22,261.13 L305.72,259.50 L306.21,257.59 L306.71,255.38 L307.20,252.86 L307.70,250.05 L308.20,246.97 L308.69,243.67 L309.19,240.20 L309.68,236.66 L310.18,233.13 L310.67,229.74 L311.17,226.60 L311.67,223.86 L312.16,221.66 L312.66,220.10 L313.15,219.30 L313.65,219.30 L314.14,220.10 L314.64,221.66 L315.13,223.86 L315.63,226.60 L316.13,229.74 L316.62,233.13 L317.12,236.66 L317.61,240.20 L318.11,243.67 L318.60,246.97 L319.10,250.05 L319.60,252.86 L320.09,255.38 L320.59,257.59 L321.08,259.50 L321.58,261.13 L322.07,262.49 L322.57,263.61 L323.07,264.53 L323.56,265.26 L324.06,265.85 L324.55,266.31 L325.05,266.68 L325.54,266.96 L326.04,267.18 L326.53,267.36 L327.03,267.50 L327.53,267.61 L328.02,267.70 L328.52,267.78 L329.01,267.84 L329.51,267.89 L330.00,267.94 L330.50,267.99 L331.00,268.02 L331.49,268.06 L331.99,268.09 L332.48,268.12 L332.98,268.15 L333.47,268.17 L333.97,268.20 L334.47,268.22 L334.96,268.24 L335.46,268.26 L335.95,268.28 L336.45,268.30 L336.94,268.31 L337.44,268.33 L337.93,268.34 L338.43,268.36 L338.93,268.37 L339.42,268.38 L339.92,268.39 L340.41,268.40 L340.91,268.41 L341.40,268.42 L341.90,268.43 L341.90,268.70 L284.90,268.70 Z" fill="url(#g2)" fill-opacity="1" stroke="#4a3a2a" stroke-width="0.5" stroke-linejoin="round"/>
<path d="M274.70,268.56 L275.20,268.56 L275.69,268.55 L276.19,268.55 L276.68,268.54 L277.18,268.53 L277.68,268.53 L278.17,268.52 L278.67,268.51 L279.17,268.50 L279.66,268.49 L280.16,268.48 L280.65,268.47 L281.15,268.46 L281.65,268.45 L282.14,268.44 L282.64,268.42 L283.13,268.41 L283.63,268.39 L284.13,268.37 L284.62,268.35 L285.12,268.33 L285.62,268.31 L286.11,268.28 L286.61,268.24 L287.10,268.21 L287.60,268.16 L288.10,268.10 L288.59,268.02 L289.09,267.92 L289.58,267.79 L290.08,267.62 L290.58,267.40 L291.07,267.11 L291.57,266.74 L292.07,266.26 L292.56,265.66 L293.06,264.91 L293.55,264.00 L294.05,262.91 L294.55,261.63 L295.04,260.17 L295.54,258.53 L296.03,256.73 L296.53,254.81 L297.03,252.82 L297.52,250.83 L298.02,248.91 L298.52,247.15 L299.01,245.65 L299.51,244.49 L300.00,243.75 L300.50,243.50 L301.00,243.75 L301.49,244.49 L301.99,245.65 L302.48,247.15 L302.98,248.91 L303.48,250.83 L303.97,252.82 L304.47,254.81 L304.97,256.73 L305.46,258.53 L305.96,260.17 L306.45,261.63 L306.95,262.91 L307.45,264.00 L307.94,264.91 L308.44,265.66 L308.93,266.26 L309.43,266.74 L309.93,267.11 L310.42,267.40 L310.92,267.62 L311.42,267.79 L311.91,267.92 L312.41,268.02 L312.90,268.10 L313.40,268.16 L313.90,268.21 L314.39,268.24 L314.89,268.28 L315.38,268.31 L315.88,268.33 L316.38,268.35 L316.87,268.37 L317.37,268.39 L317.87,268.41 L318.36,268.42 L318.86,268.44 L319.35,268.45 L319.85,268.46 L320.35,268.47 L320.84,268.48 L321.34,268.49 L321.83,268.50 L322.33,268.51 L322.83,268.52 L323.32,268.53 L323.82,268.53 L324.32,268.54 L324.81,268.55 L325.31,268.55 L325.80,268.56 L326.30,268.56 L326.30,268.70 L274.70,268.70 Z" fill="#f3c0a0" fill-opacity="0.85" stroke="#4a3a2a" stroke-width="0.5" stroke-linejoin="round"/>
<path d="M278.70,268.60 L279.20,268.60 L279.69,268.60 L280.19,268.59 L280.68,268.59 L281.18,268.58 L281.68,268.58 L282.17,268.58 L282.67,268.57 L283.16,268.57 L283.66,268.56 L284.15,268.56 L284.65,268.55 L285.15,268.54 L285.64,268.54 L286.14,268.53 L286.63,268.52 L287.13,268.52 L287.63,268.51 L288.12,268.50 L288.62,268.49 L289.11,268.48 L289.61,268.47 L290.10,268.46 L290.60,268.44 L291.10,268.43 L291.59,268.41 L292.09,268.39 L292.58,268.37 L293.08,268.35 L293.58,268.32 L294.07,268.29 L294.57,268.24 L295.06,268.19 L295.56,268.12 L296.06,268.04 L296.55,267.94 L297.05,267.81 L297.54,267.64 L298.04,267.43 L298.53,267.18 L299.03,266.86 L299.53,266.48 L300.02,266.02 L300.52,265.47 L301.01,264.83 L301.51,264.09 L302.01,263.25 L302.50,262.32 L303.00,261.29 L303.49,260.18 L303.99,259.01 L304.49,257.80 L304.98,256.57 L305.48,255.36 L305.97,254.21 L306.47,253.15 L306.96,252.24 L307.46,251.51 L307.96,251.00 L308.45,250.73 L308.95,250.73 L309.44,251.00 L309.94,251.51 L310.44,252.24 L310.93,253.15 L311.43,254.21 L311.92,255.36 L312.42,256.57 L312.91,257.80 L313.41,259.01 L313.91,260.18 L314.40,261.29 L314.90,262.32 L315.39,263.25 L315.89,264.09 L316.39,264.83 L316.88,265.47 L317.38,266.02 L317.87,266.48 L318.37,266.86 L318.87,267.18 L319.36,267.43 L319.86,267.64 L320.35,267.81 L320.85,267.94 L321.34,268.04 L321.84,268.12 L322.34,268.19 L322.83,268.24 L323.33,268.29 L323.82,268.32 L324.32,268.35 L324.82,268.37 L325.31,268.39 L325.81,268.41 L326.30,268.43 L326.80,268.44 L327.30,268.46 L327.79,268.47 L328.29,268.48 L328.78,268.49 L329.28,268.50 L329.77,268.51 L330.27,268.52 L330.77,268.52 L331.26,268.53 L331.76,268.54 L332.25,268.54 L332.75,268.55 L333.25,268.56 L333.74,268.56 L334.24,268.57 L334.73,268.57 L335.23,268.58 L335.72,268.58 L336.22,268.58 L336.72,268.59 L337.21,268.59 L337.71,268.60 L338.20,268.60 L338.70,268.60 L338.70,268.70 L278.70,268.70 Z" fill="#f0bf4c" fill-opacity="0.85" stroke="#4a3a2a" stroke-width="0.5" stroke-linejoin="round"/>
<path d="M264.30,268.65 L264.80,268.65 L265.29,268.65 L265.79,268.65 L266.28,268.64 L266.78,268.64 L267.27,268.64 L267.77,268.64 L268.27,268.63 L268.76,268.63 L269.26,268.63 L269.75,268.63 L270.25,268.62 L270.74,268.62 L271.24,268.62 L271.74,268.61 L272.23,268.61 L272.73,268.60 L273.22,268.60 L273.72,268.59 L274.21,268.59 L274.71,268.58 L275.21,268.57 L275.70,268.57 L276.20,268.56 L276.69,268.55 L277.19,268.53 L277.68,268.52 L278.18,268.50 L278.68,268.48 L279.17,268.45 L279.67,268.41 L280.16,268.36 L280.66,268.31 L281.15,268.23 L281.65,268.14 L282.15,268.03 L282.64,267.89 L283.14,267.72 L283.63,267.52 L284.13,267.28 L284.62,267.00 L285.12,266.67 L285.62,266.30 L286.11,265.89 L286.61,265.44 L287.10,264.95 L287.60,264.44 L288.09,263.90 L288.59,263.37 L289.09,262.84 L289.58,262.33 L290.08,261.87 L290.57,261.47 L291.07,261.15 L291.56,260.93 L292.06,260.81 L292.56,260.82 L293.05,260.93 L293.55,261.16 L294.04,261.48 L294.54,261.88 L295.04,262.35 L295.53,262.85 L296.03,263.38 L296.52,263.92 L297.02,264.45 L297.51,264.97 L298.01,265.45 L298.51,265.90 L299.00,266.32 L299.50,266.68 L299.99,267.01 L300.49,267.29 L300.98,267.53 L301.48,267.73 L301.98,267.90 L302.47,268.03 L302.97,268.15 L303.46,268.24 L303.96,268.31 L304.45,268.37 L304.95,268.41 L305.45,268.45 L305.94,268.48 L306.44,268.50 L306.93,268.52 L307.43,268.53 L307.92,268.55 L308.42,268.56 L308.92,268.57 L309.41,268.57 L309.91,268.58 L310.40,268.59 L310.90,268.59 L311.39,268.60 L311.89,268.60 L312.39,268.61 L312.88,268.61 L313.38,268.62 L313.87,268.62 L314.37,268.62 L314.86,268.63 L315.36,268.63 L315.86,268.63 L316.35,268.63 L316.85,268.64 L317.34,268.64 L317.84,268.64 L318.33,268.64 L318.83,268.65 L319.33,268.65 L319.82,268.65 L320.32,268.65 L320.81,268.65 L321.31,268.65 L321.80,268.66 L322.30,268.66 L322.30,268.70 L264.30,268.70 Z" fill="#f3d052" fill-opacity="0.85" stroke="#4a3a2a" stroke-width="0.5" stroke-linejoin="round"/>
<path d="M293.90,268.65 L294.40,268.65 L294.90,268.65 L295.40,268.65 L295.90,268.65 L296.40,268.64 L296.89,268.64 L297.39,268.64 L297.89,268.64 L298.39,268.63 L298.89,268.63 L299.39,268.63 L299.89,268.62 L300.39,268.62 L300.89,268.62 L301.39,268.61 L301.88,268.61 L302.38,268.60 L302.88,268.60 L303.38,268.59 L303.88,268.59 L304.38,268.58 L304.88,268.57 L305.38,268.56 L305.88,268.56 L306.38,268.54 L306.88,268.53 L307.37,268.52 L307.87,268.50 L308.37,268.47 L308.87,268.44 L309.37,268.40 L309.87,268.35 L310.37,268.28 L310.87,268.19 L311.37,268.08 L311.87,267.94 L312.36,267.76 L312.86,267.54 L313.36,267.26 L313.86,266.94 L314.36,266.56 L314.86,266.11 L315.36,265.61 L315.86,265.06 L316.36,264.45 L316.86,263.82 L317.35,263.16 L317.85,262.51 L318.35,261.89 L318.85,261.32 L319.35,260.82 L319.85,260.44 L320.35,260.20 L320.85,260.10 L321.35,260.16 L321.85,260.38 L322.35,260.74 L322.84,261.21 L323.34,261.76 L323.84,262.38 L324.34,263.03 L324.84,263.68 L325.34,264.32 L325.84,264.93 L326.34,265.50 L326.84,266.01 L327.34,266.47 L327.83,266.86 L328.33,267.20 L328.83,267.48 L329.33,267.72 L329.83,267.90 L330.33,268.05 L330.83,268.17 L331.33,268.26 L331.83,268.34 L332.33,268.39 L332.82,268.43 L333.32,268.47 L333.82,268.49 L334.32,268.51 L334.82,268.53 L335.32,268.54 L335.82,268.55 L336.32,268.56 L336.82,268.57 L337.32,268.58 L337.82,268.59 L338.31,268.59 L338.81,268.60 L339.31,268.60 L339.81,268.61 L340.31,268.61 L340.81,268.62 L341.31,268.62 L341.81,268.62 L342.31,268.63 L342.81,268.63 L343.30,268.63 L343.80,268.64 L344.30,268.64 L344.80,268.64 L345.30,268.64 L345.80,268.65 L345.80,268.70 L293.90,268.70 Z" fill="#e0463c" fill-opacity="0.9" stroke="#4a3a2a" stroke-width="0.5" stroke-linejoin="round"/>
<path d="M303.70,268.62 L304.20,268.62 L304.69,268.62 L305.19,268.61 L305.68,268.61 L306.18,268.61 L306.67,268.60 L307.17,268.60 L307.66,268.59 L308.16,268.59 L308.65,268.59 L309.15,268.58 L309.64,268.58 L310.14,268.57 L310.63,268.57 L311.13,268.56 L311.62,268.55 L312.12,268.55 L312.62,268.54 L313.11,268.53 L313.61,268.52 L314.10,268.51 L314.60,268.50 L315.09,268.49 L315.59,268.48 L316.08,268.47 L316.58,268.45 L317.07,268.44 L317.57,268.42 L318.06,268.39 L318.56,268.36 L319.05,268.33 L319.55,268.29 L320.04,268.23 L320.54,268.16 L321.04,268.07 L321.53,267.96 L322.03,267.82 L322.52,267.64 L323.02,267.42 L323.51,267.14 L324.01,266.81 L324.50,266.41 L325.00,265.92 L325.49,265.36 L325.99,264.71 L326.48,263.98 L326.98,263.16 L327.47,262.27 L327.97,261.31 L328.46,260.31 L328.96,259.28 L329.46,258.25 L329.95,257.26 L330.45,256.33 L330.94,255.51 L331.44,254.84 L331.93,254.35 L332.43,254.07 L332.92,254.01 L333.42,254.18 L333.91,254.57 L334.41,255.15 L334.90,255.90 L335.40,256.78 L335.89,257.74 L336.39,258.76 L336.88,259.79 L337.38,260.81 L337.88,261.79 L338.37,262.72 L338.87,263.58 L339.36,264.35 L339.86,265.05 L340.35,265.65 L340.85,266.17 L341.34,266.61 L341.84,266.98 L342.33,267.29 L342.83,267.54 L343.32,267.74 L343.82,267.89 L344.31,268.02 L344.81,268.12 L345.30,268.20 L345.80,268.26 L345.80,268.70 L303.70,268.70 Z" fill="#e0463c" fill-opacity="0.9" stroke="#4a3a2a" stroke-width="0.5" stroke-linejoin="round"/>
<line x1="264.30" y1="268.70" x2="345.80" y2="268.70" stroke="#3a3a3a" stroke-width="0.8"/>
<path d="M265.00,268.40 L265.65,268.39 L266.53,268.38 L267.58,268.37 L268.74,268.36 L269.94,268.34 L271.13,268.31 L272.23,268.26 L273.20,268.20 L274.04,268.12 L274.83,268.03 L275.56,267.92 L276.27,267.81 L276.95,267.68 L277.63,267.53 L278.31,267.37 L279.00,267.20 L279.72,267.01 L280.44,266.80 L281.17,266.58 L281.89,266.35 L282.60,266.10 L283.27,265.85 L283.91,265.58 L284.50,265.30 L285.04,265.03 L285.52,264.76 L285.97,264.49 L286.39,264.21 L286.80,263.90 L287.19,263.56 L287.59,263.16 L288.00,262.70 L288.41,262.22 L288.82,261.76 L289.21,261.27 L289.61,260.73 L290.00,260.11 L290.39,259.36 L290.79,258.47 L291.20,257.40 L291.62,256.08 L292.04,254.52 L292.46,252.79 L292.89,250.95 L293.32,249.07 L293.75,247.23 L294.17,245.48 L294.60,243.90 L295.02,242.43 L295.43,240.98 L295.83,239.57 L296.24,238.22 L296.65,236.95 L297.08,235.77 L297.53,234.72 L298.00,233.80 L298.51,233.05 L299.05,232.48 L299.62,232.03 L300.20,231.67 L300.78,231.37 L301.35,231.09 L301.89,230.77 L302.40,230.40 L302.87,230.03 L303.32,229.73 L303.75,229.45 L304.16,229.17 L304.57,228.83 L304.97,228.40 L305.38,227.84 L305.80,227.10 L306.22,226.17 L306.64,225.09 L307.05,223.88 L307.46,222.57 L307.88,221.20 L308.31,219.80 L308.75,218.39 L309.20,217.00 L309.68,215.51 L310.20,213.83 L310.73,212.07 L311.27,210.31 L311.80,208.65 L312.31,207.20 L312.78,206.05 L313.20,205.30 L313.57,204.95 L313.90,204.92 L314.19,205.16 L314.46,205.61 L314.72,206.24 L314.97,207.00 L315.23,207.83 L315.50,208.70 L315.77,209.58 L316.03,210.49 L316.29,211.49 L316.54,212.62 L316.81,213.91 L317.08,215.41 L317.38,217.16 L317.70,219.20 L318.05,221.68 L318.41,224.64 L318.79,227.91 L319.19,231.36 L319.60,234.83 L320.02,238.18 L320.45,241.25 L320.90,243.90 L321.37,246.21 L321.87,248.35 L322.40,250.33 L322.93,252.12 L323.46,253.74 L323.97,255.16 L324.46,256.38 L324.90,257.40 L325.30,258.17 L325.67,258.67 L326.02,258.96 L326.35,259.06 L326.67,259.03 L326.98,258.90 L327.29,258.71 L327.60,258.50 L327.92,258.22 L328.23,257.80 L328.54,257.27 L328.84,256.67 L329.14,256.03 L329.43,255.38 L329.72,254.76 L330.00,254.20 L330.27,253.64 L330.54,253.03 L330.80,252.39 L331.05,251.77 L331.30,251.21 L331.56,250.74 L331.83,250.39 L332.10,250.20 L332.38,250.17 L332.67,250.26 L332.96,250.46 L333.26,250.76 L333.56,251.15 L333.86,251.61 L334.18,252.13 L334.50,252.70 L334.82,253.35 L335.13,254.11 L335.45,254.96 L335.77,255.87 L336.11,256.82 L336.47,257.79 L336.87,258.76 L337.30,259.70 L337.79,260.68 L338.32,261.75 L338.90,262.87 L339.49,263.97 L340.10,265.04 L340.69,266.01 L341.26,266.84 L341.80,267.50 L342.33,267.96 L342.87,268.25 L343.41,268.42 L343.93,268.49 L344.42,268.50 L344.85,268.48 L345.22,268.47 L345.50,268.50" fill="none" stroke="#000" stroke-width="1.4" stroke-linejoin="round"/>
<circle cx="265.85" cy="269.30" r="1.1" fill="#fff" stroke="#444" stroke-width="0.45"/>
<circle cx="268.25" cy="268.54" r="1.1" fill="#fff" stroke="#444" stroke-width="0.45"/>
<circle cx="272.51" cy="267.51" r="1.1" fill="#fff" stroke="#444" stroke-width="0.45"/>
<circle cx="275.34" cy="267.38" r="1.1" fill="#fff" stroke="#444" stroke-width="0.45"/>
<circle cx="277.84" cy="266.42" r="1.1" fill="#fff" stroke="#444" stroke-width="0.45"/>
<circle cx="282.28" cy="266.18" r="1.1" fill="#fff" stroke="#444" stroke-width="0.45"/>
<circle cx="285.63" cy="263.65" r="1.1" fill="#fff" stroke="#444" stroke-width="0.45"/>
<circle cx="288.92" cy="262.16" r="1.1" fill="#fff" stroke="#444" stroke-width="0.45"/>
<circle cx="291.61" cy="258.47" r="1.1" fill="#fff" stroke="#444" stroke-width="0.45"/>
<circle cx="291.63" cy="255.21" r="1.1" fill="#fff" stroke="#444" stroke-width="0.45"/>
<circle cx="292.40" cy="250.61" r="1.1" fill="#fff" stroke="#444" stroke-width="0.45"/>
<circle cx="293.98" cy="248.26" r="1.1" fill="#fff" stroke="#444" stroke-width="0.45"/>
<circle cx="294.65" cy="244.14" r="1.1" fill="#fff" stroke="#444" stroke-width="0.45"/>
<circle cx="294.82" cy="242.53" r="1.1" fill="#fff" stroke="#444" stroke-width="0.45"/>
<circle cx="295.23" cy="238.19" r="1.1" fill="#fff" stroke="#444" stroke-width="0.45"/>
<circle cx="296.42" cy="236.50" r="1.1" fill="#fff" stroke="#444" stroke-width="0.45"/>
<circle cx="298.36" cy="232.59" r="1.1" fill="#fff" stroke="#444" stroke-width="0.45"/>
<circle cx="300.92" cy="231.66" r="1.1" fill="#fff" stroke="#444" stroke-width="0.45"/>
<circle cx="303.76" cy="228.32" r="1.1" fill="#fff" stroke="#444" stroke-width="0.45"/>
<circle cx="306.76" cy="226.51" r="1.1" fill="#fff" stroke="#444" stroke-width="0.45"/>
<circle cx="307.44" cy="223.78" r="1.1" fill="#fff" stroke="#444" stroke-width="0.45"/>
<circle cx="309.30" cy="218.80" r="1.1" fill="#fff" stroke="#444" stroke-width="0.45"/>
<circle cx="308.81" cy="215.29" r="1.1" fill="#fff" stroke="#444" stroke-width="0.45"/>
<circle cx="311.12" cy="213.20" r="1.1" fill="#fff" stroke="#444" stroke-width="0.45"/>
<circle cx="312.36" cy="209.70" r="1.1" fill="#fff" stroke="#444" stroke-width="0.45"/>
<circle cx="314.05" cy="206.02" r="1.1" fill="#fff" stroke="#444" stroke-width="0.45"/>
<circle cx="315.85" cy="206.54" r="1.1" fill="#fff" stroke="#444" stroke-width="0.45"/>
<circle cx="314.95" cy="209.59" r="1.1" fill="#fff" stroke="#444" stroke-width="0.45"/>
<circle cx="317.40" cy="213.49" r="1.1" fill="#fff" stroke="#444" stroke-width="0.45"/>
<circle cx="316.32" cy="215.64" r="1.1" fill="#fff" stroke="#444" stroke-width="0.45"/>
<circle cx="317.68" cy="219.15" r="1.1" fill="#fff" stroke="#444" stroke-width="0.45"/>
<circle cx="317.88" cy="222.40" r="1.1" fill="#fff" stroke="#444" stroke-width="0.45"/>
<circle cx="318.14" cy="225.76" r="1.1" fill="#fff" stroke="#444" stroke-width="0.45"/>
<circle cx="319.70" cy="229.29" r="1.1" fill="#fff" stroke="#444" stroke-width="0.45"/>
<circle cx="319.68" cy="232.90" r="1.1" fill="#fff" stroke="#444" stroke-width="0.45"/>
<circle cx="319.21" cy="235.51" r="1.1" fill="#fff" stroke="#444" stroke-width="0.45"/>
<circle cx="320.71" cy="239.35" r="1.1" fill="#fff" stroke="#444" stroke-width="0.45"/>
<circle cx="321.36" cy="241.97" r="1.1" fill="#fff" stroke="#444" stroke-width="0.45"/>
<circle cx="321.07" cy="246.49" r="1.1" fill="#fff" stroke="#444" stroke-width="0.45"/>
<circle cx="321.87" cy="251.15" r="1.1" fill="#fff" stroke="#444" stroke-width="0.45"/>
<circle cx="323.33" cy="253.05" r="1.1" fill="#fff" stroke="#444" stroke-width="0.45"/>
<circle cx="324.37" cy="255.80" r="1.1" fill="#fff" stroke="#444" stroke-width="0.45"/>
<circle cx="326.30" cy="257.84" r="1.1" fill="#fff" stroke="#444" stroke-width="0.45"/>
<circle cx="329.00" cy="256.73" r="1.1" fill="#fff" stroke="#444" stroke-width="0.45"/>
<circle cx="329.60" cy="254.17" r="1.1" fill="#fff" stroke="#444" stroke-width="0.45"/>
<circle cx="331.28" cy="250.91" r="1.1" fill="#fff" stroke="#444" stroke-width="0.45"/>
<circle cx="333.86" cy="250.99" r="1.1" fill="#fff" stroke="#444" stroke-width="0.45"/>
<circle cx="335.30" cy="254.47" r="1.1" fill="#fff" stroke="#444" stroke-width="0.45"/>
<circle cx="336.02" cy="258.47" r="1.1" fill="#fff" stroke="#444" stroke-width="0.45"/>
<circle cx="338.34" cy="261.00" r="1.1" fill="#fff" stroke="#444" stroke-width="0.45"/>
<circle cx="339.72" cy="263.72" r="1.1" fill="#fff" stroke="#444" stroke-width="0.45"/>
<circle cx="340.61" cy="266.14" r="1.1" fill="#fff" stroke="#444" stroke-width="0.45"/>
<circle cx="343.13" cy="269.35" r="1.1" fill="#fff" stroke="#444" stroke-width="0.45"/>
<path d="M288.30,358.60 L288.80,358.59 L289.30,358.58 L289.79,358.57 L290.29,358.56 L290.79,358.55 L291.29,358.54 L291.79,358.53 L292.28,358.52 L292.78,358.51 L293.28,358.49 L293.78,358.48 L294.28,358.46 L294.77,358.44 L295.27,358.42 L295.77,358.40 L296.27,358.38 L296.77,358.35 L297.26,358.33 L297.76,358.30 L298.26,358.26 L298.76,358.23 L299.26,358.18 L299.75,358.13 L300.25,358.07 L300.75,358.00 L301.25,357.91 L301.75,357.79 L302.24,357.63 L302.74,357.43 L303.24,357.15 L303.74,356.79 L304.24,356.32 L304.73,355.70 L305.23,354.91 L305.73,353.91 L306.23,352.66 L306.73,351.15 L307.22,349.33 L307.72,347.22 L308.22,344.82 L308.72,342.15 L309.22,339.27 L309.71,336.25 L310.21,333.19 L310.71,330.22 L311.21,327.47 L311.71,325.10 L312.20,323.27 L312.70,322.10 L313.20,321.70 L313.70,322.10 L314.20,323.27 L314.69,325.10 L315.19,327.47 L315.69,330.22 L316.19,333.19 L316.69,336.25 L317.18,339.27 L317.68,342.15 L318.18,344.82 L318.68,347.22 L319.18,349.33 L319.67,351.15 L320.17,352.66 L320.67,353.91 L321.17,354.91 L321.67,355.70 L322.16,356.32 L322.66,356.79 L323.16,357.15 L323.66,357.43 L324.16,357.63 L324.65,357.79 L325.15,357.91 L325.65,358.00 L326.15,358.07 L326.65,358.13 L327.14,358.18 L327.64,358.23 L328.14,358.26 L328.64,358.30 L329.14,358.33 L329.63,358.35 L330.13,358.38 L330.63,358.40 L331.13,358.42 L331.63,358.44 L332.12,358.46 L332.62,358.48 L333.12,358.49 L333.62,358.51 L334.12,358.52 L334.61,358.53 L335.11,358.54 L335.61,358.55 L336.11,358.56 L336.61,358.57 L337.10,358.58 L337.60,358.59 L338.10,358.60 L338.10,358.80 L288.30,358.80 Z" fill="url(#g3)" fill-opacity="1" stroke="#4a3a2a" stroke-width="0.5" stroke-linejoin="round"/>
<path d="M278.70,358.69 L279.20,358.68 L279.69,358.68 L280.19,358.68 L280.68,358.67 L281.18,358.67 L281.68,358.66 L282.17,358.66 L282.67,358.65 L283.16,358.65 L283.66,358.64 L284.15,358.63 L284.65,358.63 L285.15,358.62 L285.64,358.61 L286.14,358.60 L286.63,358.60 L287.13,358.59 L287.63,358.58 L288.12,358.57 L288.62,358.56 L289.11,358.54 L289.61,358.53 L290.10,358.52 L290.60,358.50 L291.10,358.48 L291.59,358.47 L292.09,358.44 L292.58,358.42 L293.08,358.39 L293.58,358.36 L294.07,358.32 L294.57,358.27 L295.06,358.21 L295.56,358.13 L296.06,358.04 L296.55,357.92 L297.05,357.76 L297.54,357.57 L298.04,357.33 L298.53,357.03 L299.03,356.67 L299.53,356.22 L300.02,355.69 L300.52,355.05 L301.01,354.31 L301.51,353.45 L302.01,352.48 L302.50,351.39 L303.00,350.20 L303.49,348.91 L303.99,347.55 L304.49,346.14 L304.98,344.71 L305.48,343.31 L305.97,341.97 L306.47,340.75 L306.96,339.69 L307.46,338.84 L307.96,338.25 L308.45,337.94 L308.95,337.94 L309.44,338.25 L309.94,338.84 L310.44,339.69 L310.93,340.75 L311.43,341.97 L311.92,343.31 L312.42,344.71 L312.91,346.14 L313.41,347.55 L313.91,348.91 L314.40,350.20 L314.90,351.39 L315.39,352.48 L315.89,353.45 L316.39,354.31 L316.88,355.05 L317.38,355.69 L317.87,356.22 L318.37,356.67 L318.87,357.03 L319.36,357.33 L319.86,357.57 L320.35,357.76 L320.85,357.92 L321.34,358.04 L321.84,358.13 L322.34,358.21 L322.83,358.27 L323.33,358.32 L323.82,358.36 L324.32,358.39 L324.82,358.42 L325.31,358.44 L325.81,358.47 L326.30,358.48 L326.80,358.50 L327.30,358.52 L327.79,358.53 L328.29,358.54 L328.78,358.56 L329.28,358.57 L329.77,358.58 L330.27,358.59 L330.77,358.60 L331.26,358.60 L331.76,358.61 L332.25,358.62 L332.75,358.63 L333.25,358.63 L333.74,358.64 L334.24,358.65 L334.73,358.65 L335.23,358.66 L335.72,358.66 L336.22,358.67 L336.72,358.67 L337.21,358.68 L337.71,358.68 L338.20,358.68 L338.70,358.69 L338.70,358.80 L278.70,358.80 Z" fill="#efde45" fill-opacity="0.85" stroke="#4a3a2a" stroke-width="0.5" stroke-linejoin="round"/>
<path d="M264.30,358.66 L264.80,358.65 L265.30,358.65 L265.80,358.64 L266.30,358.64 L266.80,358.63 L267.30,358.63 L267.80,358.62 L268.29,358.62 L268.79,358.61 L269.29,358.60 L269.79,358.59 L270.29,358.59 L270.79,358.58 L271.29,358.57 L271.79,358.56 L272.29,358.55 L272.79,358.54 L273.29,358.52 L273.79,358.51 L274.29,358.49 L274.79,358.47 L275.29,358.45 L275.78,358.43 L276.28,358.40 L276.78,358.36 L277.28,358.32 L277.78,358.27 L278.28,358.22 L278.78,358.15 L279.28,358.07 L279.78,357.98 L280.28,357.87 L280.78,357.74 L281.28,357.60 L281.78,357.42 L282.28,357.22 L282.77,356.99 L283.27,356.73 L283.77,356.43 L284.27,356.09 L284.77,355.71 L285.27,355.29 L285.77,354.83 L286.27,354.32 L286.77,353.77 L287.27,353.19 L287.77,352.56 L288.27,351.90 L288.77,351.21 L289.27,350.49 L289.77,349.76 L290.26,349.03 L290.76,348.29 L291.26,347.58 L291.76,346.88 L292.26,346.23 L292.76,345.63 L293.26,345.09 L293.76,344.64 L294.26,344.27 L294.76,344.00 L295.26,343.85 L295.76,343.80 L296.26,343.87 L296.76,344.05 L297.26,344.34 L297.75,344.73 L298.25,345.21 L298.75,345.76 L299.25,346.38 L299.75,347.04 L300.25,347.74 L300.75,348.46 L301.25,349.20 L301.75,349.93 L302.25,350.66 L302.75,351.37 L303.25,352.05 L303.75,352.71 L304.25,353.32 L304.74,353.90 L305.24,354.44 L305.74,354.94 L306.24,355.39 L306.74,355.80 L307.24,356.17 L307.74,356.50 L308.24,356.79 L308.74,357.05 L309.24,357.27 L309.74,357.46 L310.24,357.63 L310.74,357.78 L311.24,357.90 L311.74,358.00 L312.23,358.09 L312.73,358.17 L313.23,358.23 L313.73,358.29 L314.23,358.33 L314.73,358.37 L315.23,358.40 L315.73,358.43 L316.23,358.46 L316.73,358.48 L317.23,358.50 L317.73,358.51 L318.23,358.53 L318.73,358.54 L319.23,358.55 L319.72,358.56 L320.22,358.57 L320.72,358.58 L321.22,358.59 L321.72,358.60 L322.22,358.60 L322.72,358.61 L323.22,358.62 L323.72,358.62 L324.22,358.63 L324.72,358.63 L325.22,358.64 L325.72,358.65 L326.22,358.65 L326.71,358.65 L327.21,358.66 L327.71,358.66 L328.21,358.67 L328.71,358.67 L329.21,358.67 L329.71,358.68 L330.21,358.68 L330.71,358.68 L331.21,358.69 L331.71,358.69 L332.21,358.69 L332.71,358.70 L333.21,358.70 L333.71,358.70 L334.20,358.70 L334.70,358.71 L335.20,358.71 L335.70,358.71 L336.20,358.71 L336.70,358.72 L337.20,358.72 L337.70,358.72 L337.70,358.80 L264.30,358.80 Z" fill="#f0e35a" fill-opacity="0.85" stroke="#4a3a2a" stroke-width="0.5" stroke-linejoin="round"/>
<path d="M296.90,358.76 L297.39,358.76 L297.89,358.76 L298.38,358.75 L298.88,358.75 L299.37,358.75 L299.87,358.75 L300.36,358.75 L300.86,358.74 L301.35,358.74 L301.85,358.74 L302.34,358.73 L302.84,358.73 L303.33,358.73 L303.83,358.72 L304.32,358.72 L304.82,358.71 L305.31,358.71 L305.81,358.70 L306.30,358.70 L306.80,358.69 L307.29,358.68 L307.79,358.67 L308.28,358.66 L308.78,358.64 L309.27,358.63 L309.77,358.60 L310.26,358.57 L310.76,358.53 L311.25,358.48 L311.75,358.41 L312.24,358.31 L312.74,358.18 L313.23,358.02 L313.72,357.81 L314.22,357.55 L314.71,357.24 L315.21,356.86 L315.70,356.41 L316.20,355.91 L316.69,355.35 L317.19,354.75 L317.68,354.12 L318.18,353.49 L318.67,352.89 L319.17,352.36 L319.66,351.91 L320.16,351.59 L320.65,351.42 L321.15,351.42 L321.64,351.59 L322.14,351.91 L322.63,352.36 L323.13,352.89 L323.62,353.49 L324.12,354.12 L324.61,354.75 L325.11,355.35 L325.60,355.91 L326.10,356.41 L326.59,356.86 L327.09,357.24 L327.58,357.55 L328.08,357.81 L328.57,358.02 L329.06,358.18 L329.56,358.31 L330.05,358.41 L330.55,358.48 L331.04,358.53 L331.54,358.57 L332.03,358.60 L332.53,358.63 L333.02,358.64 L333.52,358.66 L334.01,358.67 L334.51,358.68 L335.00,358.69 L335.50,358.70 L335.99,358.70 L336.49,358.71 L336.98,358.71 L337.48,358.72 L337.97,358.72 L338.47,358.73 L338.96,358.73 L339.46,358.73 L339.95,358.74 L340.45,358.74 L340.94,358.74 L341.44,358.75 L341.93,358.75 L342.43,358.75 L342.92,358.75 L343.42,358.75 L343.91,358.76 L344.41,358.76 L344.90,358.76 L344.90,358.80 L296.90,358.80 Z" fill="#e0463c" fill-opacity="0.9" stroke="#4a3a2a" stroke-width="0.5" stroke-linejoin="round"/>
<path d="M303.70,358.71 L304.20,358.71 L304.69,358.70 L305.19,358.70 L305.68,358.70 L306.18,358.69 L306.67,358.69 L307.17,358.68 L307.66,358.68 L308.16,358.67 L308.65,358.67 L309.15,358.66 L309.64,358.66 L310.14,358.65 L310.63,358.65 L311.13,358.64 L311.62,358.63 L312.12,358.62 L312.62,358.62 L313.11,358.61 L313.61,358.60 L314.10,358.59 L314.60,358.58 L315.09,358.56 L315.59,358.55 L316.08,358.53 L316.58,358.52 L317.07,358.50 L317.57,358.47 L318.06,358.45 L318.56,358.41 L319.05,358.37 L319.55,358.32 L320.04,358.26 L320.54,358.18 L321.04,358.08 L321.53,357.95 L322.03,357.79 L322.52,357.58 L323.02,357.33 L323.51,357.01 L324.01,356.63 L324.50,356.16 L325.00,355.61 L325.49,354.96 L325.99,354.22 L326.48,353.37 L326.98,352.43 L327.47,351.41 L327.97,350.31 L328.46,349.15 L328.96,347.97 L329.46,346.79 L329.95,345.64 L330.45,344.58 L330.94,343.64 L331.44,342.87 L331.93,342.30 L332.43,341.98 L332.92,341.91 L333.42,342.11 L333.91,342.55 L334.41,343.23 L334.90,344.09 L335.40,345.09 L335.89,346.20 L336.39,347.37 L336.88,348.55 L337.38,349.73 L337.88,350.86 L338.37,351.92 L338.87,352.91 L339.36,353.80 L339.86,354.60 L340.35,355.29 L340.85,355.89 L341.34,356.40 L341.84,356.83 L342.33,357.18 L342.83,357.46 L343.32,357.69 L343.82,357.87 L344.31,358.02 L344.81,358.13 L345.30,358.22 L345.80,358.29 L345.80,358.80 L303.70,358.80 Z" fill="#e0463c" fill-opacity="0.9" stroke="#4a3a2a" stroke-width="0.5" stroke-linejoin="round"/>
<line x1="264.30" y1="358.80" x2="345.80" y2="358.80" stroke="#3a3a3a" stroke-width="0.8"/>
<path d="M265.00,358.50 L265.28,358.45 L265.65,358.41 L266.09,358.35 L266.58,358.28 L267.11,358.19 L267.65,358.07 L268.18,357.91 L268.70,357.70 L269.21,357.44 L269.72,357.15 L270.25,356.81 L270.79,356.44 L271.33,356.05 L271.88,355.64 L272.44,355.22 L273.00,354.80 L273.55,354.38 L274.10,353.96 L274.64,353.53 L275.19,353.09 L275.77,352.61 L276.37,352.10 L277.01,351.53 L277.70,350.90 L278.45,350.22 L279.25,349.50 L280.10,348.74 L280.98,347.94 L281.87,347.08 L282.76,346.18 L283.64,345.22 L284.50,344.20 L285.34,343.11 L286.18,341.94 L287.02,340.71 L287.85,339.44 L288.68,338.12 L289.52,336.79 L290.36,335.44 L291.20,334.10 L292.06,332.71 L292.95,331.25 L293.85,329.75 L294.74,328.24 L295.62,326.75 L296.47,325.33 L297.26,324.00 L298.00,322.80 L298.67,321.73 L299.29,320.75 L299.87,319.85 L300.41,319.03 L300.93,318.25 L301.43,317.51 L301.91,316.80 L302.40,316.10 L302.87,315.46 L303.32,314.93 L303.75,314.45 L304.16,313.99 L304.57,313.52 L304.97,312.99 L305.38,312.36 L305.80,311.60 L306.23,310.65 L306.65,309.54 L307.07,308.33 L307.50,307.06 L307.93,305.79 L308.35,304.59 L308.78,303.51 L309.20,302.60 L309.63,301.83 L310.05,301.13 L310.48,300.51 L310.91,299.97 L311.33,299.52 L311.76,299.17 L312.18,298.93 L312.60,298.80 L313.02,298.72 L313.43,298.66 L313.84,298.67 L314.25,298.79 L314.66,299.09 L315.07,299.60 L315.48,300.39 L315.90,301.50 L316.32,302.99 L316.74,304.85 L317.17,306.99 L317.59,309.35 L318.02,311.84 L318.45,314.40 L318.87,316.94 L319.30,319.40 L319.73,321.93 L320.18,324.68 L320.63,327.53 L321.07,330.39 L321.51,333.14 L321.93,335.68 L322.33,337.90 L322.70,339.70 L323.03,341.07 L323.31,342.10 L323.57,342.85 L323.82,343.37 L324.06,343.71 L324.31,343.93 L324.59,344.08 L324.90,344.20 L325.23,344.24 L325.57,344.12 L325.92,343.87 L326.29,343.53 L326.67,343.11 L327.08,342.67 L327.53,342.22 L328.00,341.80 L328.54,341.34 L329.14,340.77 L329.79,340.15 L330.46,339.52 L331.12,338.93 L331.74,338.43 L332.31,338.07 L332.80,337.90 L333.20,337.92 L333.53,338.08 L333.81,338.37 L334.06,338.76 L334.28,339.22 L334.50,339.73 L334.74,340.26 L335.00,340.80 L335.27,341.35 L335.52,341.93 L335.76,342.55 L336.01,343.22 L336.27,343.93 L336.57,344.70 L336.91,345.52 L337.30,346.40 L337.76,347.40 L338.29,348.55 L338.86,349.79 L339.46,351.07 L340.07,352.32 L340.68,353.50 L341.26,354.54 L341.80,355.40 L342.33,356.07 L342.87,356.62 L343.41,357.06 L343.93,357.41 L344.42,357.69 L344.85,357.92 L345.22,358.12 L345.50,358.30" fill="none" stroke="#000" stroke-width="1.4" stroke-linejoin="round"/>
<circle cx="265.42" cy="359.18" r="1.1" fill="#fff" stroke="#444" stroke-width="0.45"/>
<circle cx="268.95" cy="357.36" r="1.1" fill="#fff" stroke="#444" stroke-width="0.45"/>
<circle cx="270.38" cy="356.66" r="1.1" fill="#fff" stroke="#444" stroke-width="0.45"/>
<circle cx="273.97" cy="354.82" r="1.1" fill="#fff" stroke="#444" stroke-width="0.45"/>
<circle cx="276.46" cy="352.65" r="1.1" fill="#fff" stroke="#444" stroke-width="0.45"/>
<circle cx="278.95" cy="349.12" r="1.1" fill="#fff" stroke="#444" stroke-width="0.45"/>
<circle cx="283.22" cy="346.08" r="1.1" fill="#fff" stroke="#444" stroke-width="0.45"/>
<circle cx="285.73" cy="342.95" r="1.1" fill="#fff" stroke="#444" stroke-width="0.45"/>
<circle cx="287.76" cy="339.94" r="1.1" fill="#fff" stroke="#444" stroke-width="0.45"/>
<circle cx="288.43" cy="338.00" r="1.1" fill="#fff" stroke="#444" stroke-width="0.45"/>
<circle cx="291.34" cy="335.98" r="1.1" fill="#fff" stroke="#444" stroke-width="0.45"/>
<circle cx="293.04" cy="331.55" r="1.1" fill="#fff" stroke="#444" stroke-width="0.45"/>
<circle cx="294.06" cy="330.55" r="1.1" fill="#fff" stroke="#444" stroke-width="0.45"/>
<circle cx="296.74" cy="327.25" r="1.1" fill="#fff" stroke="#444" stroke-width="0.45"/>
<circle cx="297.84" cy="324.70" r="1.1" fill="#fff" stroke="#444" stroke-width="0.45"/>
<circle cx="298.86" cy="320.72" r="1.1" fill="#fff" stroke="#444" stroke-width="0.45"/>
<circle cx="300.42" cy="319.29" r="1.1" fill="#fff" stroke="#444" stroke-width="0.45"/>
<circle cx="302.12" cy="315.50" r="1.1" fill="#fff" stroke="#444" stroke-width="0.45"/>
<circle cx="306.02" cy="312.23" r="1.1" fill="#fff" stroke="#444" stroke-width="0.45"/>
<circle cx="306.98" cy="308.86" r="1.1" fill="#fff" stroke="#444" stroke-width="0.45"/>
<circle cx="308.21" cy="305.61" r="1.1" fill="#fff" stroke="#444" stroke-width="0.45"/>
<circle cx="309.23" cy="302.14" r="1.1" fill="#fff" stroke="#444" stroke-width="0.45"/>
<circle cx="311.38" cy="298.47" r="1.1" fill="#fff" stroke="#444" stroke-width="0.45"/>
<circle cx="314.92" cy="300.33" r="1.1" fill="#fff" stroke="#444" stroke-width="0.45"/>
<circle cx="315.91" cy="301.57" r="1.1" fill="#fff" stroke="#444" stroke-width="0.45"/>
<circle cx="316.55" cy="305.68" r="1.1" fill="#fff" stroke="#444" stroke-width="0.45"/>
<circle cx="316.71" cy="310.58" r="1.1" fill="#fff" stroke="#444" stroke-width="0.45"/>
<circle cx="318.90" cy="313.44" r="1.1" fill="#fff" stroke="#444" stroke-width="0.45"/>
<circle cx="318.69" cy="316.71" r="1.1" fill="#fff" stroke="#444" stroke-width="0.45"/>
<circle cx="319.00" cy="319.51" r="1.1" fill="#fff" stroke="#444" stroke-width="0.45"/>
<circle cx="320.74" cy="323.71" r="1.1" fill="#fff" stroke="#444" stroke-width="0.45"/>
<circle cx="319.54" cy="326.30" r="1.1" fill="#fff" stroke="#444" stroke-width="0.45"/>
<circle cx="321.44" cy="330.12" r="1.1" fill="#fff" stroke="#444" stroke-width="0.45"/>
<circle cx="322.45" cy="333.46" r="1.1" fill="#fff" stroke="#444" stroke-width="0.45"/>
<circle cx="322.72" cy="336.81" r="1.1" fill="#fff" stroke="#444" stroke-width="0.45"/>
<circle cx="322.79" cy="339.96" r="1.1" fill="#fff" stroke="#444" stroke-width="0.45"/>
<circle cx="323.52" cy="344.54" r="1.1" fill="#fff" stroke="#444" stroke-width="0.45"/>
<circle cx="327.60" cy="343.00" r="1.1" fill="#fff" stroke="#444" stroke-width="0.45"/>
<circle cx="329.68" cy="339.50" r="1.1" fill="#fff" stroke="#444" stroke-width="0.45"/>
<circle cx="332.55" cy="337.44" r="1.1" fill="#fff" stroke="#444" stroke-width="0.45"/>
<circle cx="334.80" cy="340.54" r="1.1" fill="#fff" stroke="#444" stroke-width="0.45"/>
<circle cx="336.63" cy="343.28" r="1.1" fill="#fff" stroke="#444" stroke-width="0.45"/>
<circle cx="336.22" cy="344.66" r="1.1" fill="#fff" stroke="#444" stroke-width="0.45"/>
<circle cx="337.45" cy="349.16" r="1.1" fill="#fff" stroke="#444" stroke-width="0.45"/>
<circle cx="340.18" cy="351.22" r="1.1" fill="#fff" stroke="#444" stroke-width="0.45"/>
<circle cx="341.44" cy="355.28" r="1.1" fill="#fff" stroke="#444" stroke-width="0.45"/>
<circle cx="344.83" cy="358.05" r="1.1" fill="#fff" stroke="#444" stroke-width="0.45"/>
<rect x="262.8" y="9.5" width="84.50" height="358.70" fill="none" stroke="#3a3a3a" stroke-width="1.0"/>
<line x1="262.80" y1="99.30" x2="347.30" y2="99.30" stroke="#3a3a3a" stroke-width="1.0"/>
<line x1="262.80" y1="189.30" x2="347.30" y2="189.30" stroke="#3a3a3a" stroke-width="1.0"/>
<line x1="262.80" y1="278.90" x2="347.30" y2="278.90" stroke="#3a3a3a" stroke-width="1.0"/>
<line x1="283.93" y1="99.30" x2="283.93" y2="96.50" stroke="#231f20" stroke-width="0.7"/>
<line x1="305.05" y1="99.30" x2="305.05" y2="96.50" stroke="#231f20" stroke-width="0.7"/>
<line x1="326.18" y1="99.30" x2="326.18" y2="96.50" stroke="#231f20" stroke-width="0.7"/>
<line x1="283.93" y1="189.30" x2="283.93" y2="186.50" stroke="#231f20" stroke-width="0.7"/>
<line x1="305.05" y1="189.30" x2="305.05" y2="186.50" stroke="#231f20" stroke-width="0.7"/>
<line x1="326.18" y1="189.30" x2="326.18" y2="186.50" stroke="#231f20" stroke-width="0.7"/>
<line x1="283.93" y1="278.90" x2="283.93" y2="276.10" stroke="#231f20" stroke-width="0.7"/>
<line x1="305.05" y1="278.90" x2="305.05" y2="276.10" stroke="#231f20" stroke-width="0.7"/>
<line x1="326.18" y1="278.90" x2="326.18" y2="276.10" stroke="#231f20" stroke-width="0.7"/>
<line x1="283.93" y1="368.20" x2="283.93" y2="365.40" stroke="#231f20" stroke-width="0.7"/>
<line x1="305.05" y1="368.20" x2="305.05" y2="365.40" stroke="#231f20" stroke-width="0.7"/>
<line x1="326.18" y1="368.20" x2="326.18" y2="365.40" stroke="#231f20" stroke-width="0.7"/>
<text transform="translate(232.46,18.30) scale(1,1.08)" x="0" y="0" font-size="9.5" text-anchor="end" fill="#231f20" stroke="#231f20" stroke-width="0.14"><tspan font-style="italic">x</tspan> = 0.60</text>
<text transform="translate(232.46,108.10) scale(1,1.08)" x="0" y="0" font-size="9.5" text-anchor="end" fill="#231f20" stroke="#231f20" stroke-width="0.14"><tspan font-style="italic">x</tspan> = 0.30</text>
<text transform="translate(232.46,198.10) scale(1,1.08)" x="0" y="0" font-size="9.5" text-anchor="end" fill="#231f20" stroke="#231f20" stroke-width="0.14"><tspan font-style="italic">x</tspan> = 0.15</text>
<text transform="translate(232.46,287.70) scale(1,1.08)" x="0" y="0" font-size="9.5" text-anchor="end" fill="#231f20" stroke="#231f20" stroke-width="0.14"><tspan font-style="italic">x</tspan> = 0.00</text>
<text transform="translate(345.10,18.30) scale(1,1.08)" x="0" y="0" font-size="9.5" text-anchor="end" fill="#231f20" stroke="#231f20" stroke-width="0.14"><tspan font-style="italic">x</tspan> = 0.60</text>
<text transform="translate(345.10,108.10) scale(1,1.08)" x="0" y="0" font-size="9.5" text-anchor="end" fill="#231f20" stroke="#231f20" stroke-width="0.14"><tspan font-style="italic">x</tspan> = 0.30</text>
<text transform="translate(345.10,198.10) scale(1,1.08)" x="0" y="0" font-size="9.5" text-anchor="end" fill="#231f20" stroke="#231f20" stroke-width="0.14"><tspan font-style="italic">x</tspan> = 0.15</text>
<text transform="translate(345.10,287.70) scale(1,1.08)" x="0" y="0" font-size="9.5" text-anchor="end" fill="#231f20" stroke="#231f20" stroke-width="0.14"><tspan font-style="italic">x</tspan> = 0.00</text>
<text transform="translate(154.20,20.20) scale(1,1.08)" x="0" y="0" font-size="9.5" fill="#231f20" stroke="#231f20" stroke-width="0.14">P 2<tspan font-style="italic">p</tspan></text>
<text transform="translate(269.30,20.40) scale(1,1.08)" x="0" y="0" font-size="9.5" fill="#231f20" stroke="#231f20" stroke-width="0.14">S 2<tspan font-style="italic">p</tspan></text>
<text transform="translate(150.45,379.00) scale(1,1.08)" x="0" y="0" font-size="9.5" text-anchor="middle" fill="#231f20" stroke="#231f20" stroke-width="0.14" font-weight="normal" >136</text>
<text transform="translate(171.50,379.00) scale(1,1.08)" x="0" y="0" font-size="9.5" text-anchor="middle" fill="#231f20" stroke="#231f20" stroke-width="0.14" font-weight="normal" >134</text>
<text transform="translate(192.56,379.00) scale(1,1.08)" x="0" y="0" font-size="9.5" text-anchor="middle" fill="#231f20" stroke="#231f20" stroke-width="0.14" font-weight="normal" >132</text>
<text transform="translate(213.61,379.00) scale(1,1.08)" x="0" y="0" font-size="9.5" text-anchor="middle" fill="#231f20" stroke="#231f20" stroke-width="0.14" font-weight="normal" >130</text>
<text transform="translate(234.66,379.00) scale(1,1.08)" x="0" y="0" font-size="9.5" text-anchor="middle" fill="#231f20" stroke="#231f20" stroke-width="0.14" font-weight="normal" >128</text>
<text transform="translate(262.80,379.00) scale(1,1.08)" x="0" y="0" font-size="9.5" text-anchor="middle" fill="#231f20" stroke="#231f20" stroke-width="0.14" font-weight="normal" >166</text>
<text transform="translate(283.93,379.00) scale(1,1.08)" x="0" y="0" font-size="9.5" text-anchor="middle" fill="#231f20" stroke="#231f20" stroke-width="0.14" font-weight="normal" >164</text>
<text transform="translate(305.05,379.00) scale(1,1.08)" x="0" y="0" font-size="9.5" text-anchor="middle" fill="#231f20" stroke="#231f20" stroke-width="0.14" font-weight="normal" >162</text>
<text transform="translate(326.18,379.00) scale(1,1.08)" x="0" y="0" font-size="9.5" text-anchor="middle" fill="#231f20" stroke="#231f20" stroke-width="0.14" font-weight="normal" >160</text>
<text transform="translate(347.30,379.00) scale(1,1.08)" x="0" y="0" font-size="9.5" text-anchor="middle" fill="#231f20" stroke="#231f20" stroke-width="0.14" font-weight="normal" >158</text>
<text transform="translate(192.56,393.50) scale(1,1.08)" x="0" y="0" font-size="9.5" text-anchor="middle" fill="#231f20" stroke="#231f20" stroke-width="0.14" font-weight="normal" >Binding Energy (eV)</text>
<text transform="translate(305.05,393.50) scale(1,1.08)" x="0" y="0" font-size="9.5" text-anchor="middle" fill="#231f20" stroke="#231f20" stroke-width="0.14" font-weight="normal" >Binding Energy (eV)</text>
<text transform="translate(144.1,189) rotate(-90) scale(1,1.08)" font-size="9.5" text-anchor="middle" fill="#231f20" stroke="#231f20" stroke-width="0.14">Intensity</text>
<text transform="translate(256.3,189) rotate(-90) scale(1,1.08)" font-size="9.5" text-anchor="middle" fill="#231f20" stroke="#231f20" stroke-width="0.14">Intensity</text>
<text transform="translate(155.80,322.80) scale(1,1.08)" x="0" y="0" font-size="9.5" fill="#231f20" stroke="#231f20" stroke-width="0.14">PS<tspan font-size="6" dy="2.3">4</tspan><tspan font-size="6" dy="-5.4">3−</tspan></text>
<line x1="163.50" y1="326.40" x2="184.70" y2="332.40" stroke="#222" stroke-width="0.5"/>
<line x1="163.50" y1="326.40" x2="178.00" y2="339.70" stroke="#222" stroke-width="0.5"/>
<text transform="translate(211.30,322.80) scale(1,1.08)" x="0" y="0" font-size="9.5" fill="#231f20" stroke="#231f20" stroke-width="0.14">Na<tspan font-size="6" dy="2.6">x</tspan><tspan dy="-2.6" fill="#e8262a" stroke="#e8262a" stroke-width="0.14">P</tspan></text>
<line x1="224.20" y1="329.60" x2="211.80" y2="352.00" stroke="#222" stroke-width="0.5"/>
<line x1="224.20" y1="329.60" x2="221.90" y2="354.30" stroke="#222" stroke-width="0.5"/>
<text transform="translate(265.80,312.30) scale(1,1.08)" x="0" y="0" font-size="9.5" text-anchor="start" fill="#231f20" stroke="#231f20" stroke-width="0.14" font-weight="normal" >P–S–Na</text>
<text transform="translate(265.80,335.20) scale(1,1.08)" x="0" y="0" font-size="9.5" text-anchor="start" fill="#231f20" stroke="#231f20" stroke-width="0.14" font-weight="normal" >P=S</text>
<text transform="translate(324.30,312.30) scale(1,1.08)" x="0" y="0" font-size="9.5" fill="#231f20" stroke="#231f20" stroke-width="0.14">Na<tspan font-size="6" dy="2.6">2</tspan><tspan dy="-2.6" fill="#e8262a" stroke="#e8262a" stroke-width="0.14">S</tspan></text>
<line x1="283.30" y1="315.00" x2="313.20" y2="322.80" stroke="#222" stroke-width="0.5"/>
<line x1="283.30" y1="315.00" x2="299.00" y2="342.00" stroke="#222" stroke-width="0.5"/>
<line x1="285.00" y1="337.00" x2="308.00" y2="340.00" stroke="#222" stroke-width="0.5"/>
<line x1="285.00" y1="337.00" x2="296.00" y2="344.00" stroke="#222" stroke-width="0.5"/>
<line x1="333.90" y1="318.30" x2="324.90" y2="344.20" stroke="#222" stroke-width="0.5"/>
<line x1="333.90" y1="318.30" x2="333.50" y2="338.60" stroke="#222" stroke-width="0.5"/>
<path d="M400.3,7.7 L674.3,7.7 L674.3,183.2 L400.3,183.2 Z" fill="none" stroke="#231f20" stroke-width="0.9"/>
<line x1="395.30" y1="7.70" x2="400.30" y2="7.70" stroke="#231f20" stroke-width="0.85"/>
<line x1="395.30" y1="38.50" x2="400.30" y2="38.50" stroke="#231f20" stroke-width="0.85"/>
<line x1="395.30" y1="69.30" x2="400.30" y2="69.30" stroke="#231f20" stroke-width="0.85"/>
<line x1="395.30" y1="100.10" x2="400.30" y2="100.10" stroke="#231f20" stroke-width="0.85"/>
<line x1="395.30" y1="130.90" x2="400.30" y2="130.90" stroke="#231f20" stroke-width="0.85"/>
<line x1="395.30" y1="161.70" x2="400.30" y2="161.70" stroke="#231f20" stroke-width="0.85"/>
<line x1="397.90" y1="29.23" x2="400.30" y2="29.23" stroke="#231f20" stroke-width="0.6"/>
<line x1="397.90" y1="23.80" x2="400.30" y2="23.80" stroke="#231f20" stroke-width="0.6"/>
<line x1="397.90" y1="19.96" x2="400.30" y2="19.96" stroke="#231f20" stroke-width="0.6"/>
<line x1="397.90" y1="16.97" x2="400.30" y2="16.97" stroke="#231f20" stroke-width="0.6"/>
<line x1="397.90" y1="14.53" x2="400.30" y2="14.53" stroke="#231f20" stroke-width="0.6"/>
<line x1="397.90" y1="12.47" x2="400.30" y2="12.47" stroke="#231f20" stroke-width="0.6"/>
<line x1="397.90" y1="10.68" x2="400.30" y2="10.68" stroke="#231f20" stroke-width="0.6"/>
<line x1="397.90" y1="9.11" x2="400.30" y2="9.11" stroke="#231f20" stroke-width="0.6"/>
<line x1="397.90" y1="60.03" x2="400.30" y2="60.03" stroke="#231f20" stroke-width="0.6"/>
<line x1="397.90" y1="54.60" x2="400.30" y2="54.60" stroke="#231f20" stroke-width="0.6"/>
<line x1="397.90" y1="50.76" x2="400.30" y2="50.76" stroke="#231f20" stroke-width="0.6"/>
<line x1="397.90" y1="47.77" x2="400.30" y2="47.77" stroke="#231f20" stroke-width="0.6"/>
<line x1="397.90" y1="45.33" x2="400.30" y2="45.33" stroke="#231f20" stroke-width="0.6"/>
<line x1="397.90" y1="43.27" x2="400.30" y2="43.27" stroke="#231f20" stroke-width="0.6"/>
<line x1="397.90" y1="41.48" x2="400.30" y2="41.48" stroke="#231f20" stroke-width="0.6"/>
<line x1="397.90" y1="39.91" x2="400.30" y2="39.91" stroke="#231f20" stroke-width="0.6"/>
<line x1="397.90" y1="90.83" x2="400.30" y2="90.83" stroke="#231f20" stroke-width="0.6"/>
<line x1="397.90" y1="85.40" x2="400.30" y2="85.40" stroke="#231f20" stroke-width="0.6"/>
<line x1="397.90" y1="81.56" x2="400.30" y2="81.56" stroke="#231f20" stroke-width="0.6"/>
<line x1="397.90" y1="78.57" x2="400.30" y2="78.57" stroke="#231f20" stroke-width="0.6"/>
<line x1="397.90" y1="76.13" x2="400.30" y2="76.13" stroke="#231f20" stroke-width="0.6"/>
<line x1="397.90" y1="74.07" x2="400.30" y2="74.07" stroke="#231f20" stroke-width="0.6"/>
<line x1="397.90" y1="72.28" x2="400.30" y2="72.28" stroke="#231f20" stroke-width="0.6"/>
<line x1="397.90" y1="70.71" x2="400.30" y2="70.71" stroke="#231f20" stroke-width="0.6"/>
<line x1="397.90" y1="121.63" x2="400.30" y2="121.63" stroke="#231f20" stroke-width="0.6"/>
<line x1="397.90" y1="116.20" x2="400.30" y2="116.20" stroke="#231f20" stroke-width="0.6"/>
<line x1="397.90" y1="112.36" x2="400.30" y2="112.36" stroke="#231f20" stroke-width="0.6"/>
<line x1="397.90" y1="109.37" x2="400.30" y2="109.37" stroke="#231f20" stroke-width="0.6"/>
<line x1="397.90" y1="106.93" x2="400.30" y2="106.93" stroke="#231f20" stroke-width="0.6"/>
<line x1="397.90" y1="104.87" x2="400.30" y2="104.87" stroke="#231f20" stroke-width="0.6"/>
<line x1="397.90" y1="103.08" x2="400.30" y2="103.08" stroke="#231f20" stroke-width="0.6"/>
<line x1="397.90" y1="101.51" x2="400.30" y2="101.51" stroke="#231f20" stroke-width="0.6"/>
<line x1="397.90" y1="152.43" x2="400.30" y2="152.43" stroke="#231f20" stroke-width="0.6"/>
<line x1="397.90" y1="147.00" x2="400.30" y2="147.00" stroke="#231f20" stroke-width="0.6"/>
<line x1="397.90" y1="143.16" x2="400.30" y2="143.16" stroke="#231f20" stroke-width="0.6"/>
<line x1="397.90" y1="140.17" x2="400.30" y2="140.17" stroke="#231f20" stroke-width="0.6"/>
<line x1="397.90" y1="137.73" x2="400.30" y2="137.73" stroke="#231f20" stroke-width="0.6"/>
<line x1="397.90" y1="135.67" x2="400.30" y2="135.67" stroke="#231f20" stroke-width="0.6"/>
<line x1="397.90" y1="133.88" x2="400.30" y2="133.88" stroke="#231f20" stroke-width="0.6"/>
<line x1="397.90" y1="132.31" x2="400.30" y2="132.31" stroke="#231f20" stroke-width="0.6"/>
<line x1="397.90" y1="177.80" x2="400.30" y2="177.80" stroke="#231f20" stroke-width="0.6"/>
<line x1="397.90" y1="173.96" x2="400.30" y2="173.96" stroke="#231f20" stroke-width="0.6"/>
<line x1="397.90" y1="170.97" x2="400.30" y2="170.97" stroke="#231f20" stroke-width="0.6"/>
<line x1="397.90" y1="168.53" x2="400.30" y2="168.53" stroke="#231f20" stroke-width="0.6"/>
<line x1="397.90" y1="166.47" x2="400.30" y2="166.47" stroke="#231f20" stroke-width="0.6"/>
<line x1="397.90" y1="164.68" x2="400.30" y2="164.68" stroke="#231f20" stroke-width="0.6"/>
<line x1="397.90" y1="163.11" x2="400.30" y2="163.11" stroke="#231f20" stroke-width="0.6"/>
<text transform="translate(385.90,12.20) scale(1,1.08)" x="0" y="0" font-size="9.5" text-anchor="end" fill="#231f20" stroke="#231f20" stroke-width="0.14">10</text>
<text transform="translate(386.60,9.00) scale(1,1.08)" x="0" y="0" font-size="5.4" fill="#444" stroke="#444" stroke-width="0.14">−1</text>
<text transform="translate(385.90,43.00) scale(1,1.08)" x="0" y="0" font-size="9.5" text-anchor="end" fill="#231f20" stroke="#231f20" stroke-width="0.14">10</text>
<text transform="translate(386.60,39.80) scale(1,1.08)" x="0" y="0" font-size="5.4" fill="#444" stroke="#444" stroke-width="0.14">−2</text>
<text transform="translate(385.90,73.80) scale(1,1.08)" x="0" y="0" font-size="9.5" text-anchor="end" fill="#231f20" stroke="#231f20" stroke-width="0.14">10</text>
<text transform="translate(386.60,70.60) scale(1,1.08)" x="0" y="0" font-size="5.4" fill="#444" stroke="#444" stroke-width="0.14">−3</text>
<text transform="translate(385.90,104.60) scale(1,1.08)" x="0" y="0" font-size="9.5" text-anchor="end" fill="#231f20" stroke="#231f20" stroke-width="0.14">10</text>
<text transform="translate(386.60,101.40) scale(1,1.08)" x="0" y="0" font-size="5.4" fill="#444" stroke="#444" stroke-width="0.14">−4</text>
<text transform="translate(385.90,135.40) scale(1,1.08)" x="0" y="0" font-size="9.5" text-anchor="end" fill="#231f20" stroke="#231f20" stroke-width="0.14">10</text>
<text transform="translate(386.60,132.20) scale(1,1.08)" x="0" y="0" font-size="5.4" fill="#444" stroke="#444" stroke-width="0.14">−5</text>
<text transform="translate(385.90,166.20) scale(1,1.08)" x="0" y="0" font-size="9.5" text-anchor="end" fill="#231f20" stroke="#231f20" stroke-width="0.14">10</text>
<text transform="translate(386.60,163.00) scale(1,1.08)" x="0" y="0" font-size="5.4" fill="#444" stroke="#444" stroke-width="0.14">−6</text>
<path d="M400.3,192.7 L674.3,192.7 L674.3,368.3 L400.3,368.3 Z" fill="none" stroke="#231f20" stroke-width="0.9"/>
<line x1="395.30" y1="192.90" x2="400.30" y2="192.90" stroke="#231f20" stroke-width="0.85"/>
<line x1="395.30" y1="223.70" x2="400.30" y2="223.70" stroke="#231f20" stroke-width="0.85"/>
<line x1="395.30" y1="254.50" x2="400.30" y2="254.50" stroke="#231f20" stroke-width="0.85"/>
<line x1="395.30" y1="285.30" x2="400.30" y2="285.30" stroke="#231f20" stroke-width="0.85"/>
<line x1="395.30" y1="316.10" x2="400.30" y2="316.10" stroke="#231f20" stroke-width="0.85"/>
<line x1="395.30" y1="346.90" x2="400.30" y2="346.90" stroke="#231f20" stroke-width="0.85"/>
<line x1="397.90" y1="214.43" x2="400.30" y2="214.43" stroke="#231f20" stroke-width="0.6"/>
<line x1="397.90" y1="209.00" x2="400.30" y2="209.00" stroke="#231f20" stroke-width="0.6"/>
<line x1="397.90" y1="205.16" x2="400.30" y2="205.16" stroke="#231f20" stroke-width="0.6"/>
<line x1="397.90" y1="202.17" x2="400.30" y2="202.17" stroke="#231f20" stroke-width="0.6"/>
<line x1="397.90" y1="199.73" x2="400.30" y2="199.73" stroke="#231f20" stroke-width="0.6"/>
<line x1="397.90" y1="197.67" x2="400.30" y2="197.67" stroke="#231f20" stroke-width="0.6"/>
<line x1="397.90" y1="195.88" x2="400.30" y2="195.88" stroke="#231f20" stroke-width="0.6"/>
<line x1="397.90" y1="194.31" x2="400.30" y2="194.31" stroke="#231f20" stroke-width="0.6"/>
<line x1="397.90" y1="245.23" x2="400.30" y2="245.23" stroke="#231f20" stroke-width="0.6"/>
<line x1="397.90" y1="239.80" x2="400.30" y2="239.80" stroke="#231f20" stroke-width="0.6"/>
<line x1="397.90" y1="235.96" x2="400.30" y2="235.96" stroke="#231f20" stroke-width="0.6"/>
<line x1="397.90" y1="232.97" x2="400.30" y2="232.97" stroke="#231f20" stroke-width="0.6"/>
<line x1="397.90" y1="230.53" x2="400.30" y2="230.53" stroke="#231f20" stroke-width="0.6"/>
<line x1="397.90" y1="228.47" x2="400.30" y2="228.47" stroke="#231f20" stroke-width="0.6"/>
<line x1="397.90" y1="226.68" x2="400.30" y2="226.68" stroke="#231f20" stroke-width="0.6"/>
<line x1="397.90" y1="225.11" x2="400.30" y2="225.11" stroke="#231f20" stroke-width="0.6"/>
<line x1="397.90" y1="276.03" x2="400.30" y2="276.03" stroke="#231f20" stroke-width="0.6"/>
<line x1="397.90" y1="270.60" x2="400.30" y2="270.60" stroke="#231f20" stroke-width="0.6"/>
<line x1="397.90" y1="266.76" x2="400.30" y2="266.76" stroke="#231f20" stroke-width="0.6"/>
<line x1="397.90" y1="263.77" x2="400.30" y2="263.77" stroke="#231f20" stroke-width="0.6"/>
<line x1="397.90" y1="261.33" x2="400.30" y2="261.33" stroke="#231f20" stroke-width="0.6"/>
<line x1="397.90" y1="259.27" x2="400.30" y2="259.27" stroke="#231f20" stroke-width="0.6"/>
<line x1="397.90" y1="257.48" x2="400.30" y2="257.48" stroke="#231f20" stroke-width="0.6"/>
<line x1="397.90" y1="255.91" x2="400.30" y2="255.91" stroke="#231f20" stroke-width="0.6"/>
<line x1="397.90" y1="306.83" x2="400.30" y2="306.83" stroke="#231f20" stroke-width="0.6"/>
<line x1="397.90" y1="301.40" x2="400.30" y2="301.40" stroke="#231f20" stroke-width="0.6"/>
<line x1="397.90" y1="297.56" x2="400.30" y2="297.56" stroke="#231f20" stroke-width="0.6"/>
<line x1="397.90" y1="294.57" x2="400.30" y2="294.57" stroke="#231f20" stroke-width="0.6"/>
<line x1="397.90" y1="292.13" x2="400.30" y2="292.13" stroke="#231f20" stroke-width="0.6"/>
<line x1="397.90" y1="290.07" x2="400.30" y2="290.07" stroke="#231f20" stroke-width="0.6"/>
<line x1="397.90" y1="288.28" x2="400.30" y2="288.28" stroke="#231f20" stroke-width="0.6"/>
<line x1="397.90" y1="286.71" x2="400.30" y2="286.71" stroke="#231f20" stroke-width="0.6"/>
<line x1="397.90" y1="337.63" x2="400.30" y2="337.63" stroke="#231f20" stroke-width="0.6"/>
<line x1="397.90" y1="332.20" x2="400.30" y2="332.20" stroke="#231f20" stroke-width="0.6"/>
<line x1="397.90" y1="328.36" x2="400.30" y2="328.36" stroke="#231f20" stroke-width="0.6"/>
<line x1="397.90" y1="325.37" x2="400.30" y2="325.37" stroke="#231f20" stroke-width="0.6"/>
<line x1="397.90" y1="322.93" x2="400.30" y2="322.93" stroke="#231f20" stroke-width="0.6"/>
<line x1="397.90" y1="320.87" x2="400.30" y2="320.87" stroke="#231f20" stroke-width="0.6"/>
<line x1="397.90" y1="319.08" x2="400.30" y2="319.08" stroke="#231f20" stroke-width="0.6"/>
<line x1="397.90" y1="317.51" x2="400.30" y2="317.51" stroke="#231f20" stroke-width="0.6"/>
<line x1="397.90" y1="363.00" x2="400.30" y2="363.00" stroke="#231f20" stroke-width="0.6"/>
<line x1="397.90" y1="359.16" x2="400.30" y2="359.16" stroke="#231f20" stroke-width="0.6"/>
<line x1="397.90" y1="356.17" x2="400.30" y2="356.17" stroke="#231f20" stroke-width="0.6"/>
<line x1="397.90" y1="353.73" x2="400.30" y2="353.73" stroke="#231f20" stroke-width="0.6"/>
<line x1="397.90" y1="351.67" x2="400.30" y2="351.67" stroke="#231f20" stroke-width="0.6"/>
<line x1="397.90" y1="349.88" x2="400.30" y2="349.88" stroke="#231f20" stroke-width="0.6"/>
<line x1="397.90" y1="348.31" x2="400.30" y2="348.31" stroke="#231f20" stroke-width="0.6"/>
<text transform="translate(385.90,197.40) scale(1,1.08)" x="0" y="0" font-size="9.5" text-anchor="end" fill="#231f20" stroke="#231f20" stroke-width="0.14">10</text>
<text transform="translate(386.60,194.20) scale(1,1.08)" x="0" y="0" font-size="5.4" fill="#444" stroke="#444" stroke-width="0.14">−1</text>
<text transform="translate(385.90,228.20) scale(1,1.08)" x="0" y="0" font-size="9.5" text-anchor="end" fill="#231f20" stroke="#231f20" stroke-width="0.14">10</text>
<text transform="translate(386.60,225.00) scale(1,1.08)" x="0" y="0" font-size="5.4" fill="#444" stroke="#444" stroke-width="0.14">−2</text>
<text transform="translate(385.90,259.00) scale(1,1.08)" x="0" y="0" font-size="9.5" text-anchor="end" fill="#231f20" stroke="#231f20" stroke-width="0.14">10</text>
<text transform="translate(386.60,255.80) scale(1,1.08)" x="0" y="0" font-size="5.4" fill="#444" stroke="#444" stroke-width="0.14">−3</text>
<text transform="translate(385.90,289.80) scale(1,1.08)" x="0" y="0" font-size="9.5" text-anchor="end" fill="#231f20" stroke="#231f20" stroke-width="0.14">10</text>
<text transform="translate(386.60,286.60) scale(1,1.08)" x="0" y="0" font-size="5.4" fill="#444" stroke="#444" stroke-width="0.14">−4</text>
<text transform="translate(385.90,320.60) scale(1,1.08)" x="0" y="0" font-size="9.5" text-anchor="end" fill="#231f20" stroke="#231f20" stroke-width="0.14">10</text>
<text transform="translate(386.60,317.40) scale(1,1.08)" x="0" y="0" font-size="5.4" fill="#444" stroke="#444" stroke-width="0.14">−5</text>
<text transform="translate(385.90,351.40) scale(1,1.08)" x="0" y="0" font-size="9.5" text-anchor="end" fill="#231f20" stroke="#231f20" stroke-width="0.14">10</text>
<text transform="translate(386.60,348.20) scale(1,1.08)" x="0" y="0" font-size="5.4" fill="#444" stroke="#444" stroke-width="0.14">−6</text>
<line x1="404.50" y1="183.20" x2="404.50" y2="180.00" stroke="#231f20" stroke-width="0.8"/>
<line x1="404.50" y1="368.30" x2="404.50" y2="365.10" stroke="#231f20" stroke-width="0.8"/>
<line x1="494.50" y1="183.20" x2="494.50" y2="180.00" stroke="#231f20" stroke-width="0.8"/>
<line x1="494.50" y1="368.30" x2="494.50" y2="365.10" stroke="#231f20" stroke-width="0.8"/>
<line x1="584.50" y1="183.20" x2="584.50" y2="180.00" stroke="#231f20" stroke-width="0.8"/>
<line x1="584.50" y1="368.30" x2="584.50" y2="365.10" stroke="#231f20" stroke-width="0.8"/>
<path d="M405.70,121.73 L411.00,116.65 L416.30,114.61 L421.60,113.65 L426.90,113.58 L432.20,113.24 L437.50,113.21 L442.80,113.70 L448.10,113.60 L453.40,114.01 L458.70,114.89 L464.00,115.00 L469.30,115.65 L474.60,116.04 L479.90,116.77 L485.20,117.11 L490.50,118.04 L495.80,118.86 L501.10,119.55 L506.40,120.58 L511.70,121.44 L517.00,121.98 L522.30,123.02 L527.60,123.18 L532.90,123.28 L538.20,123.38 L543.50,124.14 L548.80,124.10 L554.10,124.40 L559.40,124.66 L564.70,124.72 L570.00,125.00 L575.30,124.69 L580.60,124.93 L585.90,124.72 L591.20,125.01 L596.50,124.98 L601.80,124.51 L607.10,124.53 L612.40,124.48 L617.70,124.83 L623.00,124.40 L628.30,124.41 L633.60,124.11 L638.90,124.13 L644.20,123.95 L649.50,123.82 L654.80,123.85 L660.10,123.74 L665.40,123.82 L668.70,123.62" fill="none" stroke="#e8312b" stroke-width="0.55"/>
<rect x="403.65" y="119.68" width="4.1" height="4.1" fill="#fff" stroke="#e8312b" stroke-width="0.9"/>
<rect x="408.95" y="114.60" width="4.1" height="4.1" fill="#fff" stroke="#e8312b" stroke-width="0.9"/>
<rect x="414.25" y="112.56" width="4.1" height="4.1" fill="#fff" stroke="#e8312b" stroke-width="0.9"/>
<rect x="419.55" y="111.60" width="4.1" height="4.1" fill="#fff" stroke="#e8312b" stroke-width="0.9"/>
<rect x="424.85" y="111.53" width="4.1" height="4.1" fill="#fff" stroke="#e8312b" stroke-width="0.9"/>
<rect x="430.15" y="111.19" width="4.1" height="4.1" fill="#fff" stroke="#e8312b" stroke-width="0.9"/>
<rect x="435.45" y="111.16" width="4.1" height="4.1" fill="#fff" stroke="#e8312b" stroke-width="0.9"/>
<rect x="440.75" y="111.65" width="4.1" height="4.1" fill="#fff" stroke="#e8312b" stroke-width="0.9"/>
<rect x="446.05" y="111.55" width="4.1" height="4.1" fill="#fff" stroke="#e8312b" stroke-width="0.9"/>
<rect x="451.35" y="111.96" width="4.1" height="4.1" fill="#fff" stroke="#e8312b" stroke-width="0.9"/>
<rect x="456.65" y="112.84" width="4.1" height="4.1" fill="#fff" stroke="#e8312b" stroke-width="0.9"/>
<rect x="461.95" y="112.95" width="4.1" height="4.1" fill="#fff" stroke="#e8312b" stroke-width="0.9"/>
<rect x="467.25" y="113.60" width="4.1" height="4.1" fill="#fff" stroke="#e8312b" stroke-width="0.9"/>
<rect x="472.55" y="113.99" width="4.1" height="4.1" fill="#fff" stroke="#e8312b" stroke-width="0.9"/>
<rect x="477.85" y="114.72" width="4.1" height="4.1" fill="#fff" stroke="#e8312b" stroke-width="0.9"/>
<rect x="483.15" y="115.06" width="4.1" height="4.1" fill="#fff" stroke="#e8312b" stroke-width="0.9"/>
<rect x="488.45" y="115.99" width="4.1" height="4.1" fill="#fff" stroke="#e8312b" stroke-width="0.9"/>
<rect x="493.75" y="116.81" width="4.1" height="4.1" fill="#fff" stroke="#e8312b" stroke-width="0.9"/>
<rect x="499.05" y="117.50" width="4.1" height="4.1" fill="#fff" stroke="#e8312b" stroke-width="0.9"/>
<rect x="504.35" y="118.53" width="4.1" height="4.1" fill="#fff" stroke="#e8312b" stroke-width="0.9"/>
<rect x="509.65" y="119.39" width="4.1" height="4.1" fill="#fff" stroke="#e8312b" stroke-width="0.9"/>
<rect x="514.95" y="119.93" width="4.1" height="4.1" fill="#fff" stroke="#e8312b" stroke-width="0.9"/>
<rect x="520.25" y="120.97" width="4.1" height="4.1" fill="#fff" stroke="#e8312b" stroke-width="0.9"/>
<rect x="525.55" y="121.13" width="4.1" height="4.1" fill="#fff" stroke="#e8312b" stroke-width="0.9"/>
<rect x="530.85" y="121.23" width="4.1" height="4.1" fill="#fff" stroke="#e8312b" stroke-width="0.9"/>
<rect x="536.15" y="121.33" width="4.1" height="4.1" fill="#fff" stroke="#e8312b" stroke-width="0.9"/>
<rect x="541.45" y="122.09" width="4.1" height="4.1" fill="#fff" stroke="#e8312b" stroke-width="0.9"/>
<rect x="546.75" y="122.05" width="4.1" height="4.1" fill="#fff" stroke="#e8312b" stroke-width="0.9"/>
<rect x="552.05" y="122.35" width="4.1" height="4.1" fill="#fff" stroke="#e8312b" stroke-width="0.9"/>
<rect x="557.35" y="122.61" width="4.1" height="4.1" fill="#fff" stroke="#e8312b" stroke-width="0.9"/>
<rect x="562.65" y="122.67" width="4.1" height="4.1" fill="#fff" stroke="#e8312b" stroke-width="0.9"/>
<rect x="567.95" y="122.95" width="4.1" height="4.1" fill="#fff" stroke="#e8312b" stroke-width="0.9"/>
<rect x="573.25" y="122.64" width="4.1" height="4.1" fill="#fff" stroke="#e8312b" stroke-width="0.9"/>
<rect x="578.55" y="122.88" width="4.1" height="4.1" fill="#fff" stroke="#e8312b" stroke-width="0.9"/>
<rect x="583.85" y="122.67" width="4.1" height="4.1" fill="#fff" stroke="#e8312b" stroke-width="0.9"/>
<rect x="589.15" y="122.96" width="4.1" height="4.1" fill="#fff" stroke="#e8312b" stroke-width="0.9"/>
<rect x="594.45" y="122.93" width="4.1" height="4.1" fill="#fff" stroke="#e8312b" stroke-width="0.9"/>
<rect x="599.75" y="122.46" width="4.1" height="4.1" fill="#fff" stroke="#e8312b" stroke-width="0.9"/>
<rect x="605.05" y="122.48" width="4.1" height="4.1" fill="#fff" stroke="#e8312b" stroke-width="0.9"/>
<rect x="610.35" y="122.43" width="4.1" height="4.1" fill="#fff" stroke="#e8312b" stroke-width="0.9"/>
<rect x="615.65" y="122.78" width="4.1" height="4.1" fill="#fff" stroke="#e8312b" stroke-width="0.9"/>
<rect x="620.95" y="122.35" width="4.1" height="4.1" fill="#fff" stroke="#e8312b" stroke-width="0.9"/>
<rect x="626.25" y="122.36" width="4.1" height="4.1" fill="#fff" stroke="#e8312b" stroke-width="0.9"/>
<rect x="631.55" y="122.06" width="4.1" height="4.1" fill="#fff" stroke="#e8312b" stroke-width="0.9"/>
<rect x="636.85" y="122.08" width="4.1" height="4.1" fill="#fff" stroke="#e8312b" stroke-width="0.9"/>
<rect x="642.15" y="121.90" width="4.1" height="4.1" fill="#fff" stroke="#e8312b" stroke-width="0.9"/>
<rect x="647.45" y="121.77" width="4.1" height="4.1" fill="#fff" stroke="#e8312b" stroke-width="0.9"/>
<rect x="652.75" y="121.80" width="4.1" height="4.1" fill="#fff" stroke="#e8312b" stroke-width="0.9"/>
<rect x="658.05" y="121.69" width="4.1" height="4.1" fill="#fff" stroke="#e8312b" stroke-width="0.9"/>
<rect x="663.35" y="121.77" width="4.1" height="4.1" fill="#fff" stroke="#e8312b" stroke-width="0.9"/>
<rect x="666.65" y="121.57" width="4.1" height="4.1" fill="#fff" stroke="#e8312b" stroke-width="0.9"/>
<path d="M405.70,156.43 L411.00,148.76 L416.30,145.05 L421.60,142.52 L426.90,141.26 L432.20,140.73 L437.50,140.80 L442.80,140.52 L448.10,140.56 L453.40,140.50 L458.70,140.96 L464.00,141.15 L469.30,141.45 L474.60,141.79 L479.90,142.22 L485.20,143.03 L490.50,143.46 L495.80,143.94 L501.10,144.43 L506.40,144.55 L511.70,145.12 L517.00,145.80 L522.30,146.42 L527.60,147.12 L532.90,147.78 L538.20,147.94 L543.50,148.88 L548.80,149.28 L554.10,149.43 L559.40,149.48 L564.70,149.90 L570.00,149.92 L575.30,150.67 L580.60,150.88 L585.90,150.62 L591.20,150.22 L596.50,150.34 L601.80,149.89 L607.10,149.83 L612.40,149.56 L617.70,149.11 L623.00,148.90 L628.30,148.93 L633.60,148.75 L638.90,148.51 L644.20,148.51 L649.50,148.74 L654.80,148.19 L660.10,148.11 L665.40,148.38 L668.70,148.12" fill="none" stroke="#e8312b" stroke-width="0.55"/>
<path d="M403.70,153.83 L408.20,156.43 L403.70,159.03 Z" fill="#fff" stroke="#e8312b" stroke-width="0.9" stroke-linejoin="miter"/>
<path d="M409.00,146.16 L413.50,148.76 L409.00,151.36 Z" fill="#fff" stroke="#e8312b" stroke-width="0.9" stroke-linejoin="miter"/>
<path d="M414.30,142.45 L418.80,145.05 L414.30,147.65 Z" fill="#fff" stroke="#e8312b" stroke-width="0.9" stroke-linejoin="miter"/>
<path d="M419.60,139.92 L424.10,142.52 L419.60,145.12 Z" fill="#fff" stroke="#e8312b" stroke-width="0.9" stroke-linejoin="miter"/>
<path d="M424.90,138.66 L429.40,141.26 L424.90,143.86 Z" fill="#fff" stroke="#e8312b" stroke-width="0.9" stroke-linejoin="miter"/>
<path d="M430.20,138.13 L434.70,140.73 L430.20,143.33 Z" fill="#fff" stroke="#e8312b" stroke-width="0.9" stroke-linejoin="miter"/>
<path d="M435.50,138.20 L440.00,140.80 L435.50,143.40 Z" fill="#fff" stroke="#e8312b" stroke-width="0.9" stroke-linejoin="miter"/>
<path d="M440.80,137.92 L445.30,140.52 L440.80,143.12 Z" fill="#fff" stroke="#e8312b" stroke-width="0.9" stroke-linejoin="miter"/>
<path d="M446.10,137.96 L450.60,140.56 L446.10,143.16 Z" fill="#fff" stroke="#e8312b" stroke-width="0.9" stroke-linejoin="miter"/>
<path d="M451.40,137.90 L455.90,140.50 L451.40,143.10 Z" fill="#fff" stroke="#e8312b" stroke-width="0.9" stroke-linejoin="miter"/>
<path d="M456.70,138.36 L461.20,140.96 L456.70,143.56 Z" fill="#fff" stroke="#e8312b" stroke-width="0.9" stroke-linejoin="miter"/>
<path d="M462.00,138.55 L466.50,141.15 L462.00,143.75 Z" fill="#fff" stroke="#e8312b" stroke-width="0.9" stroke-linejoin="miter"/>
<path d="M467.30,138.85 L471.80,141.45 L467.30,144.05 Z" fill="#fff" stroke="#e8312b" stroke-width="0.9" stroke-linejoin="miter"/>
<path d="M472.60,139.19 L477.10,141.79 L472.60,144.39 Z" fill="#fff" stroke="#e8312b" stroke-width="0.9" stroke-linejoin="miter"/>
<path d="M477.90,139.62 L482.40,142.22 L477.90,144.82 Z" fill="#fff" stroke="#e8312b" stroke-width="0.9" stroke-linejoin="miter"/>
<path d="M483.20,140.43 L487.70,143.03 L483.20,145.63 Z" fill="#fff" stroke="#e8312b" stroke-width="0.9" stroke-linejoin="miter"/>
<path d="M488.50,140.86 L493.00,143.46 L488.50,146.06 Z" fill="#fff" stroke="#e8312b" stroke-width="0.9" stroke-linejoin="miter"/>
<path d="M493.80,141.34 L498.30,143.94 L493.80,146.54 Z" fill="#fff" stroke="#e8312b" stroke-width="0.9" stroke-linejoin="miter"/>
<path d="M499.10,141.83 L503.60,144.43 L499.10,147.03 Z" fill="#fff" stroke="#e8312b" stroke-width="0.9" stroke-linejoin="miter"/>
<path d="M504.40,141.95 L508.90,144.55 L504.40,147.15 Z" fill="#fff" stroke="#e8312b" stroke-width="0.9" stroke-linejoin="miter"/>
<path d="M509.70,142.52 L514.20,145.12 L509.70,147.72 Z" fill="#fff" stroke="#e8312b" stroke-width="0.9" stroke-linejoin="miter"/>
<path d="M515.00,143.20 L519.50,145.80 L515.00,148.40 Z" fill="#fff" stroke="#e8312b" stroke-width="0.9" stroke-linejoin="miter"/>
<path d="M520.30,143.82 L524.80,146.42 L520.30,149.02 Z" fill="#fff" stroke="#e8312b" stroke-width="0.9" stroke-linejoin="miter"/>
<path d="M525.60,144.52 L530.10,147.12 L525.60,149.72 Z" fill="#fff" stroke="#e8312b" stroke-width="0.9" stroke-linejoin="miter"/>
<path d="M530.90,145.18 L535.40,147.78 L530.90,150.38 Z" fill="#fff" stroke="#e8312b" stroke-width="0.9" stroke-linejoin="miter"/>
<path d="M536.20,145.34 L540.70,147.94 L536.20,150.54 Z" fill="#fff" stroke="#e8312b" stroke-width="0.9" stroke-linejoin="miter"/>
<path d="M541.50,146.28 L546.00,148.88 L541.50,151.48 Z" fill="#fff" stroke="#e8312b" stroke-width="0.9" stroke-linejoin="miter"/>
<path d="M546.80,146.68 L551.30,149.28 L546.80,151.88 Z" fill="#fff" stroke="#e8312b" stroke-width="0.9" stroke-linejoin="miter"/>
<path d="M552.10,146.83 L556.60,149.43 L552.10,152.03 Z" fill="#fff" stroke="#e8312b" stroke-width="0.9" stroke-linejoin="miter"/>
<path d="M557.40,146.88 L561.90,149.48 L557.40,152.08 Z" fill="#fff" stroke="#e8312b" stroke-width="0.9" stroke-linejoin="miter"/>
<path d="M562.70,147.30 L567.20,149.90 L562.70,152.50 Z" fill="#fff" stroke="#e8312b" stroke-width="0.9" stroke-linejoin="miter"/>
<path d="M568.00,147.32 L572.50,149.92 L568.00,152.52 Z" fill="#fff" stroke="#e8312b" stroke-width="0.9" stroke-linejoin="miter"/>
<path d="M573.30,148.07 L577.80,150.67 L573.30,153.27 Z" fill="#fff" stroke="#e8312b" stroke-width="0.9" stroke-linejoin="miter"/>
<path d="M578.60,148.28 L583.10,150.88 L578.60,153.48 Z" fill="#fff" stroke="#e8312b" stroke-width="0.9" stroke-linejoin="miter"/>
<path d="M583.90,148.02 L588.40,150.62 L583.90,153.22 Z" fill="#fff" stroke="#e8312b" stroke-width="0.9" stroke-linejoin="miter"/>
<path d="M589.20,147.62 L593.70,150.22 L589.20,152.82 Z" fill="#fff" stroke="#e8312b" stroke-width="0.9" stroke-linejoin="miter"/>
<path d="M594.50,147.74 L599.00,150.34 L594.50,152.94 Z" fill="#fff" stroke="#e8312b" stroke-width="0.9" stroke-linejoin="miter"/>
<path d="M599.80,147.29 L604.30,149.89 L599.80,152.49 Z" fill="#fff" stroke="#e8312b" stroke-width="0.9" stroke-linejoin="miter"/>
<path d="M605.10,147.23 L609.60,149.83 L605.10,152.43 Z" fill="#fff" stroke="#e8312b" stroke-width="0.9" stroke-linejoin="miter"/>
<path d="M610.40,146.96 L614.90,149.56 L610.40,152.16 Z" fill="#fff" stroke="#e8312b" stroke-width="0.9" stroke-linejoin="miter"/>
<path d="M615.70,146.51 L620.20,149.11 L615.70,151.71 Z" fill="#fff" stroke="#e8312b" stroke-width="0.9" stroke-linejoin="miter"/>
<path d="M621.00,146.30 L625.50,148.90 L621.00,151.50 Z" fill="#fff" stroke="#e8312b" stroke-width="0.9" stroke-linejoin="miter"/>
<path d="M626.30,146.33 L630.80,148.93 L626.30,151.53 Z" fill="#fff" stroke="#e8312b" stroke-width="0.9" stroke-linejoin="miter"/>
<path d="M631.60,146.15 L636.10,148.75 L631.60,151.35 Z" fill="#fff" stroke="#e8312b" stroke-width="0.9" stroke-linejoin="miter"/>
<path d="M636.90,145.91 L641.40,148.51 L636.90,151.11 Z" fill="#fff" stroke="#e8312b" stroke-width="0.9" stroke-linejoin="miter"/>
<path d="M642.20,145.91 L646.70,148.51 L642.20,151.11 Z" fill="#fff" stroke="#e8312b" stroke-width="0.9" stroke-linejoin="miter"/>
<path d="M647.50,146.14 L652.00,148.74 L647.50,151.34 Z" fill="#fff" stroke="#e8312b" stroke-width="0.9" stroke-linejoin="miter"/>
<path d="M652.80,145.59 L657.30,148.19 L652.80,150.79 Z" fill="#fff" stroke="#e8312b" stroke-width="0.9" stroke-linejoin="miter"/>
<path d="M658.10,145.51 L662.60,148.11 L658.10,150.71 Z" fill="#fff" stroke="#e8312b" stroke-width="0.9" stroke-linejoin="miter"/>
<path d="M663.40,145.78 L667.90,148.38 L663.40,150.98 Z" fill="#fff" stroke="#e8312b" stroke-width="0.9" stroke-linejoin="miter"/>
<path d="M666.70,145.52 L671.20,148.12 L666.70,150.72 Z" fill="#fff" stroke="#e8312b" stroke-width="0.9" stroke-linejoin="miter"/>
<path d="M405.70,80.03 L411.00,81.82 L416.30,80.91 L421.60,80.09 L426.90,79.04 L432.20,78.35 L437.50,77.97 L442.80,78.61 L448.10,79.26 L453.40,79.29 L458.70,79.76 L464.00,79.39 L469.30,79.94 L474.60,80.11 L479.90,80.71 L485.20,81.10 L490.50,81.02 L495.80,81.54 L501.10,81.97 L506.40,82.96 L511.70,83.33 L517.00,83.32 L522.30,84.32 L527.60,84.13 L532.90,83.91 L538.20,82.91 L543.50,82.14 L548.80,82.14 L554.10,80.91 L559.40,80.17 L564.70,79.48 L570.00,78.08 L575.30,76.31 L580.60,75.67 L585.90,74.15 L591.20,73.08 L596.50,71.55 L601.80,71.09 L607.10,69.84 L612.40,69.01 L617.70,68.15 L623.00,67.25 L628.30,66.88 L633.60,66.31 L638.90,65.86 L644.20,65.35 L649.50,65.09 L654.80,64.88 L660.10,64.68 L665.40,65.72 L668.70,65.75" fill="none" stroke="#1a1a1a" stroke-width="0.55"/>
<path d="M405.70,77.23 L406.41,79.06 L408.36,79.17 L406.84,80.40 L407.35,82.30 L405.70,81.23 L404.05,82.30 L404.56,80.40 L403.04,79.17 L404.99,79.06Z" fill="#fff" stroke="#1a1a1a" stroke-width="1.0"/>
<path d="M411.00,79.02 L411.71,80.85 L413.66,80.96 L412.14,82.19 L412.65,84.09 L411.00,83.02 L409.35,84.09 L409.86,82.19 L408.34,80.96 L410.29,80.85Z" fill="#fff" stroke="#1a1a1a" stroke-width="1.0"/>
<path d="M416.30,78.11 L417.01,79.93 L418.96,80.04 L417.44,81.28 L417.95,83.17 L416.30,82.11 L414.65,83.17 L415.16,81.28 L413.64,80.04 L415.59,79.93Z" fill="#fff" stroke="#1a1a1a" stroke-width="1.0"/>
<path d="M421.60,77.29 L422.31,79.12 L424.26,79.22 L422.74,80.46 L423.25,82.35 L421.60,81.29 L419.95,82.35 L420.46,80.46 L418.94,79.22 L420.89,79.12Z" fill="#fff" stroke="#1a1a1a" stroke-width="1.0"/>
<path d="M426.90,76.24 L427.61,78.07 L429.56,78.18 L428.04,79.41 L428.55,81.31 L426.90,80.24 L425.25,81.31 L425.76,79.41 L424.24,78.18 L426.19,78.07Z" fill="#fff" stroke="#1a1a1a" stroke-width="1.0"/>
<path d="M432.20,75.55 L432.91,77.38 L434.86,77.49 L433.34,78.72 L433.85,80.62 L432.20,79.55 L430.55,80.62 L431.06,78.72 L429.54,77.49 L431.49,77.38Z" fill="#fff" stroke="#1a1a1a" stroke-width="1.0"/>
<path d="M437.50,75.17 L438.21,77.00 L440.16,77.10 L438.64,78.34 L439.15,80.23 L437.50,79.17 L435.85,80.23 L436.36,78.34 L434.84,77.10 L436.79,77.00Z" fill="#fff" stroke="#1a1a1a" stroke-width="1.0"/>
<path d="M442.80,75.81 L443.51,77.64 L445.46,77.75 L443.94,78.98 L444.45,80.88 L442.80,79.81 L441.15,80.88 L441.66,78.98 L440.14,77.75 L442.09,77.64Z" fill="#fff" stroke="#1a1a1a" stroke-width="1.0"/>
<path d="M448.10,76.46 L448.81,78.29 L450.76,78.39 L449.24,79.63 L449.75,81.52 L448.10,80.46 L446.45,81.52 L446.96,79.63 L445.44,78.39 L447.39,78.29Z" fill="#fff" stroke="#1a1a1a" stroke-width="1.0"/>
<path d="M453.40,76.49 L454.11,78.32 L456.06,78.42 L454.54,79.66 L455.05,81.55 L453.40,80.49 L451.75,81.55 L452.26,79.66 L450.74,78.42 L452.69,78.32Z" fill="#fff" stroke="#1a1a1a" stroke-width="1.0"/>
<path d="M458.70,76.96 L459.41,78.78 L461.36,78.89 L459.84,80.13 L460.35,82.02 L458.70,80.96 L457.05,82.02 L457.56,80.13 L456.04,78.89 L457.99,78.78Z" fill="#fff" stroke="#1a1a1a" stroke-width="1.0"/>
<path d="M464.00,76.59 L464.71,78.42 L466.66,78.53 L465.14,79.76 L465.65,81.66 L464.00,80.59 L462.35,81.66 L462.86,79.76 L461.34,78.53 L463.29,78.42Z" fill="#fff" stroke="#1a1a1a" stroke-width="1.0"/>
<path d="M469.30,77.14 L470.01,78.97 L471.96,79.08 L470.44,80.31 L470.95,82.21 L469.30,81.14 L467.65,82.21 L468.16,80.31 L466.64,79.08 L468.59,78.97Z" fill="#fff" stroke="#1a1a1a" stroke-width="1.0"/>
<path d="M474.60,77.31 L475.31,79.14 L477.26,79.25 L475.74,80.48 L476.25,82.38 L474.60,81.31 L472.95,82.38 L473.46,80.48 L471.94,79.25 L473.89,79.14Z" fill="#fff" stroke="#1a1a1a" stroke-width="1.0"/>
<path d="M479.90,77.91 L480.61,79.74 L482.56,79.85 L481.04,81.09 L481.55,82.98 L479.90,81.91 L478.25,82.98 L478.76,81.09 L477.24,79.85 L479.19,79.74Z" fill="#fff" stroke="#1a1a1a" stroke-width="1.0"/>
<path d="M485.20,78.30 L485.91,80.13 L487.86,80.24 L486.34,81.47 L486.85,83.37 L485.20,82.30 L483.55,83.37 L484.06,81.47 L482.54,80.24 L484.49,80.13Z" fill="#fff" stroke="#1a1a1a" stroke-width="1.0"/>
<path d="M490.50,78.22 L491.21,80.05 L493.16,80.15 L491.64,81.39 L492.15,83.28 L490.50,82.22 L488.85,83.28 L489.36,81.39 L487.84,80.15 L489.79,80.05Z" fill="#fff" stroke="#1a1a1a" stroke-width="1.0"/>
<path d="M495.80,78.74 L496.51,80.57 L498.46,80.68 L496.94,81.91 L497.45,83.81 L495.80,82.74 L494.15,83.81 L494.66,81.91 L493.14,80.68 L495.09,80.57Z" fill="#fff" stroke="#1a1a1a" stroke-width="1.0"/>
<path d="M501.10,79.17 L501.81,81.00 L503.76,81.10 L502.24,82.34 L502.75,84.23 L501.10,83.17 L499.45,84.23 L499.96,82.34 L498.44,81.10 L500.39,81.00Z" fill="#fff" stroke="#1a1a1a" stroke-width="1.0"/>
<path d="M506.40,80.16 L507.11,81.99 L509.06,82.10 L507.54,83.33 L508.05,85.23 L506.40,84.16 L504.75,85.23 L505.26,83.33 L503.74,82.10 L505.69,81.99Z" fill="#fff" stroke="#1a1a1a" stroke-width="1.0"/>
<path d="M511.70,80.53 L512.41,82.35 L514.36,82.46 L512.84,83.70 L513.35,85.59 L511.70,84.53 L510.05,85.59 L510.56,83.70 L509.04,82.46 L510.99,82.35Z" fill="#fff" stroke="#1a1a1a" stroke-width="1.0"/>
<path d="M517.00,80.52 L517.71,82.35 L519.66,82.46 L518.14,83.70 L518.65,85.59 L517.00,84.52 L515.35,85.59 L515.86,83.70 L514.34,82.46 L516.29,82.35Z" fill="#fff" stroke="#1a1a1a" stroke-width="1.0"/>
<path d="M522.30,81.52 L523.01,83.35 L524.96,83.45 L523.44,84.69 L523.95,86.58 L522.30,85.52 L520.65,86.58 L521.16,84.69 L519.64,83.45 L521.59,83.35Z" fill="#fff" stroke="#1a1a1a" stroke-width="1.0"/>
<path d="M527.60,81.33 L528.31,83.16 L530.26,83.27 L528.74,84.50 L529.25,86.40 L527.60,85.33 L525.95,86.40 L526.46,84.50 L524.94,83.27 L526.89,83.16Z" fill="#fff" stroke="#1a1a1a" stroke-width="1.0"/>
<path d="M532.90,81.11 L533.61,82.94 L535.56,83.04 L534.04,84.28 L534.55,86.17 L532.90,85.11 L531.25,86.17 L531.76,84.28 L530.24,83.04 L532.19,82.94Z" fill="#fff" stroke="#1a1a1a" stroke-width="1.0"/>
<path d="M538.20,80.11 L538.91,81.94 L540.86,82.04 L539.34,83.28 L539.85,85.17 L538.20,84.11 L536.55,85.17 L537.06,83.28 L535.54,82.04 L537.49,81.94Z" fill="#fff" stroke="#1a1a1a" stroke-width="1.0"/>
<path d="M543.50,79.34 L544.21,81.17 L546.16,81.28 L544.64,82.51 L545.15,84.41 L543.50,83.34 L541.85,84.41 L542.36,82.51 L540.84,81.28 L542.79,81.17Z" fill="#fff" stroke="#1a1a1a" stroke-width="1.0"/>
<path d="M548.80,79.34 L549.51,81.17 L551.46,81.27 L549.94,82.51 L550.45,84.40 L548.80,83.34 L547.15,84.40 L547.66,82.51 L546.14,81.27 L548.09,81.17Z" fill="#fff" stroke="#1a1a1a" stroke-width="1.0"/>
<path d="M554.10,78.11 L554.81,79.94 L556.76,80.05 L555.24,81.28 L555.75,83.18 L554.10,82.11 L552.45,83.18 L552.96,81.28 L551.44,80.05 L553.39,79.94Z" fill="#fff" stroke="#1a1a1a" stroke-width="1.0"/>
<path d="M559.40,77.37 L560.11,79.20 L562.06,79.31 L560.54,80.54 L561.05,82.44 L559.40,81.37 L557.75,82.44 L558.26,80.54 L556.74,79.31 L558.69,79.20Z" fill="#fff" stroke="#1a1a1a" stroke-width="1.0"/>
<path d="M564.70,76.68 L565.41,78.51 L567.36,78.61 L565.84,79.85 L566.35,81.74 L564.70,80.68 L563.05,81.74 L563.56,79.85 L562.04,78.61 L563.99,78.51Z" fill="#fff" stroke="#1a1a1a" stroke-width="1.0"/>
<path d="M570.00,75.28 L570.71,77.11 L572.66,77.22 L571.14,78.45 L571.65,80.35 L570.00,79.28 L568.35,80.35 L568.86,78.45 L567.34,77.22 L569.29,77.11Z" fill="#fff" stroke="#1a1a1a" stroke-width="1.0"/>
<path d="M575.30,73.51 L576.01,75.34 L577.96,75.44 L576.44,76.68 L576.95,78.57 L575.30,77.51 L573.65,78.57 L574.16,76.68 L572.64,75.44 L574.59,75.34Z" fill="#fff" stroke="#1a1a1a" stroke-width="1.0"/>
<path d="M580.60,72.87 L581.31,74.70 L583.26,74.80 L581.74,76.04 L582.25,77.93 L580.60,76.87 L578.95,77.93 L579.46,76.04 L577.94,74.80 L579.89,74.70Z" fill="#fff" stroke="#1a1a1a" stroke-width="1.0"/>
<path d="M585.90,71.35 L586.61,73.18 L588.56,73.28 L587.04,74.52 L587.55,76.41 L585.90,75.35 L584.25,76.41 L584.76,74.52 L583.24,73.28 L585.19,73.18Z" fill="#fff" stroke="#1a1a1a" stroke-width="1.0"/>
<path d="M591.20,70.28 L591.91,72.11 L593.86,72.21 L592.34,73.45 L592.85,75.34 L591.20,74.28 L589.55,75.34 L590.06,73.45 L588.54,72.21 L590.49,72.11Z" fill="#fff" stroke="#1a1a1a" stroke-width="1.0"/>
<path d="M596.50,68.75 L597.21,70.58 L599.16,70.68 L597.64,71.92 L598.15,73.81 L596.50,72.75 L594.85,73.81 L595.36,71.92 L593.84,70.68 L595.79,70.58Z" fill="#fff" stroke="#1a1a1a" stroke-width="1.0"/>
<path d="M601.80,68.29 L602.51,70.11 L604.46,70.22 L602.94,71.46 L603.45,73.35 L601.80,72.29 L600.15,73.35 L600.66,71.46 L599.14,70.22 L601.09,70.11Z" fill="#fff" stroke="#1a1a1a" stroke-width="1.0"/>
<path d="M607.10,67.04 L607.81,68.86 L609.76,68.97 L608.24,70.21 L608.75,72.10 L607.10,71.04 L605.45,72.10 L605.96,70.21 L604.44,68.97 L606.39,68.86Z" fill="#fff" stroke="#1a1a1a" stroke-width="1.0"/>
<path d="M612.40,66.21 L613.11,68.04 L615.06,68.14 L613.54,69.38 L614.05,71.27 L612.40,70.21 L610.75,71.27 L611.26,69.38 L609.74,68.14 L611.69,68.04Z" fill="#fff" stroke="#1a1a1a" stroke-width="1.0"/>
<path d="M617.70,65.35 L618.41,67.18 L620.36,67.28 L618.84,68.52 L619.35,70.41 L617.70,69.35 L616.05,70.41 L616.56,68.52 L615.04,67.28 L616.99,67.18Z" fill="#fff" stroke="#1a1a1a" stroke-width="1.0"/>
<path d="M623.00,64.45 L623.71,66.28 L625.66,66.39 L624.14,67.62 L624.65,69.52 L623.00,68.45 L621.35,69.52 L621.86,67.62 L620.34,66.39 L622.29,66.28Z" fill="#fff" stroke="#1a1a1a" stroke-width="1.0"/>
<path d="M628.30,64.08 L629.01,65.91 L630.96,66.02 L629.44,67.25 L629.95,69.15 L628.30,68.08 L626.65,69.15 L627.16,67.25 L625.64,66.02 L627.59,65.91Z" fill="#fff" stroke="#1a1a1a" stroke-width="1.0"/>
<path d="M633.60,63.51 L634.31,65.34 L636.26,65.44 L634.74,66.68 L635.25,68.57 L633.60,67.51 L631.95,68.57 L632.46,66.68 L630.94,65.44 L632.89,65.34Z" fill="#fff" stroke="#1a1a1a" stroke-width="1.0"/>
<path d="M638.90,63.06 L639.61,64.88 L641.56,64.99 L640.04,66.23 L640.55,68.12 L638.90,67.06 L637.25,68.12 L637.76,66.23 L636.24,64.99 L638.19,64.88Z" fill="#fff" stroke="#1a1a1a" stroke-width="1.0"/>
<path d="M644.20,62.55 L644.91,64.37 L646.86,64.48 L645.34,65.72 L645.85,67.61 L644.20,66.55 L642.55,67.61 L643.06,65.72 L641.54,64.48 L643.49,64.37Z" fill="#fff" stroke="#1a1a1a" stroke-width="1.0"/>
<path d="M649.50,62.29 L650.21,64.12 L652.16,64.22 L650.64,65.46 L651.15,67.35 L649.50,66.29 L647.85,67.35 L648.36,65.46 L646.84,64.22 L648.79,64.12Z" fill="#fff" stroke="#1a1a1a" stroke-width="1.0"/>
<path d="M654.80,62.08 L655.51,63.91 L657.46,64.02 L655.94,65.25 L656.45,67.15 L654.80,66.08 L653.15,67.15 L653.66,65.25 L652.14,64.02 L654.09,63.91Z" fill="#fff" stroke="#1a1a1a" stroke-width="1.0"/>
<path d="M660.10,61.88 L660.81,63.71 L662.76,63.82 L661.24,65.05 L661.75,66.95 L660.10,65.88 L658.45,66.95 L658.96,65.05 L657.44,63.82 L659.39,63.71Z" fill="#fff" stroke="#1a1a1a" stroke-width="1.0"/>
<path d="M665.40,62.92 L666.11,64.74 L668.06,64.85 L666.54,66.09 L667.05,67.98 L665.40,66.92 L663.75,67.98 L664.26,66.09 L662.74,64.85 L664.69,64.74Z" fill="#fff" stroke="#1a1a1a" stroke-width="1.0"/>
<path d="M668.70,62.95 L669.41,64.78 L671.36,64.88 L669.84,66.12 L670.35,68.01 L668.70,66.95 L667.05,68.01 L667.56,66.12 L666.04,64.88 L667.99,64.78Z" fill="#fff" stroke="#1a1a1a" stroke-width="1.0"/>
<path d="M405.70,37.34 L411.00,40.85 L416.30,43.92 L421.60,51.13 L426.90,61.48 L432.20,70.17 L437.50,76.91 L442.80,83.67 L448.10,87.25 L453.40,89.19 L458.70,89.86 L464.00,90.30 L469.30,89.93 L474.60,89.92 L479.90,90.60 L485.20,91.96 L490.50,92.63 L495.80,94.11 L501.10,95.37 L506.40,94.72 L511.70,95.36 L517.00,98.01 L522.30,99.60 L527.60,100.04 L532.90,99.54 L538.20,100.10 L543.50,99.17 L548.80,97.67 L554.10,95.43 L559.40,93.80 L564.70,93.79 L570.00,94.67 L575.30,96.83 L580.60,95.58 L585.90,94.30 L591.20,94.79 L596.50,94.43 L601.80,95.12 L607.10,95.09 L612.40,94.15 L617.70,93.80 L623.00,94.12 L628.30,94.54 L633.60,92.94 L638.90,89.82 L644.20,89.76 L649.50,89.75 L654.80,91.19 L660.10,93.55 L665.40,91.38 L668.70,91.16" fill="none" stroke="#4560ad" stroke-width="0.55"/>
<rect x="403.65" y="35.29" width="4.1" height="4.1" fill="#fff" stroke="#4560ad" stroke-width="0.9"/>
<rect x="408.95" y="38.80" width="4.1" height="4.1" fill="#fff" stroke="#4560ad" stroke-width="0.9"/>
<rect x="414.25" y="41.87" width="4.1" height="4.1" fill="#fff" stroke="#4560ad" stroke-width="0.9"/>
<rect x="419.55" y="49.08" width="4.1" height="4.1" fill="#fff" stroke="#4560ad" stroke-width="0.9"/>
<rect x="424.85" y="59.43" width="4.1" height="4.1" fill="#fff" stroke="#4560ad" stroke-width="0.9"/>
<rect x="430.15" y="68.12" width="4.1" height="4.1" fill="#fff" stroke="#4560ad" stroke-width="0.9"/>
<rect x="435.45" y="74.86" width="4.1" height="4.1" fill="#fff" stroke="#4560ad" stroke-width="0.9"/>
<rect x="440.75" y="81.62" width="4.1" height="4.1" fill="#fff" stroke="#4560ad" stroke-width="0.9"/>
<rect x="446.05" y="85.20" width="4.1" height="4.1" fill="#fff" stroke="#4560ad" stroke-width="0.9"/>
<rect x="451.35" y="87.14" width="4.1" height="4.1" fill="#fff" stroke="#4560ad" stroke-width="0.9"/>
<rect x="456.65" y="87.81" width="4.1" height="4.1" fill="#fff" stroke="#4560ad" stroke-width="0.9"/>
<rect x="461.95" y="88.25" width="4.1" height="4.1" fill="#fff" stroke="#4560ad" stroke-width="0.9"/>
<rect x="467.25" y="87.88" width="4.1" height="4.1" fill="#fff" stroke="#4560ad" stroke-width="0.9"/>
<rect x="472.55" y="87.87" width="4.1" height="4.1" fill="#fff" stroke="#4560ad" stroke-width="0.9"/>
<rect x="477.85" y="88.55" width="4.1" height="4.1" fill="#fff" stroke="#4560ad" stroke-width="0.9"/>
<rect x="483.15" y="89.91" width="4.1" height="4.1" fill="#fff" stroke="#4560ad" stroke-width="0.9"/>
<rect x="488.45" y="90.58" width="4.1" height="4.1" fill="#fff" stroke="#4560ad" stroke-width="0.9"/>
<rect x="493.75" y="92.06" width="4.1" height="4.1" fill="#fff" stroke="#4560ad" stroke-width="0.9"/>
<rect x="499.05" y="93.32" width="4.1" height="4.1" fill="#fff" stroke="#4560ad" stroke-width="0.9"/>
<rect x="504.35" y="92.67" width="4.1" height="4.1" fill="#fff" stroke="#4560ad" stroke-width="0.9"/>
<rect x="509.65" y="93.31" width="4.1" height="4.1" fill="#fff" stroke="#4560ad" stroke-width="0.9"/>
<rect x="514.95" y="95.96" width="4.1" height="4.1" fill="#fff" stroke="#4560ad" stroke-width="0.9"/>
<rect x="520.25" y="97.55" width="4.1" height="4.1" fill="#fff" stroke="#4560ad" stroke-width="0.9"/>
<rect x="525.55" y="97.99" width="4.1" height="4.1" fill="#fff" stroke="#4560ad" stroke-width="0.9"/>
<rect x="530.85" y="97.49" width="4.1" height="4.1" fill="#fff" stroke="#4560ad" stroke-width="0.9"/>
<rect x="536.15" y="98.05" width="4.1" height="4.1" fill="#fff" stroke="#4560ad" stroke-width="0.9"/>
<rect x="541.45" y="97.12" width="4.1" height="4.1" fill="#fff" stroke="#4560ad" stroke-width="0.9"/>
<rect x="546.75" y="95.62" width="4.1" height="4.1" fill="#fff" stroke="#4560ad" stroke-width="0.9"/>
<rect x="552.05" y="93.38" width="4.1" height="4.1" fill="#fff" stroke="#4560ad" stroke-width="0.9"/>
<rect x="557.35" y="91.75" width="4.1" height="4.1" fill="#fff" stroke="#4560ad" stroke-width="0.9"/>
<rect x="562.65" y="91.74" width="4.1" height="4.1" fill="#fff" stroke="#4560ad" stroke-width="0.9"/>
<rect x="567.95" y="92.62" width="4.1" height="4.1" fill="#fff" stroke="#4560ad" stroke-width="0.9"/>
<rect x="573.25" y="94.78" width="4.1" height="4.1" fill="#fff" stroke="#4560ad" stroke-width="0.9"/>
<rect x="578.55" y="93.53" width="4.1" height="4.1" fill="#fff" stroke="#4560ad" stroke-width="0.9"/>
<rect x="583.85" y="92.25" width="4.1" height="4.1" fill="#fff" stroke="#4560ad" stroke-width="0.9"/>
<rect x="589.15" y="92.74" width="4.1" height="4.1" fill="#fff" stroke="#4560ad" stroke-width="0.9"/>
<rect x="594.45" y="92.38" width="4.1" height="4.1" fill="#fff" stroke="#4560ad" stroke-width="0.9"/>
<rect x="599.75" y="93.07" width="4.1" height="4.1" fill="#fff" stroke="#4560ad" stroke-width="0.9"/>
<rect x="605.05" y="93.04" width="4.1" height="4.1" fill="#fff" stroke="#4560ad" stroke-width="0.9"/>
<rect x="610.35" y="92.10" width="4.1" height="4.1" fill="#fff" stroke="#4560ad" stroke-width="0.9"/>
<rect x="615.65" y="91.75" width="4.1" height="4.1" fill="#fff" stroke="#4560ad" stroke-width="0.9"/>
<rect x="620.95" y="92.07" width="4.1" height="4.1" fill="#fff" stroke="#4560ad" stroke-width="0.9"/>
<rect x="626.25" y="92.49" width="4.1" height="4.1" fill="#fff" stroke="#4560ad" stroke-width="0.9"/>
<rect x="631.55" y="90.89" width="4.1" height="4.1" fill="#fff" stroke="#4560ad" stroke-width="0.9"/>
<rect x="636.85" y="87.77" width="4.1" height="4.1" fill="#fff" stroke="#4560ad" stroke-width="0.9"/>
<rect x="642.15" y="87.71" width="4.1" height="4.1" fill="#fff" stroke="#4560ad" stroke-width="0.9"/>
<rect x="647.45" y="87.70" width="4.1" height="4.1" fill="#fff" stroke="#4560ad" stroke-width="0.9"/>
<rect x="652.75" y="89.14" width="4.1" height="4.1" fill="#fff" stroke="#4560ad" stroke-width="0.9"/>
<rect x="658.05" y="91.50" width="4.1" height="4.1" fill="#fff" stroke="#4560ad" stroke-width="0.9"/>
<rect x="663.35" y="89.33" width="4.1" height="4.1" fill="#fff" stroke="#4560ad" stroke-width="0.9"/>
<rect x="666.65" y="89.11" width="4.1" height="4.1" fill="#fff" stroke="#4560ad" stroke-width="0.9"/>
<path d="M405.70,76.95 L411.00,63.51 L416.30,54.77 L421.60,49.68 L426.90,49.23 L432.20,49.36 L437.50,49.42 L442.80,49.92 L448.10,49.84 L453.40,50.29 L458.70,50.28 L464.00,50.50 L469.30,50.92 L474.60,51.37 L479.90,51.15 L485.20,51.42 L490.50,51.88 L495.80,52.99 L501.10,53.68 L506.40,54.49 L511.70,55.71 L517.00,55.83 L522.30,57.00 L527.60,57.34 L532.90,57.96 L538.20,58.69 L543.50,59.56 L548.80,60.61 L554.10,60.98 L559.40,62.67 L564.70,64.29 L570.00,65.27 L575.30,66.51 L580.60,67.62 L585.90,69.03 L591.20,70.87 L596.50,72.94 L601.80,72.87 L607.10,72.70 L612.40,73.37 L617.70,75.34 L623.00,77.57 L628.30,79.71 L633.60,81.42 L638.90,82.49 L644.20,83.97 L649.50,85.19 L654.80,86.64 L660.10,87.90 L665.40,89.00 L668.70,91.67" fill="none" stroke="#4560ad" stroke-width="0.55"/>
<circle cx="405.70" cy="76.95" r="2.3" fill="#fff" stroke="#4560ad" stroke-width="0.9"/>
<circle cx="411.00" cy="63.51" r="2.3" fill="#fff" stroke="#4560ad" stroke-width="0.9"/>
<circle cx="416.30" cy="54.77" r="2.3" fill="#fff" stroke="#4560ad" stroke-width="0.9"/>
<circle cx="421.60" cy="49.68" r="2.3" fill="#fff" stroke="#4560ad" stroke-width="0.9"/>
<circle cx="426.90" cy="49.23" r="2.3" fill="#fff" stroke="#4560ad" stroke-width="0.9"/>
<circle cx="432.20" cy="49.36" r="2.3" fill="#fff" stroke="#4560ad" stroke-width="0.9"/>
<circle cx="437.50" cy="49.42" r="2.3" fill="#fff" stroke="#4560ad" stroke-width="0.9"/>
<circle cx="442.80" cy="49.92" r="2.3" fill="#fff" stroke="#4560ad" stroke-width="0.9"/>
<circle cx="448.10" cy="49.84" r="2.3" fill="#fff" stroke="#4560ad" stroke-width="0.9"/>
<circle cx="453.40" cy="50.29" r="2.3" fill="#fff" stroke="#4560ad" stroke-width="0.9"/>
<circle cx="458.70" cy="50.28" r="2.3" fill="#fff" stroke="#4560ad" stroke-width="0.9"/>
<circle cx="464.00" cy="50.50" r="2.3" fill="#fff" stroke="#4560ad" stroke-width="0.9"/>
<circle cx="469.30" cy="50.92" r="2.3" fill="#fff" stroke="#4560ad" stroke-width="0.9"/>
<circle cx="474.60" cy="51.37" r="2.3" fill="#fff" stroke="#4560ad" stroke-width="0.9"/>
<circle cx="479.90" cy="51.15" r="2.3" fill="#fff" stroke="#4560ad" stroke-width="0.9"/>
<circle cx="485.20" cy="51.42" r="2.3" fill="#fff" stroke="#4560ad" stroke-width="0.9"/>
<circle cx="490.50" cy="51.88" r="2.3" fill="#fff" stroke="#4560ad" stroke-width="0.9"/>
<circle cx="495.80" cy="52.99" r="2.3" fill="#fff" stroke="#4560ad" stroke-width="0.9"/>
<circle cx="501.10" cy="53.68" r="2.3" fill="#fff" stroke="#4560ad" stroke-width="0.9"/>
<circle cx="506.40" cy="54.49" r="2.3" fill="#fff" stroke="#4560ad" stroke-width="0.9"/>
<circle cx="511.70" cy="55.71" r="2.3" fill="#fff" stroke="#4560ad" stroke-width="0.9"/>
<circle cx="517.00" cy="55.83" r="2.3" fill="#fff" stroke="#4560ad" stroke-width="0.9"/>
<circle cx="522.30" cy="57.00" r="2.3" fill="#fff" stroke="#4560ad" stroke-width="0.9"/>
<circle cx="527.60" cy="57.34" r="2.3" fill="#fff" stroke="#4560ad" stroke-width="0.9"/>
<circle cx="532.90" cy="57.96" r="2.3" fill="#fff" stroke="#4560ad" stroke-width="0.9"/>
<circle cx="538.20" cy="58.69" r="2.3" fill="#fff" stroke="#4560ad" stroke-width="0.9"/>
<circle cx="543.50" cy="59.56" r="2.3" fill="#fff" stroke="#4560ad" stroke-width="0.9"/>
<circle cx="548.80" cy="60.61" r="2.3" fill="#fff" stroke="#4560ad" stroke-width="0.9"/>
<circle cx="554.10" cy="60.98" r="2.3" fill="#fff" stroke="#4560ad" stroke-width="0.9"/>
<circle cx="559.40" cy="62.67" r="2.3" fill="#fff" stroke="#4560ad" stroke-width="0.9"/>
<circle cx="564.70" cy="64.29" r="2.3" fill="#fff" stroke="#4560ad" stroke-width="0.9"/>
<circle cx="570.00" cy="65.27" r="2.3" fill="#fff" stroke="#4560ad" stroke-width="0.9"/>
<circle cx="575.30" cy="66.51" r="2.3" fill="#fff" stroke="#4560ad" stroke-width="0.9"/>
<circle cx="580.60" cy="67.62" r="2.3" fill="#fff" stroke="#4560ad" stroke-width="0.9"/>
<circle cx="585.90" cy="69.03" r="2.3" fill="#fff" stroke="#4560ad" stroke-width="0.9"/>
<circle cx="591.20" cy="70.87" r="2.3" fill="#fff" stroke="#4560ad" stroke-width="0.9"/>
<circle cx="596.50" cy="72.94" r="2.3" fill="#fff" stroke="#4560ad" stroke-width="0.9"/>
<circle cx="601.80" cy="72.87" r="2.3" fill="#fff" stroke="#4560ad" stroke-width="0.9"/>
<circle cx="607.10" cy="72.70" r="2.3" fill="#fff" stroke="#4560ad" stroke-width="0.9"/>
<circle cx="612.40" cy="73.37" r="2.3" fill="#fff" stroke="#4560ad" stroke-width="0.9"/>
<circle cx="617.70" cy="75.34" r="2.3" fill="#fff" stroke="#4560ad" stroke-width="0.9"/>
<circle cx="623.00" cy="77.57" r="2.3" fill="#fff" stroke="#4560ad" stroke-width="0.9"/>
<circle cx="628.30" cy="79.71" r="2.3" fill="#fff" stroke="#4560ad" stroke-width="0.9"/>
<circle cx="633.60" cy="81.42" r="2.3" fill="#fff" stroke="#4560ad" stroke-width="0.9"/>
<circle cx="638.90" cy="82.49" r="2.3" fill="#fff" stroke="#4560ad" stroke-width="0.9"/>
<circle cx="644.20" cy="83.97" r="2.3" fill="#fff" stroke="#4560ad" stroke-width="0.9"/>
<circle cx="649.50" cy="85.19" r="2.3" fill="#fff" stroke="#4560ad" stroke-width="0.9"/>
<circle cx="654.80" cy="86.64" r="2.3" fill="#fff" stroke="#4560ad" stroke-width="0.9"/>
<circle cx="660.10" cy="87.90" r="2.3" fill="#fff" stroke="#4560ad" stroke-width="0.9"/>
<circle cx="665.40" cy="89.00" r="2.3" fill="#fff" stroke="#4560ad" stroke-width="0.9"/>
<circle cx="668.70" cy="91.67" r="2.3" fill="#fff" stroke="#4560ad" stroke-width="0.9"/>
<path d="M405.70,242.45 L411.00,241.15 L416.30,240.66 L421.60,240.78 L426.90,240.52 L432.20,240.58 L437.50,240.87 L442.80,240.55 L448.10,240.71 L453.40,240.63 L458.70,240.62 L464.00,240.63 L469.30,240.50 L474.60,240.74 L479.90,240.44 L485.20,240.49 L490.50,240.39 L495.80,240.48 L501.10,240.53 L506.40,240.72 L511.70,240.50 L517.00,240.39 L522.30,240.44 L527.60,240.72 L532.90,240.34 L538.20,240.56 L543.50,240.45 L548.80,240.56 L554.10,240.42 L559.40,240.55 L564.70,240.47 L570.00,240.52 L575.30,240.61 L580.60,240.47 L585.90,240.29 L591.20,240.25 L596.50,240.59 L601.80,240.40 L607.10,240.28 L612.40,240.57 L617.70,240.41 L623.00,240.47 L628.30,240.52 L633.60,240.27 L638.90,240.29 L644.20,240.49 L649.50,240.19 L654.80,240.43 L660.10,240.15 L665.40,240.38 L668.70,240.38" fill="none" stroke="#4560ad" stroke-width="0.55"/>
<circle cx="405.70" cy="242.45" r="2.3" fill="#fff" stroke="#4560ad" stroke-width="0.9"/>
<circle cx="411.00" cy="241.15" r="2.3" fill="#fff" stroke="#4560ad" stroke-width="0.9"/>
<circle cx="416.30" cy="240.66" r="2.3" fill="#fff" stroke="#4560ad" stroke-width="0.9"/>
<circle cx="421.60" cy="240.78" r="2.3" fill="#fff" stroke="#4560ad" stroke-width="0.9"/>
<circle cx="426.90" cy="240.52" r="2.3" fill="#fff" stroke="#4560ad" stroke-width="0.9"/>
<circle cx="432.20" cy="240.58" r="2.3" fill="#fff" stroke="#4560ad" stroke-width="0.9"/>
<circle cx="437.50" cy="240.87" r="2.3" fill="#fff" stroke="#4560ad" stroke-width="0.9"/>
<circle cx="442.80" cy="240.55" r="2.3" fill="#fff" stroke="#4560ad" stroke-width="0.9"/>
<circle cx="448.10" cy="240.71" r="2.3" fill="#fff" stroke="#4560ad" stroke-width="0.9"/>
<circle cx="453.40" cy="240.63" r="2.3" fill="#fff" stroke="#4560ad" stroke-width="0.9"/>
<circle cx="458.70" cy="240.62" r="2.3" fill="#fff" stroke="#4560ad" stroke-width="0.9"/>
<circle cx="464.00" cy="240.63" r="2.3" fill="#fff" stroke="#4560ad" stroke-width="0.9"/>
<circle cx="469.30" cy="240.50" r="2.3" fill="#fff" stroke="#4560ad" stroke-width="0.9"/>
<circle cx="474.60" cy="240.74" r="2.3" fill="#fff" stroke="#4560ad" stroke-width="0.9"/>
<circle cx="479.90" cy="240.44" r="2.3" fill="#fff" stroke="#4560ad" stroke-width="0.9"/>
<circle cx="485.20" cy="240.49" r="2.3" fill="#fff" stroke="#4560ad" stroke-width="0.9"/>
<circle cx="490.50" cy="240.39" r="2.3" fill="#fff" stroke="#4560ad" stroke-width="0.9"/>
<circle cx="495.80" cy="240.48" r="2.3" fill="#fff" stroke="#4560ad" stroke-width="0.9"/>
<circle cx="501.10" cy="240.53" r="2.3" fill="#fff" stroke="#4560ad" stroke-width="0.9"/>
<circle cx="506.40" cy="240.72" r="2.3" fill="#fff" stroke="#4560ad" stroke-width="0.9"/>
<circle cx="511.70" cy="240.50" r="2.3" fill="#fff" stroke="#4560ad" stroke-width="0.9"/>
<circle cx="517.00" cy="240.39" r="2.3" fill="#fff" stroke="#4560ad" stroke-width="0.9"/>
<circle cx="522.30" cy="240.44" r="2.3" fill="#fff" stroke="#4560ad" stroke-width="0.9"/>
<circle cx="527.60" cy="240.72" r="2.3" fill="#fff" stroke="#4560ad" stroke-width="0.9"/>
<circle cx="532.90" cy="240.34" r="2.3" fill="#fff" stroke="#4560ad" stroke-width="0.9"/>
<circle cx="538.20" cy="240.56" r="2.3" fill="#fff" stroke="#4560ad" stroke-width="0.9"/>
<circle cx="543.50" cy="240.45" r="2.3" fill="#fff" stroke="#4560ad" stroke-width="0.9"/>
<circle cx="548.80" cy="240.56" r="2.3" fill="#fff" stroke="#4560ad" stroke-width="0.9"/>
<circle cx="554.10" cy="240.42" r="2.3" fill="#fff" stroke="#4560ad" stroke-width="0.9"/>
<circle cx="559.40" cy="240.55" r="2.3" fill="#fff" stroke="#4560ad" stroke-width="0.9"/>
<circle cx="564.70" cy="240.47" r="2.3" fill="#fff" stroke="#4560ad" stroke-width="0.9"/>
<circle cx="570.00" cy="240.52" r="2.3" fill="#fff" stroke="#4560ad" stroke-width="0.9"/>
<circle cx="575.30" cy="240.61" r="2.3" fill="#fff" stroke="#4560ad" stroke-width="0.9"/>
<circle cx="580.60" cy="240.47" r="2.3" fill="#fff" stroke="#4560ad" stroke-width="0.9"/>
<circle cx="585.90" cy="240.29" r="2.3" fill="#fff" stroke="#4560ad" stroke-width="0.9"/>
<circle cx="591.20" cy="240.25" r="2.3" fill="#fff" stroke="#4560ad" stroke-width="0.9"/>
<circle cx="596.50" cy="240.59" r="2.3" fill="#fff" stroke="#4560ad" stroke-width="0.9"/>
<circle cx="601.80" cy="240.40" r="2.3" fill="#fff" stroke="#4560ad" stroke-width="0.9"/>
<circle cx="607.10" cy="240.28" r="2.3" fill="#fff" stroke="#4560ad" stroke-width="0.9"/>
<circle cx="612.40" cy="240.57" r="2.3" fill="#fff" stroke="#4560ad" stroke-width="0.9"/>
<circle cx="617.70" cy="240.41" r="2.3" fill="#fff" stroke="#4560ad" stroke-width="0.9"/>
<circle cx="623.00" cy="240.47" r="2.3" fill="#fff" stroke="#4560ad" stroke-width="0.9"/>
<circle cx="628.30" cy="240.52" r="2.3" fill="#fff" stroke="#4560ad" stroke-width="0.9"/>
<circle cx="633.60" cy="240.27" r="2.3" fill="#fff" stroke="#4560ad" stroke-width="0.9"/>
<circle cx="638.90" cy="240.29" r="2.3" fill="#fff" stroke="#4560ad" stroke-width="0.9"/>
<circle cx="644.20" cy="240.49" r="2.3" fill="#fff" stroke="#4560ad" stroke-width="0.9"/>
<circle cx="649.50" cy="240.19" r="2.3" fill="#fff" stroke="#4560ad" stroke-width="0.9"/>
<circle cx="654.80" cy="240.43" r="2.3" fill="#fff" stroke="#4560ad" stroke-width="0.9"/>
<circle cx="660.10" cy="240.15" r="2.3" fill="#fff" stroke="#4560ad" stroke-width="0.9"/>
<circle cx="665.40" cy="240.38" r="2.3" fill="#fff" stroke="#4560ad" stroke-width="0.9"/>
<circle cx="668.70" cy="240.38" r="2.3" fill="#fff" stroke="#4560ad" stroke-width="0.9"/>
<path d="M405.70,257.97 L411.00,257.90 L416.30,257.71 L421.60,258.27 L426.90,257.51 L432.20,257.83 L437.50,258.07 L442.80,257.34 L448.10,257.64 L453.40,257.62 L458.70,257.08 L464.00,257.27 L469.30,257.46 L474.60,257.18 L479.90,257.32 L485.20,256.79 L490.50,256.78 L495.80,256.61 L501.10,256.85 L506.40,257.10 L511.70,256.76 L517.00,256.83 L522.30,256.45 L527.60,256.68 L532.90,256.13 L538.20,256.24 L543.50,256.51 L548.80,256.52 L554.10,256.24 L559.40,255.93 L564.70,256.04 L570.00,255.96 L575.30,255.98 L580.60,256.36 L585.90,255.84 L591.20,256.35 L596.50,256.31 L601.80,255.61 L607.10,255.83 L612.40,255.89 L617.70,255.48 L623.00,255.76 L628.30,256.11 L633.60,255.44 L638.90,255.79 L644.20,255.37 L649.50,255.70 L654.80,255.91 L660.10,255.32 L665.40,255.13 L668.70,255.17" fill="none" stroke="#1a1a1a" stroke-width="0.55"/>
<path d="M405.70,255.17 L406.41,257.00 L408.36,257.11 L406.84,258.34 L407.35,260.24 L405.70,259.17 L404.05,260.24 L404.56,258.34 L403.04,257.11 L404.99,257.00Z" fill="#fff" stroke="#1a1a1a" stroke-width="1.0"/>
<path d="M411.00,255.10 L411.71,256.93 L413.66,257.03 L412.14,258.27 L412.65,260.16 L411.00,259.10 L409.35,260.16 L409.86,258.27 L408.34,257.03 L410.29,256.93Z" fill="#fff" stroke="#1a1a1a" stroke-width="1.0"/>
<path d="M416.30,254.91 L417.01,256.74 L418.96,256.85 L417.44,258.08 L417.95,259.98 L416.30,258.91 L414.65,259.98 L415.16,258.08 L413.64,256.85 L415.59,256.74Z" fill="#fff" stroke="#1a1a1a" stroke-width="1.0"/>
<path d="M421.60,255.47 L422.31,257.30 L424.26,257.41 L422.74,258.64 L423.25,260.54 L421.60,259.47 L419.95,260.54 L420.46,258.64 L418.94,257.41 L420.89,257.30Z" fill="#fff" stroke="#1a1a1a" stroke-width="1.0"/>
<path d="M426.90,254.71 L427.61,256.54 L429.56,256.64 L428.04,257.88 L428.55,259.77 L426.90,258.71 L425.25,259.77 L425.76,257.88 L424.24,256.64 L426.19,256.54Z" fill="#fff" stroke="#1a1a1a" stroke-width="1.0"/>
<path d="M432.20,255.03 L432.91,256.86 L434.86,256.96 L433.34,258.20 L433.85,260.09 L432.20,259.03 L430.55,260.09 L431.06,258.20 L429.54,256.96 L431.49,256.86Z" fill="#fff" stroke="#1a1a1a" stroke-width="1.0"/>
<path d="M437.50,255.27 L438.21,257.10 L440.16,257.20 L438.64,258.44 L439.15,260.33 L437.50,259.27 L435.85,260.33 L436.36,258.44 L434.84,257.20 L436.79,257.10Z" fill="#fff" stroke="#1a1a1a" stroke-width="1.0"/>
<path d="M442.80,254.54 L443.51,256.37 L445.46,256.47 L443.94,257.71 L444.45,259.60 L442.80,258.54 L441.15,259.60 L441.66,257.71 L440.14,256.47 L442.09,256.37Z" fill="#fff" stroke="#1a1a1a" stroke-width="1.0"/>
<path d="M448.10,254.84 L448.81,256.67 L450.76,256.78 L449.24,258.01 L449.75,259.91 L448.10,258.84 L446.45,259.91 L446.96,258.01 L445.44,256.78 L447.39,256.67Z" fill="#fff" stroke="#1a1a1a" stroke-width="1.0"/>
<path d="M453.40,254.82 L454.11,256.65 L456.06,256.75 L454.54,257.99 L455.05,259.88 L453.40,258.82 L451.75,259.88 L452.26,257.99 L450.74,256.75 L452.69,256.65Z" fill="#fff" stroke="#1a1a1a" stroke-width="1.0"/>
<path d="M458.70,254.28 L459.41,256.11 L461.36,256.21 L459.84,257.45 L460.35,259.35 L458.70,258.28 L457.05,259.35 L457.56,257.45 L456.04,256.21 L457.99,256.11Z" fill="#fff" stroke="#1a1a1a" stroke-width="1.0"/>
<path d="M464.00,254.47 L464.71,256.30 L466.66,256.41 L465.14,257.65 L465.65,259.54 L464.00,258.47 L462.35,259.54 L462.86,257.65 L461.34,256.41 L463.29,256.30Z" fill="#fff" stroke="#1a1a1a" stroke-width="1.0"/>
<path d="M469.30,254.66 L470.01,256.49 L471.96,256.59 L470.44,257.83 L470.95,259.72 L469.30,258.66 L467.65,259.72 L468.16,257.83 L466.64,256.59 L468.59,256.49Z" fill="#fff" stroke="#1a1a1a" stroke-width="1.0"/>
<path d="M474.60,254.38 L475.31,256.21 L477.26,256.32 L475.74,257.55 L476.25,259.45 L474.60,258.38 L472.95,259.45 L473.46,257.55 L471.94,256.32 L473.89,256.21Z" fill="#fff" stroke="#1a1a1a" stroke-width="1.0"/>
<path d="M479.90,254.52 L480.61,256.35 L482.56,256.46 L481.04,257.70 L481.55,259.59 L479.90,258.52 L478.25,259.59 L478.76,257.70 L477.24,256.46 L479.19,256.35Z" fill="#fff" stroke="#1a1a1a" stroke-width="1.0"/>
<path d="M485.20,253.99 L485.91,255.82 L487.86,255.93 L486.34,257.17 L486.85,259.06 L485.20,257.99 L483.55,259.06 L484.06,257.17 L482.54,255.93 L484.49,255.82Z" fill="#fff" stroke="#1a1a1a" stroke-width="1.0"/>
<path d="M490.50,253.98 L491.21,255.81 L493.16,255.92 L491.64,257.15 L492.15,259.05 L490.50,257.98 L488.85,259.05 L489.36,257.15 L487.84,255.92 L489.79,255.81Z" fill="#fff" stroke="#1a1a1a" stroke-width="1.0"/>
<path d="M495.80,253.81 L496.51,255.64 L498.46,255.74 L496.94,256.98 L497.45,258.87 L495.80,257.81 L494.15,258.87 L494.66,256.98 L493.14,255.74 L495.09,255.64Z" fill="#fff" stroke="#1a1a1a" stroke-width="1.0"/>
<path d="M501.10,254.05 L501.81,255.88 L503.76,255.98 L502.24,257.22 L502.75,259.11 L501.10,258.05 L499.45,259.11 L499.96,257.22 L498.44,255.98 L500.39,255.88Z" fill="#fff" stroke="#1a1a1a" stroke-width="1.0"/>
<path d="M506.40,254.30 L507.11,256.13 L509.06,256.24 L507.54,257.48 L508.05,259.37 L506.40,258.30 L504.75,259.37 L505.26,257.48 L503.74,256.24 L505.69,256.13Z" fill="#fff" stroke="#1a1a1a" stroke-width="1.0"/>
<path d="M511.70,253.96 L512.41,255.79 L514.36,255.90 L512.84,257.13 L513.35,259.03 L511.70,257.96 L510.05,259.03 L510.56,257.13 L509.04,255.90 L510.99,255.79Z" fill="#fff" stroke="#1a1a1a" stroke-width="1.0"/>
<path d="M517.00,254.03 L517.71,255.86 L519.66,255.97 L518.14,257.20 L518.65,259.10 L517.00,258.03 L515.35,259.10 L515.86,257.20 L514.34,255.97 L516.29,255.86Z" fill="#fff" stroke="#1a1a1a" stroke-width="1.0"/>
<path d="M522.30,253.65 L523.01,255.47 L524.96,255.58 L523.44,256.82 L523.95,258.71 L522.30,257.65 L520.65,258.71 L521.16,256.82 L519.64,255.58 L521.59,255.47Z" fill="#fff" stroke="#1a1a1a" stroke-width="1.0"/>
<path d="M527.60,253.88 L528.31,255.71 L530.26,255.81 L528.74,257.05 L529.25,258.94 L527.60,257.88 L525.95,258.94 L526.46,257.05 L524.94,255.81 L526.89,255.71Z" fill="#fff" stroke="#1a1a1a" stroke-width="1.0"/>
<path d="M532.90,253.33 L533.61,255.16 L535.56,255.26 L534.04,256.50 L534.55,258.39 L532.90,257.33 L531.25,258.39 L531.76,256.50 L530.24,255.26 L532.19,255.16Z" fill="#fff" stroke="#1a1a1a" stroke-width="1.0"/>
<path d="M538.20,253.44 L538.91,255.27 L540.86,255.38 L539.34,256.61 L539.85,258.51 L538.20,257.44 L536.55,258.51 L537.06,256.61 L535.54,255.38 L537.49,255.27Z" fill="#fff" stroke="#1a1a1a" stroke-width="1.0"/>
<path d="M543.50,253.71 L544.21,255.54 L546.16,255.65 L544.64,256.88 L545.15,258.78 L543.50,257.71 L541.85,258.78 L542.36,256.88 L540.84,255.65 L542.79,255.54Z" fill="#fff" stroke="#1a1a1a" stroke-width="1.0"/>
<path d="M548.80,253.72 L549.51,255.54 L551.46,255.65 L549.94,256.89 L550.45,258.78 L548.80,257.72 L547.15,258.78 L547.66,256.89 L546.14,255.65 L548.09,255.54Z" fill="#fff" stroke="#1a1a1a" stroke-width="1.0"/>
<path d="M554.10,253.44 L554.81,255.26 L556.76,255.37 L555.24,256.61 L555.75,258.50 L554.10,257.44 L552.45,258.50 L552.96,256.61 L551.44,255.37 L553.39,255.26Z" fill="#fff" stroke="#1a1a1a" stroke-width="1.0"/>
<path d="M559.40,253.13 L560.11,254.96 L562.06,255.07 L560.54,256.30 L561.05,258.20 L559.40,257.13 L557.75,258.20 L558.26,256.30 L556.74,255.07 L558.69,254.96Z" fill="#fff" stroke="#1a1a1a" stroke-width="1.0"/>
<path d="M564.70,253.24 L565.41,255.07 L567.36,255.17 L565.84,256.41 L566.35,258.30 L564.70,257.24 L563.05,258.30 L563.56,256.41 L562.04,255.17 L563.99,255.07Z" fill="#fff" stroke="#1a1a1a" stroke-width="1.0"/>
<path d="M570.00,253.16 L570.71,254.98 L572.66,255.09 L571.14,256.33 L571.65,258.22 L570.00,257.16 L568.35,258.22 L568.86,256.33 L567.34,255.09 L569.29,254.98Z" fill="#fff" stroke="#1a1a1a" stroke-width="1.0"/>
<path d="M575.30,253.18 L576.01,255.00 L577.96,255.11 L576.44,256.35 L576.95,258.24 L575.30,257.18 L573.65,258.24 L574.16,256.35 L572.64,255.11 L574.59,255.00Z" fill="#fff" stroke="#1a1a1a" stroke-width="1.0"/>
<path d="M580.60,253.56 L581.31,255.39 L583.26,255.50 L581.74,256.73 L582.25,258.63 L580.60,257.56 L578.95,258.63 L579.46,256.73 L577.94,255.50 L579.89,255.39Z" fill="#fff" stroke="#1a1a1a" stroke-width="1.0"/>
<path d="M585.90,253.04 L586.61,254.87 L588.56,254.97 L587.04,256.21 L587.55,258.10 L585.90,257.04 L584.25,258.10 L584.76,256.21 L583.24,254.97 L585.19,254.87Z" fill="#fff" stroke="#1a1a1a" stroke-width="1.0"/>
<path d="M591.20,253.55 L591.91,255.38 L593.86,255.48 L592.34,256.72 L592.85,258.61 L591.20,257.55 L589.55,258.61 L590.06,256.72 L588.54,255.48 L590.49,255.38Z" fill="#fff" stroke="#1a1a1a" stroke-width="1.0"/>
<path d="M596.50,253.51 L597.21,255.34 L599.16,255.44 L597.64,256.68 L598.15,258.57 L596.50,257.51 L594.85,258.57 L595.36,256.68 L593.84,255.44 L595.79,255.34Z" fill="#fff" stroke="#1a1a1a" stroke-width="1.0"/>
<path d="M601.80,252.81 L602.51,254.64 L604.46,254.75 L602.94,255.98 L603.45,257.88 L601.80,256.81 L600.15,257.88 L600.66,255.98 L599.14,254.75 L601.09,254.64Z" fill="#fff" stroke="#1a1a1a" stroke-width="1.0"/>
<path d="M607.10,253.03 L607.81,254.86 L609.76,254.97 L608.24,256.20 L608.75,258.10 L607.10,257.03 L605.45,258.10 L605.96,256.20 L604.44,254.97 L606.39,254.86Z" fill="#fff" stroke="#1a1a1a" stroke-width="1.0"/>
<path d="M612.40,253.09 L613.11,254.92 L615.06,255.02 L613.54,256.26 L614.05,258.15 L612.40,257.09 L610.75,258.15 L611.26,256.26 L609.74,255.02 L611.69,254.92Z" fill="#fff" stroke="#1a1a1a" stroke-width="1.0"/>
<path d="M617.70,252.68 L618.41,254.50 L620.36,254.61 L618.84,255.85 L619.35,257.74 L617.70,256.68 L616.05,257.74 L616.56,255.85 L615.04,254.61 L616.99,254.50Z" fill="#fff" stroke="#1a1a1a" stroke-width="1.0"/>
<path d="M623.00,252.96 L623.71,254.79 L625.66,254.89 L624.14,256.13 L624.65,258.02 L623.00,256.96 L621.35,258.02 L621.86,256.13 L620.34,254.89 L622.29,254.79Z" fill="#fff" stroke="#1a1a1a" stroke-width="1.0"/>
<path d="M628.30,253.31 L629.01,255.14 L630.96,255.24 L629.44,256.48 L629.95,258.37 L628.30,257.31 L626.65,258.37 L627.16,256.48 L625.64,255.24 L627.59,255.14Z" fill="#fff" stroke="#1a1a1a" stroke-width="1.0"/>
<path d="M633.60,252.64 L634.31,254.46 L636.26,254.57 L634.74,255.81 L635.25,257.70 L633.60,256.64 L631.95,257.70 L632.46,255.81 L630.94,254.57 L632.89,254.46Z" fill="#fff" stroke="#1a1a1a" stroke-width="1.0"/>
<path d="M638.90,252.99 L639.61,254.82 L641.56,254.92 L640.04,256.16 L640.55,258.05 L638.90,256.99 L637.25,258.05 L637.76,256.16 L636.24,254.92 L638.19,254.82Z" fill="#fff" stroke="#1a1a1a" stroke-width="1.0"/>
<path d="M644.20,252.57 L644.91,254.40 L646.86,254.50 L645.34,255.74 L645.85,257.63 L644.20,256.57 L642.55,257.63 L643.06,255.74 L641.54,254.50 L643.49,254.40Z" fill="#fff" stroke="#1a1a1a" stroke-width="1.0"/>
<path d="M649.50,252.90 L650.21,254.73 L652.16,254.83 L650.64,256.07 L651.15,257.96 L649.50,256.90 L647.85,257.96 L648.36,256.07 L646.84,254.83 L648.79,254.73Z" fill="#fff" stroke="#1a1a1a" stroke-width="1.0"/>
<path d="M654.80,253.11 L655.51,254.94 L657.46,255.05 L655.94,256.29 L656.45,258.18 L654.80,257.11 L653.15,258.18 L653.66,256.29 L652.14,255.05 L654.09,254.94Z" fill="#fff" stroke="#1a1a1a" stroke-width="1.0"/>
<path d="M660.10,252.52 L660.81,254.35 L662.76,254.46 L661.24,255.70 L661.75,257.59 L660.10,256.52 L658.45,257.59 L658.96,255.70 L657.44,254.46 L659.39,254.35Z" fill="#fff" stroke="#1a1a1a" stroke-width="1.0"/>
<path d="M665.40,252.33 L666.11,254.16 L668.06,254.27 L666.54,255.50 L667.05,257.40 L665.40,256.33 L663.75,257.40 L664.26,255.50 L662.74,254.27 L664.69,254.16Z" fill="#fff" stroke="#1a1a1a" stroke-width="1.0"/>
<path d="M668.70,252.37 L669.41,254.20 L671.36,254.30 L669.84,255.54 L670.35,257.43 L668.70,256.37 L667.05,257.43 L667.56,255.54 L666.04,254.30 L667.99,254.20Z" fill="#fff" stroke="#1a1a1a" stroke-width="1.0"/>
<path d="M405.70,281.64 L411.00,276.11 L416.30,274.55 L421.60,274.03 L426.90,274.30 L432.20,274.08 L437.50,273.73 L442.80,273.17 L448.10,273.35 L453.40,273.09 L458.70,272.93 L464.00,273.38 L469.30,273.31 L474.60,272.44 L479.90,272.99 L485.20,272.68 L490.50,272.40 L495.80,272.21 L501.10,272.42 L506.40,272.14 L511.70,272.21 L517.00,272.09 L522.30,271.56 L527.60,272.00 L532.90,272.14 L538.20,272.10 L543.50,271.79 L548.80,271.30 L554.10,271.24 L559.40,271.32 L564.70,271.93 L570.00,271.39 L575.30,271.41 L580.60,271.81 L585.90,271.31 L591.20,271.47 L596.50,271.35 L601.80,271.03 L607.10,271.41 L612.40,271.59 L617.70,271.01 L623.00,271.03 L628.30,271.16 L633.60,270.83 L638.90,271.16 L644.20,271.39 L649.50,271.23 L654.80,271.11 L660.10,271.33 L665.40,270.74 L668.70,271.06" fill="none" stroke="#e8312b" stroke-width="0.55"/>
<rect x="403.65" y="279.59" width="4.1" height="4.1" fill="#fff" stroke="#e8312b" stroke-width="0.9"/>
<rect x="408.95" y="274.06" width="4.1" height="4.1" fill="#fff" stroke="#e8312b" stroke-width="0.9"/>
<rect x="414.25" y="272.50" width="4.1" height="4.1" fill="#fff" stroke="#e8312b" stroke-width="0.9"/>
<rect x="419.55" y="271.98" width="4.1" height="4.1" fill="#fff" stroke="#e8312b" stroke-width="0.9"/>
<rect x="424.85" y="272.25" width="4.1" height="4.1" fill="#fff" stroke="#e8312b" stroke-width="0.9"/>
<rect x="430.15" y="272.03" width="4.1" height="4.1" fill="#fff" stroke="#e8312b" stroke-width="0.9"/>
<rect x="435.45" y="271.68" width="4.1" height="4.1" fill="#fff" stroke="#e8312b" stroke-width="0.9"/>
<rect x="440.75" y="271.12" width="4.1" height="4.1" fill="#fff" stroke="#e8312b" stroke-width="0.9"/>
<rect x="446.05" y="271.30" width="4.1" height="4.1" fill="#fff" stroke="#e8312b" stroke-width="0.9"/>
<rect x="451.35" y="271.04" width="4.1" height="4.1" fill="#fff" stroke="#e8312b" stroke-width="0.9"/>
<rect x="456.65" y="270.88" width="4.1" height="4.1" fill="#fff" stroke="#e8312b" stroke-width="0.9"/>
<rect x="461.95" y="271.33" width="4.1" height="4.1" fill="#fff" stroke="#e8312b" stroke-width="0.9"/>
<rect x="467.25" y="271.26" width="4.1" height="4.1" fill="#fff" stroke="#e8312b" stroke-width="0.9"/>
<rect x="472.55" y="270.39" width="4.1" height="4.1" fill="#fff" stroke="#e8312b" stroke-width="0.9"/>
<rect x="477.85" y="270.94" width="4.1" height="4.1" fill="#fff" stroke="#e8312b" stroke-width="0.9"/>
<rect x="483.15" y="270.63" width="4.1" height="4.1" fill="#fff" stroke="#e8312b" stroke-width="0.9"/>
<rect x="488.45" y="270.35" width="4.1" height="4.1" fill="#fff" stroke="#e8312b" stroke-width="0.9"/>
<rect x="493.75" y="270.16" width="4.1" height="4.1" fill="#fff" stroke="#e8312b" stroke-width="0.9"/>
<rect x="499.05" y="270.37" width="4.1" height="4.1" fill="#fff" stroke="#e8312b" stroke-width="0.9"/>
<rect x="504.35" y="270.09" width="4.1" height="4.1" fill="#fff" stroke="#e8312b" stroke-width="0.9"/>
<rect x="509.65" y="270.16" width="4.1" height="4.1" fill="#fff" stroke="#e8312b" stroke-width="0.9"/>
<rect x="514.95" y="270.04" width="4.1" height="4.1" fill="#fff" stroke="#e8312b" stroke-width="0.9"/>
<rect x="520.25" y="269.51" width="4.1" height="4.1" fill="#fff" stroke="#e8312b" stroke-width="0.9"/>
<rect x="525.55" y="269.95" width="4.1" height="4.1" fill="#fff" stroke="#e8312b" stroke-width="0.9"/>
<rect x="530.85" y="270.09" width="4.1" height="4.1" fill="#fff" stroke="#e8312b" stroke-width="0.9"/>
<rect x="536.15" y="270.05" width="4.1" height="4.1" fill="#fff" stroke="#e8312b" stroke-width="0.9"/>
<rect x="541.45" y="269.74" width="4.1" height="4.1" fill="#fff" stroke="#e8312b" stroke-width="0.9"/>
<rect x="546.75" y="269.25" width="4.1" height="4.1" fill="#fff" stroke="#e8312b" stroke-width="0.9"/>
<rect x="552.05" y="269.19" width="4.1" height="4.1" fill="#fff" stroke="#e8312b" stroke-width="0.9"/>
<rect x="557.35" y="269.27" width="4.1" height="4.1" fill="#fff" stroke="#e8312b" stroke-width="0.9"/>
<rect x="562.65" y="269.88" width="4.1" height="4.1" fill="#fff" stroke="#e8312b" stroke-width="0.9"/>
<rect x="567.95" y="269.34" width="4.1" height="4.1" fill="#fff" stroke="#e8312b" stroke-width="0.9"/>
<rect x="573.25" y="269.36" width="4.1" height="4.1" fill="#fff" stroke="#e8312b" stroke-width="0.9"/>
<rect x="578.55" y="269.76" width="4.1" height="4.1" fill="#fff" stroke="#e8312b" stroke-width="0.9"/>
<rect x="583.85" y="269.26" width="4.1" height="4.1" fill="#fff" stroke="#e8312b" stroke-width="0.9"/>
<rect x="589.15" y="269.42" width="4.1" height="4.1" fill="#fff" stroke="#e8312b" stroke-width="0.9"/>
<rect x="594.45" y="269.30" width="4.1" height="4.1" fill="#fff" stroke="#e8312b" stroke-width="0.9"/>
<rect x="599.75" y="268.98" width="4.1" height="4.1" fill="#fff" stroke="#e8312b" stroke-width="0.9"/>
<rect x="605.05" y="269.36" width="4.1" height="4.1" fill="#fff" stroke="#e8312b" stroke-width="0.9"/>
<rect x="610.35" y="269.54" width="4.1" height="4.1" fill="#fff" stroke="#e8312b" stroke-width="0.9"/>
<rect x="615.65" y="268.96" width="4.1" height="4.1" fill="#fff" stroke="#e8312b" stroke-width="0.9"/>
<rect x="620.95" y="268.98" width="4.1" height="4.1" fill="#fff" stroke="#e8312b" stroke-width="0.9"/>
<rect x="626.25" y="269.11" width="4.1" height="4.1" fill="#fff" stroke="#e8312b" stroke-width="0.9"/>
<rect x="631.55" y="268.78" width="4.1" height="4.1" fill="#fff" stroke="#e8312b" stroke-width="0.9"/>
<rect x="636.85" y="269.11" width="4.1" height="4.1" fill="#fff" stroke="#e8312b" stroke-width="0.9"/>
<rect x="642.15" y="269.34" width="4.1" height="4.1" fill="#fff" stroke="#e8312b" stroke-width="0.9"/>
<rect x="647.45" y="269.18" width="4.1" height="4.1" fill="#fff" stroke="#e8312b" stroke-width="0.9"/>
<rect x="652.75" y="269.06" width="4.1" height="4.1" fill="#fff" stroke="#e8312b" stroke-width="0.9"/>
<rect x="658.05" y="269.28" width="4.1" height="4.1" fill="#fff" stroke="#e8312b" stroke-width="0.9"/>
<rect x="663.35" y="268.69" width="4.1" height="4.1" fill="#fff" stroke="#e8312b" stroke-width="0.9"/>
<rect x="666.65" y="269.01" width="4.1" height="4.1" fill="#fff" stroke="#e8312b" stroke-width="0.9"/>
<path d="M405.70,280.59 L411.00,277.21 L416.30,275.82 L421.60,275.13 L426.90,274.84 L432.20,274.83 L437.50,274.47 L442.80,274.68 L448.10,274.73 L453.40,274.82 L458.70,274.22 L464.00,274.34 L469.30,274.13 L474.60,274.66 L479.90,274.52 L485.20,273.96 L490.50,274.67 L495.80,274.61 L501.10,274.32 L506.40,274.25 L511.70,273.84 L517.00,273.68 L522.30,274.04 L527.60,273.75 L532.90,274.07 L538.20,274.32 L543.50,274.36 L548.80,274.92 L554.10,275.12 L559.40,275.65 L564.70,275.60 L570.00,275.91 L575.30,276.01 L580.60,276.35 L585.90,276.40 L591.20,276.47 L596.50,277.26 L601.80,277.49 L607.10,277.60 L612.40,277.72 L617.70,277.63 L623.00,277.79 L628.30,278.07 L633.60,278.13 L638.90,278.91 L644.20,278.85 L649.50,279.43 L654.80,279.30 L660.10,279.98 L665.40,280.12 L668.70,279.59" fill="none" stroke="#e8312b" stroke-width="0.55"/>
<path d="M403.70,277.99 L408.20,280.59 L403.70,283.19 Z" fill="#fff" stroke="#e8312b" stroke-width="0.9" stroke-linejoin="miter"/>
<path d="M409.00,274.61 L413.50,277.21 L409.00,279.81 Z" fill="#fff" stroke="#e8312b" stroke-width="0.9" stroke-linejoin="miter"/>
<path d="M414.30,273.22 L418.80,275.82 L414.30,278.42 Z" fill="#fff" stroke="#e8312b" stroke-width="0.9" stroke-linejoin="miter"/>
<path d="M419.60,272.53 L424.10,275.13 L419.60,277.73 Z" fill="#fff" stroke="#e8312b" stroke-width="0.9" stroke-linejoin="miter"/>
<path d="M424.90,272.24 L429.40,274.84 L424.90,277.44 Z" fill="#fff" stroke="#e8312b" stroke-width="0.9" stroke-linejoin="miter"/>
<path d="M430.20,272.23 L434.70,274.83 L430.20,277.43 Z" fill="#fff" stroke="#e8312b" stroke-width="0.9" stroke-linejoin="miter"/>
<path d="M435.50,271.87 L440.00,274.47 L435.50,277.07 Z" fill="#fff" stroke="#e8312b" stroke-width="0.9" stroke-linejoin="miter"/>
<path d="M440.80,272.08 L445.30,274.68 L440.80,277.28 Z" fill="#fff" stroke="#e8312b" stroke-width="0.9" stroke-linejoin="miter"/>
<path d="M446.10,272.13 L450.60,274.73 L446.10,277.33 Z" fill="#fff" stroke="#e8312b" stroke-width="0.9" stroke-linejoin="miter"/>
<path d="M451.40,272.22 L455.90,274.82 L451.40,277.42 Z" fill="#fff" stroke="#e8312b" stroke-width="0.9" stroke-linejoin="miter"/>
<path d="M456.70,271.62 L461.20,274.22 L456.70,276.82 Z" fill="#fff" stroke="#e8312b" stroke-width="0.9" stroke-linejoin="miter"/>
<path d="M462.00,271.74 L466.50,274.34 L462.00,276.94 Z" fill="#fff" stroke="#e8312b" stroke-width="0.9" stroke-linejoin="miter"/>
<path d="M467.30,271.53 L471.80,274.13 L467.30,276.73 Z" fill="#fff" stroke="#e8312b" stroke-width="0.9" stroke-linejoin="miter"/>
<path d="M472.60,272.06 L477.10,274.66 L472.60,277.26 Z" fill="#fff" stroke="#e8312b" stroke-width="0.9" stroke-linejoin="miter"/>
<path d="M477.90,271.92 L482.40,274.52 L477.90,277.12 Z" fill="#fff" stroke="#e8312b" stroke-width="0.9" stroke-linejoin="miter"/>
<path d="M483.20,271.36 L487.70,273.96 L483.20,276.56 Z" fill="#fff" stroke="#e8312b" stroke-width="0.9" stroke-linejoin="miter"/>
<path d="M488.50,272.07 L493.00,274.67 L488.50,277.27 Z" fill="#fff" stroke="#e8312b" stroke-width="0.9" stroke-linejoin="miter"/>
<path d="M493.80,272.01 L498.30,274.61 L493.80,277.21 Z" fill="#fff" stroke="#e8312b" stroke-width="0.9" stroke-linejoin="miter"/>
<path d="M499.10,271.72 L503.60,274.32 L499.10,276.92 Z" fill="#fff" stroke="#e8312b" stroke-width="0.9" stroke-linejoin="miter"/>
<path d="M504.40,271.65 L508.90,274.25 L504.40,276.85 Z" fill="#fff" stroke="#e8312b" stroke-width="0.9" stroke-linejoin="miter"/>
<path d="M509.70,271.24 L514.20,273.84 L509.70,276.44 Z" fill="#fff" stroke="#e8312b" stroke-width="0.9" stroke-linejoin="miter"/>
<path d="M515.00,271.08 L519.50,273.68 L515.00,276.28 Z" fill="#fff" stroke="#e8312b" stroke-width="0.9" stroke-linejoin="miter"/>
<path d="M520.30,271.44 L524.80,274.04 L520.30,276.64 Z" fill="#fff" stroke="#e8312b" stroke-width="0.9" stroke-linejoin="miter"/>
<path d="M525.60,271.15 L530.10,273.75 L525.60,276.35 Z" fill="#fff" stroke="#e8312b" stroke-width="0.9" stroke-linejoin="miter"/>
<path d="M530.90,271.47 L535.40,274.07 L530.90,276.67 Z" fill="#fff" stroke="#e8312b" stroke-width="0.9" stroke-linejoin="miter"/>
<path d="M536.20,271.72 L540.70,274.32 L536.20,276.92 Z" fill="#fff" stroke="#e8312b" stroke-width="0.9" stroke-linejoin="miter"/>
<path d="M541.50,271.76 L546.00,274.36 L541.50,276.96 Z" fill="#fff" stroke="#e8312b" stroke-width="0.9" stroke-linejoin="miter"/>
<path d="M546.80,272.32 L551.30,274.92 L546.80,277.52 Z" fill="#fff" stroke="#e8312b" stroke-width="0.9" stroke-linejoin="miter"/>
<path d="M552.10,272.52 L556.60,275.12 L552.10,277.72 Z" fill="#fff" stroke="#e8312b" stroke-width="0.9" stroke-linejoin="miter"/>
<path d="M557.40,273.05 L561.90,275.65 L557.40,278.25 Z" fill="#fff" stroke="#e8312b" stroke-width="0.9" stroke-linejoin="miter"/>
<path d="M562.70,273.00 L567.20,275.60 L562.70,278.20 Z" fill="#fff" stroke="#e8312b" stroke-width="0.9" stroke-linejoin="miter"/>
<path d="M568.00,273.31 L572.50,275.91 L568.00,278.51 Z" fill="#fff" stroke="#e8312b" stroke-width="0.9" stroke-linejoin="miter"/>
<path d="M573.30,273.41 L577.80,276.01 L573.30,278.61 Z" fill="#fff" stroke="#e8312b" stroke-width="0.9" stroke-linejoin="miter"/>
<path d="M578.60,273.75 L583.10,276.35 L578.60,278.95 Z" fill="#fff" stroke="#e8312b" stroke-width="0.9" stroke-linejoin="miter"/>
<path d="M583.90,273.80 L588.40,276.40 L583.90,279.00 Z" fill="#fff" stroke="#e8312b" stroke-width="0.9" stroke-linejoin="miter"/>
<path d="M589.20,273.87 L593.70,276.47 L589.20,279.07 Z" fill="#fff" stroke="#e8312b" stroke-width="0.9" stroke-linejoin="miter"/>
<path d="M594.50,274.66 L599.00,277.26 L594.50,279.86 Z" fill="#fff" stroke="#e8312b" stroke-width="0.9" stroke-linejoin="miter"/>
<path d="M599.80,274.89 L604.30,277.49 L599.80,280.09 Z" fill="#fff" stroke="#e8312b" stroke-width="0.9" stroke-linejoin="miter"/>
<path d="M605.10,275.00 L609.60,277.60 L605.10,280.20 Z" fill="#fff" stroke="#e8312b" stroke-width="0.9" stroke-linejoin="miter"/>
<path d="M610.40,275.12 L614.90,277.72 L610.40,280.32 Z" fill="#fff" stroke="#e8312b" stroke-width="0.9" stroke-linejoin="miter"/>
<path d="M615.70,275.03 L620.20,277.63 L615.70,280.23 Z" fill="#fff" stroke="#e8312b" stroke-width="0.9" stroke-linejoin="miter"/>
<path d="M621.00,275.19 L625.50,277.79 L621.00,280.39 Z" fill="#fff" stroke="#e8312b" stroke-width="0.9" stroke-linejoin="miter"/>
<path d="M626.30,275.47 L630.80,278.07 L626.30,280.67 Z" fill="#fff" stroke="#e8312b" stroke-width="0.9" stroke-linejoin="miter"/>
<path d="M631.60,275.53 L636.10,278.13 L631.60,280.73 Z" fill="#fff" stroke="#e8312b" stroke-width="0.9" stroke-linejoin="miter"/>
<path d="M636.90,276.31 L641.40,278.91 L636.90,281.51 Z" fill="#fff" stroke="#e8312b" stroke-width="0.9" stroke-linejoin="miter"/>
<path d="M642.20,276.25 L646.70,278.85 L642.20,281.45 Z" fill="#fff" stroke="#e8312b" stroke-width="0.9" stroke-linejoin="miter"/>
<path d="M647.50,276.83 L652.00,279.43 L647.50,282.03 Z" fill="#fff" stroke="#e8312b" stroke-width="0.9" stroke-linejoin="miter"/>
<path d="M652.80,276.70 L657.30,279.30 L652.80,281.90 Z" fill="#fff" stroke="#e8312b" stroke-width="0.9" stroke-linejoin="miter"/>
<path d="M658.10,277.38 L662.60,279.98 L658.10,282.58 Z" fill="#fff" stroke="#e8312b" stroke-width="0.9" stroke-linejoin="miter"/>
<path d="M663.40,277.52 L667.90,280.12 L663.40,282.72 Z" fill="#fff" stroke="#e8312b" stroke-width="0.9" stroke-linejoin="miter"/>
<path d="M666.70,276.99 L671.20,279.59 L666.70,282.19 Z" fill="#fff" stroke="#e8312b" stroke-width="0.9" stroke-linejoin="miter"/>
<path d="M405.70,311.08 L411.00,334.63 L416.30,340.61 L421.60,342.86 L426.90,345.03 L432.20,347.52 L437.50,348.13 L442.80,349.17 L448.10,349.81 L453.40,350.64 L458.70,350.91 L464.00,351.49 L469.30,350.13 L474.60,350.25 L479.90,349.81 L485.20,350.41 L490.50,349.56 L495.80,350.39 L501.10,350.14 L506.40,351.24 L511.70,351.38 L517.00,351.94 L522.30,352.83 L527.60,351.75 L532.90,351.53 L538.20,352.12 L543.50,351.83 L548.80,353.11 L554.10,355.41 L559.40,354.90 L564.70,353.65 L570.00,353.56 L575.30,352.96 L580.60,354.37 L585.90,355.05 L591.20,353.54 L596.50,352.77 L601.80,353.61 L607.10,354.36 L612.40,356.17 L617.70,356.84 L623.00,356.47 L628.30,356.91 L633.60,356.07 L638.90,358.94 L644.20,360.39 L649.50,361.84 L654.80,359.47 L660.10,359.09 L665.40,355.91" fill="none" stroke="#4560ad" stroke-width="0.55"/>
<rect x="403.65" y="309.03" width="4.1" height="4.1" fill="#fff" stroke="#4560ad" stroke-width="0.9"/>
<rect x="408.95" y="332.58" width="4.1" height="4.1" fill="#fff" stroke="#4560ad" stroke-width="0.9"/>
<rect x="414.25" y="338.56" width="4.1" height="4.1" fill="#fff" stroke="#4560ad" stroke-width="0.9"/>
<rect x="419.55" y="340.81" width="4.1" height="4.1" fill="#fff" stroke="#4560ad" stroke-width="0.9"/>
<rect x="424.85" y="342.98" width="4.1" height="4.1" fill="#fff" stroke="#4560ad" stroke-width="0.9"/>
<rect x="430.15" y="345.47" width="4.1" height="4.1" fill="#fff" stroke="#4560ad" stroke-width="0.9"/>
<rect x="435.45" y="346.08" width="4.1" height="4.1" fill="#fff" stroke="#4560ad" stroke-width="0.9"/>
<rect x="440.75" y="347.12" width="4.1" height="4.1" fill="#fff" stroke="#4560ad" stroke-width="0.9"/>
<rect x="446.05" y="347.76" width="4.1" height="4.1" fill="#fff" stroke="#4560ad" stroke-width="0.9"/>
<rect x="451.35" y="348.59" width="4.1" height="4.1" fill="#fff" stroke="#4560ad" stroke-width="0.9"/>
<rect x="456.65" y="348.86" width="4.1" height="4.1" fill="#fff" stroke="#4560ad" stroke-width="0.9"/>
<rect x="461.95" y="349.44" width="4.1" height="4.1" fill="#fff" stroke="#4560ad" stroke-width="0.9"/>
<rect x="467.25" y="348.08" width="4.1" height="4.1" fill="#fff" stroke="#4560ad" stroke-width="0.9"/>
<rect x="472.55" y="348.20" width="4.1" height="4.1" fill="#fff" stroke="#4560ad" stroke-width="0.9"/>
<rect x="477.85" y="347.76" width="4.1" height="4.1" fill="#fff" stroke="#4560ad" stroke-width="0.9"/>
<rect x="483.15" y="348.36" width="4.1" height="4.1" fill="#fff" stroke="#4560ad" stroke-width="0.9"/>
<rect x="488.45" y="347.51" width="4.1" height="4.1" fill="#fff" stroke="#4560ad" stroke-width="0.9"/>
<rect x="493.75" y="348.34" width="4.1" height="4.1" fill="#fff" stroke="#4560ad" stroke-width="0.9"/>
<rect x="499.05" y="348.09" width="4.1" height="4.1" fill="#fff" stroke="#4560ad" stroke-width="0.9"/>
<rect x="504.35" y="349.19" width="4.1" height="4.1" fill="#fff" stroke="#4560ad" stroke-width="0.9"/>
<rect x="509.65" y="349.33" width="4.1" height="4.1" fill="#fff" stroke="#4560ad" stroke-width="0.9"/>
<rect x="514.95" y="349.89" width="4.1" height="4.1" fill="#fff" stroke="#4560ad" stroke-width="0.9"/>
<rect x="520.25" y="350.78" width="4.1" height="4.1" fill="#fff" stroke="#4560ad" stroke-width="0.9"/>
<rect x="525.55" y="349.70" width="4.1" height="4.1" fill="#fff" stroke="#4560ad" stroke-width="0.9"/>
<rect x="530.85" y="349.48" width="4.1" height="4.1" fill="#fff" stroke="#4560ad" stroke-width="0.9"/>
<rect x="536.15" y="350.07" width="4.1" height="4.1" fill="#fff" stroke="#4560ad" stroke-width="0.9"/>
<rect x="541.45" y="349.78" width="4.1" height="4.1" fill="#fff" stroke="#4560ad" stroke-width="0.9"/>
<rect x="546.75" y="351.06" width="4.1" height="4.1" fill="#fff" stroke="#4560ad" stroke-width="0.9"/>
<rect x="552.05" y="353.36" width="4.1" height="4.1" fill="#fff" stroke="#4560ad" stroke-width="0.9"/>
<rect x="557.35" y="352.85" width="4.1" height="4.1" fill="#fff" stroke="#4560ad" stroke-width="0.9"/>
<rect x="562.65" y="351.60" width="4.1" height="4.1" fill="#fff" stroke="#4560ad" stroke-width="0.9"/>
<rect x="567.95" y="351.51" width="4.1" height="4.1" fill="#fff" stroke="#4560ad" stroke-width="0.9"/>
<rect x="573.25" y="350.91" width="4.1" height="4.1" fill="#fff" stroke="#4560ad" stroke-width="0.9"/>
<rect x="578.55" y="352.32" width="4.1" height="4.1" fill="#fff" stroke="#4560ad" stroke-width="0.9"/>
<rect x="583.85" y="353.00" width="4.1" height="4.1" fill="#fff" stroke="#4560ad" stroke-width="0.9"/>
<rect x="589.15" y="351.49" width="4.1" height="4.1" fill="#fff" stroke="#4560ad" stroke-width="0.9"/>
<rect x="594.45" y="350.72" width="4.1" height="4.1" fill="#fff" stroke="#4560ad" stroke-width="0.9"/>
<rect x="599.75" y="351.56" width="4.1" height="4.1" fill="#fff" stroke="#4560ad" stroke-width="0.9"/>
<rect x="605.05" y="352.31" width="4.1" height="4.1" fill="#fff" stroke="#4560ad" stroke-width="0.9"/>
<rect x="610.35" y="354.12" width="4.1" height="4.1" fill="#fff" stroke="#4560ad" stroke-width="0.9"/>
<rect x="615.65" y="354.79" width="4.1" height="4.1" fill="#fff" stroke="#4560ad" stroke-width="0.9"/>
<rect x="620.95" y="354.42" width="4.1" height="4.1" fill="#fff" stroke="#4560ad" stroke-width="0.9"/>
<rect x="626.25" y="354.86" width="4.1" height="4.1" fill="#fff" stroke="#4560ad" stroke-width="0.9"/>
<rect x="631.55" y="354.02" width="4.1" height="4.1" fill="#fff" stroke="#4560ad" stroke-width="0.9"/>
<rect x="636.85" y="356.89" width="4.1" height="4.1" fill="#fff" stroke="#4560ad" stroke-width="0.9"/>
<rect x="642.15" y="358.34" width="4.1" height="4.1" fill="#fff" stroke="#4560ad" stroke-width="0.9"/>
<rect x="647.45" y="359.79" width="4.1" height="4.1" fill="#fff" stroke="#4560ad" stroke-width="0.9"/>
<rect x="652.75" y="357.42" width="4.1" height="4.1" fill="#fff" stroke="#4560ad" stroke-width="0.9"/>
<rect x="658.05" y="357.04" width="4.1" height="4.1" fill="#fff" stroke="#4560ad" stroke-width="0.9"/>
<rect x="663.35" y="353.86" width="4.1" height="4.1" fill="#fff" stroke="#4560ad" stroke-width="0.9"/>
<line x1="411.00" y1="17.50" x2="424.50" y2="17.50" stroke="#1a1a1a" stroke-width="0.7"/>
<path d="M417.75,14.70 L418.46,16.53 L420.41,16.63 L418.89,17.87 L419.40,19.77 L417.75,18.70 L416.10,19.77 L416.61,17.87 L415.09,16.63 L417.04,16.53Z" fill="#fff" stroke="#1a1a1a" stroke-width="1.0"/>
<text transform="translate(426.50,20.60) scale(1,1.08)" x="0" y="0" font-size="9.1" fill="#231f20" stroke="#231f20" stroke-width="0.14">Na<tspan font-size="5.3" dy="2.5">2</tspan><tspan dy="-2.5">PS</tspan><tspan font-size="5.3" dy="2.5">4</tspan><tspan font-size="6.6" dy="-4">−</tspan></text>
<line x1="467.60" y1="17.50" x2="481.10" y2="17.50" stroke="#4560ad" stroke-width="0.7"/>
<circle cx="474.35" cy="17.50" r="2.3" fill="#fff" stroke="#4560ad" stroke-width="0.9"/>
<text transform="translate(483.10,20.60) scale(1,1.08)" x="0" y="0" font-size="9.1" fill="#231f20" stroke="#231f20" stroke-width="0.14">NaS<tspan font-size="6.6" dy="-1.5">−</tspan></text>
<line x1="519.30" y1="17.50" x2="532.80" y2="17.50" stroke="#4560ad" stroke-width="0.7"/>
<rect x="524.00" y="15.45" width="4.1" height="4.1" fill="#fff" stroke="#4560ad" stroke-width="0.9"/>
<text transform="translate(538.20,20.60) scale(1,1.08)" x="0" y="0" font-size="9.1" fill="#231f20" stroke="#231f20" stroke-width="0.14">Na<tspan font-size="5.3" dy="2.5">3</tspan><tspan dy="-2.5">P</tspan><tspan font-size="5.3" dy="2.5">4</tspan><tspan font-size="6.6" dy="-4">−</tspan></text>
<line x1="412.00" y1="31.25" x2="425.50" y2="31.25" stroke="#e8312b" stroke-width="0.7"/>
<path d="M416.75,28.65 L421.25,31.25 L416.75,33.85 Z" fill="#fff" stroke="#e8312b" stroke-width="0.9" stroke-linejoin="miter"/>
<text transform="translate(427.50,33.85) scale(1,1.08)" x="0" y="0" font-size="9.1" fill="#231f20" stroke="#231f20" stroke-width="0.14">P<tspan font-size="5.3" dy="2.5">2</tspan><tspan dy="-2.5">O</tspan><tspan font-size="5.3" dy="2.5">7</tspan><tspan font-size="6.6" dy="-4">−</tspan></text>
<line x1="467.60" y1="31.25" x2="481.10" y2="31.25" stroke="#e8312b" stroke-width="0.7"/>
<rect x="472.30" y="29.20" width="4.1" height="4.1" fill="#fff" stroke="#e8312b" stroke-width="0.9"/>
<text transform="translate(483.10,33.85) scale(1,1.08)" x="0" y="0" font-size="9.1" fill="#231f20" stroke="#231f20" stroke-width="0.14">Na<tspan font-size="5.3" dy="2.5">2</tspan><tspan dy="-2.5">PO</tspan><tspan font-size="5.3" dy="2.5">4</tspan><tspan font-size="6.6" dy="-4">−</tspan></text>
<text transform="translate(607.50,19.90) scale(1,1.08)" x="0" y="0" font-size="9.1" fill="#231f20" stroke="#231f20" stroke-width="0.14">NaINa<tspan font-size="5.3" dy="2.5">3</tspan><tspan dy="-2.5">PS</tspan><tspan font-size="5.3" dy="2.5">4</tspan></text>
<line x1="411.00" y1="202.50" x2="424.50" y2="202.50" stroke="#1a1a1a" stroke-width="0.7"/>
<path d="M417.75,199.70 L418.46,201.53 L420.41,201.63 L418.89,202.87 L419.40,204.77 L417.75,203.70 L416.10,204.77 L416.61,202.87 L415.09,201.63 L417.04,201.53Z" fill="#fff" stroke="#1a1a1a" stroke-width="1.0"/>
<text transform="translate(426.50,205.60) scale(1,1.08)" x="0" y="0" font-size="9.1" fill="#231f20" stroke="#231f20" stroke-width="0.14">Na<tspan font-size="5.3" dy="2.5">2</tspan><tspan dy="-2.5">PS</tspan><tspan font-size="5.3" dy="2.5">4</tspan><tspan font-size="6.6" dy="-4">−</tspan></text>
<line x1="467.60" y1="202.50" x2="481.10" y2="202.50" stroke="#4560ad" stroke-width="0.7"/>
<circle cx="474.35" cy="202.50" r="2.3" fill="#fff" stroke="#4560ad" stroke-width="0.9"/>
<text transform="translate(483.10,205.60) scale(1,1.08)" x="0" y="0" font-size="9.1" fill="#231f20" stroke="#231f20" stroke-width="0.14">NaS<tspan font-size="6.6" dy="-1.5">−</tspan></text>
<line x1="519.30" y1="202.50" x2="532.80" y2="202.50" stroke="#4560ad" stroke-width="0.7"/>
<rect x="524.00" y="200.45" width="4.1" height="4.1" fill="#fff" stroke="#4560ad" stroke-width="0.9"/>
<text transform="translate(538.20,205.60) scale(1,1.08)" x="0" y="0" font-size="9.1" fill="#231f20" stroke="#231f20" stroke-width="0.14">Na<tspan font-size="5.3" dy="2.5">3</tspan><tspan dy="-2.5">P</tspan><tspan font-size="5.3" dy="2.5">4</tspan><tspan font-size="6.6" dy="-4">−</tspan></text>
<line x1="412.00" y1="215.50" x2="425.50" y2="215.50" stroke="#e8312b" stroke-width="0.7"/>
<path d="M416.75,212.90 L421.25,215.50 L416.75,218.10 Z" fill="#fff" stroke="#e8312b" stroke-width="0.9" stroke-linejoin="miter"/>
<text transform="translate(427.50,218.10) scale(1,1.08)" x="0" y="0" font-size="9.1" fill="#231f20" stroke="#231f20" stroke-width="0.14">P<tspan font-size="5.3" dy="2.5">2</tspan><tspan dy="-2.5">O</tspan><tspan font-size="5.3" dy="2.5">7</tspan><tspan font-size="6.6" dy="-4">−</tspan></text>
<line x1="467.60" y1="215.50" x2="481.10" y2="215.50" stroke="#e8312b" stroke-width="0.7"/>
<rect x="472.30" y="213.45" width="4.1" height="4.1" fill="#fff" stroke="#e8312b" stroke-width="0.9"/>
<text transform="translate(483.10,218.10) scale(1,1.08)" x="0" y="0" font-size="9.1" fill="#231f20" stroke="#231f20" stroke-width="0.14">Na<tspan font-size="5.3" dy="2.5">2</tspan><tspan dy="-2.5">PO</tspan><tspan font-size="5.3" dy="2.5">4</tspan><tspan font-size="6.6" dy="-4">−</tspan></text>
<text transform="translate(607.50,206.50) scale(1,1.08)" x="0" y="0" font-size="9.1" fill="#231f20" stroke="#231f20" stroke-width="0.14">NaINa<tspan font-size="5.3" dy="2.5">3</tspan><tspan dy="-2.5">PS</tspan><tspan font-size="5.3" dy="2.5">3.4</tspan><tspan dy="-2.5">O</tspan><tspan font-size="5.3" dy="2.5">0.6</tspan></text>
<text transform="translate(404.50,379.00) scale(1,1.08)" x="0" y="0" font-size="9.5" text-anchor="middle" fill="#231f20" stroke="#231f20" stroke-width="0.14" font-weight="normal" >0</text>
<text transform="translate(494.50,379.00) scale(1,1.08)" x="0" y="0" font-size="9.5" text-anchor="middle" fill="#231f20" stroke="#231f20" stroke-width="0.14" font-weight="normal" >2000</text>
<text transform="translate(584.50,379.00) scale(1,1.08)" x="0" y="0" font-size="9.5" text-anchor="middle" fill="#231f20" stroke="#231f20" stroke-width="0.14" font-weight="normal" >4000</text>
<text transform="translate(674.50,379.00) scale(1,1.08)" x="0" y="0" font-size="9.5" text-anchor="middle" fill="#231f20" stroke="#231f20" stroke-width="0.14" font-weight="normal" >6000</text>
<text transform="translate(539.40,393.50) scale(1,1.08)" x="0" y="0" font-size="9.5" text-anchor="middle" fill="#231f20" stroke="#231f20" stroke-width="0.14" font-weight="normal" >Sputtering Time (s)</text>
<text transform="translate(369.9,86.1) rotate(-90) scale(1,1.08)" font-size="9.5" text-anchor="middle" fill="#231f20" stroke="#231f20" stroke-width="0.14">Intensity</text>
<text transform="translate(369.9,273.5) rotate(-90) scale(1,1.08)" font-size="9.5" text-anchor="middle" fill="#231f20" stroke="#231f20" stroke-width="0.14">Intensity</text>
</svg></body></html>
